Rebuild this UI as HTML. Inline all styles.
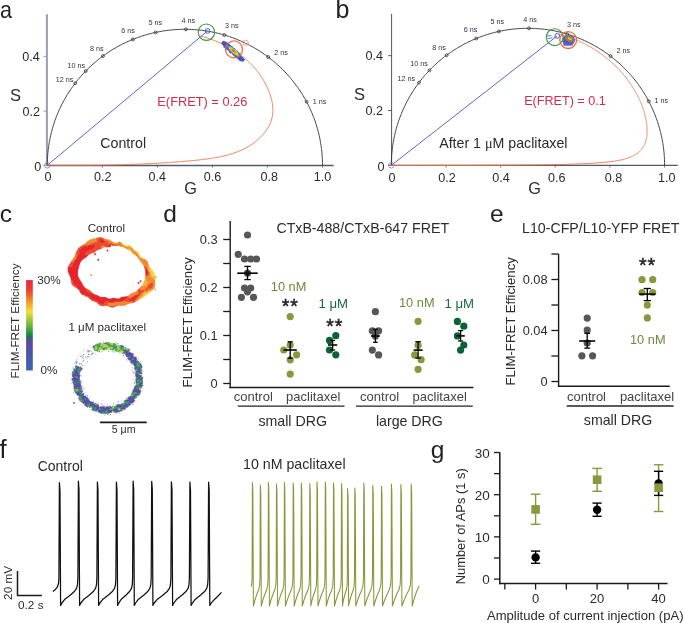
<!DOCTYPE html>
<html><head><meta charset="utf-8"><style>
html,body{margin:0;padding:0;background:#fff;}
svg{display:block;font-family:"Liberation Sans", sans-serif;will-change:transform;}
</style></head><body>
<svg width="685" height="623" viewBox="0 0 685 623">
<rect width="685" height="623" fill="#fff"/>
<text x="0.0" y="18.4" font-size="24" fill="#222" textLength="12" lengthAdjust="spacingAndGlyphs">a</text>
<line x1="46.90" y1="14.20" x2="46.90" y2="165.60" stroke="#9aa0aa" stroke-width="2.0" />
<line x1="43.40" y1="56.40" x2="46.90" y2="56.40" stroke="#9aa0aa" stroke-width="1" />
<line x1="43.40" y1="111.10" x2="46.90" y2="111.10" stroke="#9aa0aa" stroke-width="1" />
<line x1="43.40" y1="165.20" x2="46.90" y2="165.20" stroke="#9aa0aa" stroke-width="1" />
<line x1="46.80" y1="165.50" x2="333.70" y2="165.50" stroke="#555a68" stroke-width="1.4" />
<line x1="102.34" y1="165.50" x2="102.34" y2="167.70" stroke="#555a68" stroke-width="0.8" />
<line x1="157.38" y1="165.50" x2="157.38" y2="167.70" stroke="#555a68" stroke-width="0.8" />
<line x1="212.42" y1="165.50" x2="212.42" y2="167.70" stroke="#555a68" stroke-width="0.8" />
<line x1="267.46" y1="165.50" x2="267.46" y2="167.70" stroke="#555a68" stroke-width="0.8" />
<line x1="322.50" y1="165.50" x2="322.50" y2="167.70" stroke="#555a68" stroke-width="0.8" />
<path d="M322.50,165.30 L322.49,163.87 L322.47,162.44 L322.43,161.01 L322.38,159.59 L322.31,158.16 L322.23,156.73 L322.13,155.31 L322.01,153.88 L321.89,152.46 L321.74,151.04 L321.58,149.62 L321.41,148.20 L321.22,146.78 L321.01,145.37 L320.79,143.95 L320.56,142.54 L320.31,141.14 L320.05,139.73 L319.77,138.33 L319.47,136.93 L319.16,135.53 L318.84,134.14 L318.50,132.75 L318.15,131.37 L317.78,129.99 L317.40,128.61 L317.00,127.23 L316.59,125.86 L316.16,124.50 L315.72,123.14 L315.27,121.78 L314.80,120.43 L314.31,119.08 L313.81,117.74 L313.30,116.41 L312.77,115.08 L312.23,113.75 L311.68,112.43 L311.11,111.12 L310.53,109.81 L309.93,108.51 L309.32,107.21 L308.69,105.92 L308.06,104.64 L307.40,103.37 L306.74,102.10 L306.06,100.84 L305.37,99.58 L304.66,98.33 L303.94,97.09 L303.21,95.86 L302.47,94.64 L301.71,93.42 L300.94,92.21 L300.16,91.01 L299.36,89.82 L298.55,88.63 L297.73,87.46 L296.90,86.29 L296.05,85.13 L295.19,83.98 L294.32,82.84 L293.44,81.71 L292.54,80.59 L291.64,79.47 L290.72,78.37 L289.79,77.27 L288.85,76.19 L287.90,75.12 L286.93,74.05 L285.96,73.00 L284.97,71.95 L283.97,70.92 L282.96,69.89 L281.94,68.88 L280.91,67.88 L279.87,66.89 L278.82,65.91 L277.76,64.94 L276.69,63.98 L275.60,63.03 L274.51,62.09 L273.41,61.17 L272.30,60.26 L271.18,59.35 L270.04,58.46 L268.90,57.59 L267.75,56.72 L266.60,55.86 L265.43,55.02 L264.25,54.19 L263.07,53.37 L261.87,52.57 L260.67,51.78 L259.46,50.99 L258.24,50.23 L257.01,49.47 L255.78,48.73 L254.53,48.00 L253.28,47.28 L252.02,46.58 L250.76,45.89 L249.49,45.21 L248.20,44.55 L246.92,43.90 L245.62,43.26 L244.32,42.64 L243.02,42.03 L241.70,41.43 L240.38,40.85 L239.06,40.28 L237.72,39.72 L236.39,39.18 L235.04,38.65 L233.69,38.14 L232.34,37.64 L230.98,37.15 L229.61,36.68 L228.24,36.22 L226.87,35.78 L225.49,35.35 L224.11,34.94 L222.72,34.54 L221.33,34.15 L219.93,33.78 L218.53,33.42 L217.13,33.08 L215.72,32.76 L214.31,32.44 L212.90,32.14 L211.48,31.86 L210.06,31.59 L208.64,31.34 L207.21,31.10 L205.78,30.88 L204.35,30.67 L202.92,30.47 L201.49,30.29 L200.05,30.13 L198.61,29.98 L197.17,29.84 L195.73,29.72 L194.29,29.62 L192.85,29.53 L191.40,29.45 L189.96,29.39 L188.51,29.35 L187.07,29.32 L185.62,29.30 L184.18,29.30 L182.73,29.32 L181.29,29.35 L179.84,29.39 L178.40,29.45 L176.95,29.53 L175.51,29.62 L174.07,29.72 L172.63,29.84 L171.19,29.98 L169.75,30.13 L168.31,30.29 L166.88,30.47 L165.45,30.67 L164.02,30.88 L162.59,31.10 L161.16,31.34 L159.74,31.59 L158.32,31.86 L156.90,32.14 L155.49,32.44 L154.08,32.76 L152.67,33.08 L151.27,33.42 L149.87,33.78 L148.47,34.15 L147.08,34.54 L145.69,34.94 L144.31,35.35 L142.93,35.78 L141.56,36.22 L140.19,36.68 L138.82,37.15 L137.46,37.64 L136.11,38.14 L134.76,38.65 L133.41,39.18 L132.08,39.72 L130.74,40.28 L129.42,40.85 L128.10,41.43 L126.78,42.03 L125.48,42.64 L124.18,43.26 L122.88,43.90 L121.60,44.55 L120.31,45.21 L119.04,45.89 L117.78,46.58 L116.52,47.28 L115.27,48.00 L114.02,48.73 L112.79,49.47 L111.56,50.23 L110.34,50.99 L109.13,51.78 L107.93,52.57 L106.73,53.37 L105.55,54.19 L104.37,55.02 L103.20,55.86 L102.05,56.72 L100.90,57.59 L99.76,58.46 L98.62,59.35 L97.50,60.26 L96.39,61.17 L95.29,62.09 L94.20,63.03 L93.11,63.98 L92.04,64.94 L90.98,65.91 L89.93,66.89 L88.89,67.88 L87.86,68.88 L86.84,69.89 L85.83,70.92 L84.83,71.95 L83.84,73.00 L82.87,74.05 L81.90,75.12 L80.95,76.19 L80.01,77.27 L79.08,78.37 L78.16,79.47 L77.26,80.59 L76.36,81.71 L75.48,82.84 L74.61,83.98 L73.75,85.13 L72.90,86.29 L72.07,87.46 L71.25,88.63 L70.44,89.82 L69.64,91.01 L68.86,92.21 L68.09,93.42 L67.33,94.64 L66.59,95.86 L65.86,97.09 L65.14,98.33 L64.43,99.58 L63.74,100.84 L63.06,102.10 L62.40,103.37 L61.74,104.64 L61.11,105.92 L60.48,107.21 L59.87,108.51 L59.27,109.81 L58.69,111.12 L58.12,112.43 L57.57,113.75 L57.03,115.08 L56.50,116.41 L55.99,117.74 L55.49,119.08 L55.00,120.43 L54.53,121.78 L54.08,123.14 L53.64,124.50 L53.21,125.86 L52.80,127.23 L52.40,128.61 L52.02,129.99 L51.65,131.37 L51.30,132.75 L50.96,134.14 L50.64,135.53 L50.33,136.93 L50.03,138.33 L49.75,139.73 L49.49,141.14 L49.24,142.54 L49.01,143.95 L48.79,145.37 L48.58,146.78 L48.39,148.20 L48.22,149.62 L48.06,151.04 L47.91,152.46 L47.79,153.88 L47.67,155.31 L47.57,156.73 L47.49,158.16 L47.42,159.59 L47.37,161.01 L47.33,162.44 L47.31,163.87 L47.30,165.30" fill="none" stroke="#2e2e2e" stroke-width="0.9" stroke-linejoin="round" />
<circle cx="306.53" cy="101.71" r="1.45" fill="none" stroke="#333" stroke-width="0.8" />
<circle cx="268.10" cy="56.98" r="1.45" fill="none" stroke="#333" stroke-width="0.8" />
<circle cx="224.35" cy="35.01" r="1.45" fill="none" stroke="#333" stroke-width="0.8" />
<circle cx="185.90" cy="29.30" r="1.45" fill="none" stroke="#333" stroke-width="0.8" />
<circle cx="155.65" cy="32.41" r="1.45" fill="none" stroke="#333" stroke-width="0.8" />
<circle cx="132.83" cy="39.41" r="1.45" fill="none" stroke="#333" stroke-width="0.8" />
<circle cx="102.98" cy="56.03" r="1.45" fill="none" stroke="#333" stroke-width="0.8" />
<circle cx="85.74" cy="71.01" r="1.45" fill="none" stroke="#333" stroke-width="0.8" />
<circle cx="75.18" cy="83.22" r="1.45" fill="none" stroke="#333" stroke-width="0.8" />
<text x="73.30" y="82.40" font-size="7.2" fill="#333340" text-anchor="end" >12 ns</text>
<text x="85.20" y="67.50" font-size="7.2" fill="#333340" text-anchor="end" >10 ns</text>
<text x="103.50" y="51.00" font-size="7.2" fill="#333340" text-anchor="end" >8 ns</text>
<text x="134.90" y="33.20" font-size="7.2" fill="#333340" text-anchor="end" >6 ns</text>
<text x="155.40" y="25.10" font-size="7.2" fill="#333340" text-anchor="middle" >5 ns</text>
<text x="181.40" y="23.20" font-size="7.2" fill="#333340" text-anchor="start" >4 ns</text>
<text x="225.00" y="28.10" font-size="7.2" fill="#333340" text-anchor="start" >3 ns</text>
<text x="274.20" y="55.10" font-size="7.2" fill="#333340" text-anchor="start" >2 ns</text>
<text x="312.80" y="103.60" font-size="7.2" fill="#333340" text-anchor="start" >1 ns</text>
<line x1="47.30" y1="165.30" x2="207.60" y2="30.90" stroke="#5a6ac8" stroke-width="1.0" />
<circle cx="47.30" cy="165.30" r="2.80" fill="none" stroke="#7a82c8" stroke-width="0.8" />
<path d="M200.57,35.92 L201.46,36.17 L202.35,36.43 L203.23,36.69 L204.12,36.96 L205.00,37.23 L205.88,37.51 L206.75,37.79 L207.62,38.08 L208.49,38.38 L209.36,38.67 L210.22,38.98 L211.08,39.29 L211.94,39.60 L212.79,39.92 L213.64,40.24 L214.49,40.57 L215.33,40.90 L216.17,41.24 L217.01,41.59 L217.84,41.94 L218.67,42.30 L219.50,42.66 L220.32,43.03 L221.14,43.40 L221.95,43.78 L222.76,44.16 L223.57,44.55 L224.37,44.95 L225.17,45.35 L225.97,45.76 L226.76,46.17 L227.55,46.59 L228.33,47.01 L229.11,47.44 L229.88,47.88 L230.65,48.32 L231.42,48.77 L232.18,49.23 L232.94,49.69 L233.69,50.16 L234.44,50.63 L235.19,51.11 L235.92,51.60 L236.66,52.09 L237.39,52.59 L238.11,53.09 L238.84,53.60 L239.55,54.12 L240.26,54.65 L240.97,55.18 L241.67,55.72 L242.36,56.26 L243.05,56.81 L243.74,57.37 L244.42,57.94 L245.10,58.51 L245.77,59.09 L246.43,59.67 L247.09,60.27 L247.74,60.87 L248.39,61.47 L249.03,62.09 L249.67,62.71 L250.30,63.33 L250.93,63.97 L251.55,64.61 L252.16,65.26 L252.77,65.92 L253.37,66.58 L253.97,67.25 L254.56,67.93 L255.15,68.62 L255.73,69.31 L256.30,70.01 L256.86,70.72 L257.43,71.44 L257.98,72.16 L258.53,72.89 L259.07,73.63 L259.60,74.38 L260.13,75.13 L260.65,75.90 L261.17,76.67 L261.68,77.44 L262.18,78.23 L262.68,79.02 L263.17,79.83 L263.65,80.63 L264.12,81.45 L264.59,82.27 L265.04,83.10 L265.49,83.94 L265.93,84.78 L266.35,85.62 L266.77,86.47 L267.18,87.33 L267.58,88.19 L267.96,89.06 L268.33,89.93 L268.70,90.80 L269.04,91.68 L269.38,92.56 L269.70,93.44 L270.01,94.32 L270.31,95.21 L270.59,96.10 L270.86,96.99 L271.11,97.89 L271.35,98.78 L271.57,99.68 L271.77,100.57 L271.96,101.47 L272.14,102.37 L272.29,103.26 L272.43,104.16 L272.55,105.06 L272.65,105.95 L272.73,106.84 L272.79,107.74 L272.84,108.63 L272.86,109.51 L272.87,110.40 L272.85,111.28 L272.81,112.16 L272.76,113.04 L272.68,113.91 L272.57,114.78 L272.45,115.64 L272.30,116.50 L272.13,117.36 L271.94,118.21 L271.72,119.05 L271.48,119.89 L271.22,120.72 L270.93,121.55 L270.61,122.37 L270.28,123.18 L269.92,123.99 L269.55,124.79 L269.15,125.59 L268.73,126.37 L268.29,127.15 L267.84,127.92 L267.36,128.68 L266.87,129.43 L266.37,130.18 L265.85,130.91 L265.31,131.64 L264.76,132.36 L264.19,133.06 L263.61,133.76 L263.02,134.45 L262.42,135.12 L261.81,135.79 L261.18,136.45 L260.55,137.09 L259.91,137.72 L259.26,138.35 L258.60,138.95 L257.94,139.55 L257.26,140.14 L256.58,140.71 L255.90,141.28 L255.21,141.83 L254.51,142.37 L253.80,142.90 L253.09,143.41 L252.37,143.92 L251.65,144.42 L250.92,144.90 L250.18,145.38 L249.44,145.84 L248.70,146.30 L247.94,146.74 L247.18,147.18 L246.42,147.60 L245.65,148.02 L244.88,148.42 L244.10,148.82 L243.31,149.21 L242.52,149.59 L241.73,149.96 L240.93,150.32 L240.12,150.67 L239.32,151.01 L238.50,151.35 L237.69,151.67 L236.86,151.99 L236.04,152.30 L235.21,152.60 L234.37,152.90 L233.53,153.19 L232.69,153.47 L231.85,153.74 L231.00,154.00 L230.14,154.26 L229.29,154.51 L228.43,154.76 L227.56,155.00 L226.70,155.23 L225.83,155.45 L224.96,155.67 L224.08,155.89 L223.20,156.09 L222.32,156.29 L221.44,156.49 L220.55,156.68 L219.67,156.86 L218.77,157.04 L217.88,157.22 L216.99,157.39 L216.09,157.55 L215.19,157.71 L214.29,157.87 L213.39,158.02 L212.48,158.16 L211.58,158.31 L210.67,158.44 L209.76,158.58 L208.85,158.71 L207.94,158.84 L207.03,158.96 L206.12,159.08 L205.20,159.20 L204.29,159.31 L203.37,159.42 L202.46,159.53 L201.54,159.64 L200.63,159.74 L199.71,159.84 L198.79,159.94 L197.87,160.04 L196.96,160.13 L196.04,160.22 L195.12,160.32 L194.20,160.41 L193.29,160.49 L192.37,160.58 L191.46,160.67 L190.54,160.75 L189.63,160.83 L188.71,160.92 L187.80,161.00 L186.89,161.08 L185.97,161.16 L185.06,161.24 L184.15,161.32 L183.24,161.39 L182.33,161.47 L181.42,161.54 L180.51,161.62 L179.60,161.69 L178.70,161.76 L177.79,161.83 L176.88,161.90 L175.98,161.97 L175.07,162.04 L174.16,162.11 L173.26,162.18 L172.35,162.24 L171.45,162.31 L170.55,162.37 L169.64,162.43 L168.74,162.49 L167.84,162.55 L166.94,162.61 L166.03,162.67 L165.13,162.73 L164.23,162.79 L163.33,162.85 L162.43,162.90 L161.53,162.96 L160.63,163.01 L159.73,163.07 L158.83,163.12 L157.93,163.17 L157.04,163.22 L156.14,163.27 L155.24,163.32 L154.34,163.37 L153.44,163.42 L152.55,163.46 L151.65,163.51 L150.75,163.56 L149.86,163.60 L148.96,163.65 L148.07,163.69 L147.17,163.73 L146.27,163.77 L145.38,163.81 L144.48,163.85 L143.59,163.89 L142.69,163.93 L141.80,163.97 L140.91,164.01 L140.01,164.05 L139.12,164.08 L138.22,164.12 L137.33,164.15 L136.43,164.19 L135.54,164.22 L134.65,164.25 L133.75,164.28 L132.86,164.32 L131.97,164.35 L131.07,164.38 L130.18,164.41 L129.29,164.44 L128.39,164.46 L127.50,164.49 L126.61,164.52 L125.71,164.55 L124.82,164.57 L123.93,164.60 L123.03,164.62 L122.14,164.65 L121.25,164.67 L120.35,164.69 L119.46,164.71 L118.56,164.74 L117.67,164.76 L116.78,164.78 L115.88,164.80 L114.99,164.82 L114.10,164.84 L113.20,164.86 L112.31,164.88 L111.41,164.89 L110.52,164.91 L109.62,164.93 L108.73,164.94 L107.83,164.96 L106.94,164.98 L106.04,164.99 L105.15,165.00 L104.25,165.02 L103.35,165.03 L102.46,165.05 L101.56,165.06 L100.67,165.07 L99.77,165.08 L98.87,165.09 L97.97,165.10 L97.08,165.11 L96.18,165.13 L95.28,165.13 L94.38,165.14 L93.48,165.15 L92.58,165.16 L91.68,165.17 L90.78,165.18 L89.88,165.19 L88.98,165.19 L88.08,165.20 L87.18,165.21 L86.28,165.21 L85.38,165.22 L84.47,165.22 L83.57,165.23 L82.67,165.23 L81.76,165.24 L80.86,165.24 L79.96,165.25 L79.05,165.25 L78.15,165.25 L77.24,165.26 L76.33,165.26 L75.43,165.26 L74.52,165.26 L73.61,165.27 L72.70,165.27 L71.80,165.27 L70.89,165.27 L69.98,165.27 L69.07,165.27 L68.15,165.27 L67.24,165.28 L66.33,165.28 L65.42,165.28 L64.51,165.28 L63.59,165.28 L62.68,165.27 L61.76,165.27 L60.85,165.27 L59.93,165.27 L59.02,165.27 L58.10,165.27 L57.18,165.27 L56.26,165.27 L55.34,165.27 L54.42,165.26 L53.50,165.26 L52.58,165.26 L51.66,165.26 L50.74,165.26 L49.81,165.25 L48.89,165.25 L47.96,165.25 L47.04,165.25" fill="none" stroke="#f07a50" stroke-width="1.0" stroke-linejoin="round"/>

<g transform="translate(233.1,51.4) rotate(41)">
<path d="M-14.5,-1.6 L-13.5,-2.2 L-12.6,-2.0 L-11.6,-2.7 L-10.6,-2.6 L-9.7,-3.2 L-8.7,-3.0 L-7.7,-3.5 L-6.8,-2.9 L-5.8,-3.2 L-4.8,-3.1 L-3.9,-3.5 L-2.9,-3.2 L-1.9,-2.8 L-1.0,-3.5 L0.0,-3.3 L0.9,-3.1 L1.9,-2.7 L2.9,-3.4 L3.8,-2.7 L4.8,-3.0 L5.8,-2.8 L6.7,-3.4 L7.7,-2.9 L8.7,-2.1 L9.6,-1.9 L10.6,-2.0 L11.6,-1.8 L12.5,-1.7 L14.5,-1.5 L14.5,1.6 L13.5,1.4 L12.6,2.4 L11.6,2.6 L10.6,2.8 L9.7,3.1 L8.7,2.6 L7.7,3.1 L6.8,2.9 L5.8,3.4 L4.8,3.3 L3.9,2.8 L2.9,2.9 L1.9,3.0 L1.0,2.5 L0.0,2.5 L-0.9,3.5 L-1.9,3.5 L-2.9,2.6 L-3.8,2.8 L-4.8,2.6 L-5.8,3.0 L-6.7,3.4 L-7.7,3.6 L-8.7,2.8 L-9.6,3.6 L-10.6,2.3 L-11.6,2.4 L-12.5,1.9 L-14.5,1.6Z" fill="#4654c0"/>
<ellipse cx="0.2" cy="-0.5" rx="8.2" ry="2.5" fill="#4a8ad0"/>
<ellipse cx="0.3" cy="-0.5" rx="7.0" ry="2.1" fill="#7cc060"/>
<ellipse cx="0.4" cy="-0.6" rx="5.6" ry="1.8" fill="#d8d840"/>
<ellipse cx="0.0" cy="-0.7" rx="3.4" ry="1.3" fill="#f09a30"/>
<ellipse cx="-0.3" cy="-0.8" rx="1.6" ry="0.8" fill="#e85a30"/>
</g>
<circle cx="206.40" cy="32.20" r="8.20" fill="none" stroke="#3c9a4c" stroke-width="1.1" />
<circle cx="207.60" cy="30.90" r="2.40" fill="none" stroke="#4a5ad0" stroke-width="1.0" />
<circle cx="234.00" cy="49.40" r="8.50" fill="none" stroke="#f06a3a" stroke-width="1.3" />
<circle cx="245.60" cy="42.80" r="2.70" fill="none" stroke="#f08a70" stroke-width="0.8" />
<text x="48.00" y="181.30" font-size="12.6" fill="#2b2b2b" text-anchor="middle" >0</text>
<text x="102.70" y="181.30" font-size="12.6" fill="#2b2b2b" text-anchor="middle" >0.2</text>
<text x="157.30" y="181.30" font-size="12.6" fill="#2b2b2b" text-anchor="middle" >0.4</text>
<text x="212.40" y="181.30" font-size="12.6" fill="#2b2b2b" text-anchor="middle" >0.6</text>
<text x="269.20" y="181.30" font-size="12.6" fill="#2b2b2b" text-anchor="middle" >0.8</text>
<text x="322.50" y="181.30" font-size="12.6" fill="#2b2b2b" text-anchor="middle" >1.0</text>
<text x="39.80" y="60.70" font-size="12.6" fill="#2b2b2b" text-anchor="end" >0.4</text>
<text x="40.00" y="115.80" font-size="12.6" fill="#2b2b2b" text-anchor="end" >0.2</text>
<text x="41.20" y="170.70" font-size="12.6" fill="#2b2b2b" text-anchor="end" >0</text>
<text x="10.00" y="100.50" font-size="16.5" fill="#2b2b2b" text-anchor="start" >S</text>
<text x="190.50" y="194.20" font-size="16.3" fill="#2b2b2b" text-anchor="middle" >G</text>
<text x="247.30" y="106.20" font-size="12.8" fill="#d02c4c" text-anchor="end" >E(FRET) = 0.26</text>
<text x="100.30" y="147.50" font-size="14.2" fill="#2b2b2b" text-anchor="start" >Control</text>
<text x="335.5" y="18.3" font-size="25" fill="#222">b</text>
<line x1="391.60" y1="13.90" x2="391.60" y2="165.60" stroke="#555" stroke-width="1.0" />
<line x1="388.10" y1="55.70" x2="391.60" y2="55.70" stroke="#555" stroke-width="1" />
<line x1="388.10" y1="110.50" x2="391.60" y2="110.50" stroke="#555" stroke-width="1" />
<line x1="388.10" y1="165.20" x2="391.60" y2="165.20" stroke="#555" stroke-width="1" />
<line x1="390.80" y1="165.40" x2="677.80" y2="165.40" stroke="#555a68" stroke-width="1.4" />
<line x1="445.96" y1="165.40" x2="445.96" y2="167.60" stroke="#555a68" stroke-width="0.8" />
<line x1="500.62" y1="165.40" x2="500.62" y2="167.60" stroke="#555a68" stroke-width="0.8" />
<line x1="555.28" y1="165.40" x2="555.28" y2="167.60" stroke="#555a68" stroke-width="0.8" />
<line x1="609.94" y1="165.40" x2="609.94" y2="167.60" stroke="#555a68" stroke-width="0.8" />
<line x1="664.60" y1="165.40" x2="664.60" y2="167.60" stroke="#555a68" stroke-width="0.8" />
<path d="M664.60,165.30 L664.59,163.86 L664.57,162.42 L664.53,160.98 L664.48,159.54 L664.41,158.11 L664.33,156.67 L664.23,155.23 L664.12,153.80 L663.99,152.36 L663.85,150.93 L663.69,149.50 L663.52,148.07 L663.33,146.65 L663.12,145.22 L662.91,143.80 L662.67,142.38 L662.43,140.96 L662.16,139.54 L661.89,138.13 L661.59,136.72 L661.29,135.32 L660.97,133.91 L660.63,132.51 L660.28,131.12 L659.91,129.73 L659.53,128.34 L659.14,126.95 L658.73,125.57 L658.31,124.20 L657.87,122.83 L657.42,121.46 L656.95,120.10 L656.47,118.74 L655.97,117.39 L655.46,116.05 L654.94,114.71 L654.40,113.37 L653.85,112.04 L653.29,110.72 L652.71,109.40 L652.12,108.09 L651.51,106.79 L650.89,105.49 L650.26,104.20 L649.61,102.91 L648.95,101.63 L648.27,100.36 L647.59,99.10 L646.89,97.84 L646.17,96.59 L645.45,95.35 L644.71,94.12 L643.95,92.89 L643.19,91.67 L642.41,90.46 L641.62,89.26 L640.82,88.07 L640.00,86.88 L639.17,85.71 L638.33,84.54 L637.48,83.38 L636.62,82.23 L635.74,81.09 L634.85,79.96 L633.95,78.84 L633.04,77.73 L632.12,76.63 L631.18,75.53 L630.23,74.45 L629.28,73.38 L628.31,72.32 L627.33,71.27 L626.34,70.22 L625.33,69.19 L624.32,68.17 L623.30,67.16 L622.27,66.16 L621.22,65.18 L620.17,64.20 L619.10,63.23 L618.03,62.28 L616.94,61.34 L615.85,60.40 L614.74,59.48 L613.63,58.57 L612.51,57.68 L611.37,56.79 L610.23,55.92 L609.08,55.06 L607.92,54.21 L606.75,53.38 L605.58,52.55 L604.39,51.74 L603.20,50.94 L601.99,50.15 L600.78,49.38 L599.56,48.62 L598.34,47.87 L597.10,47.14 L595.86,46.42 L594.61,45.71 L593.35,45.01 L592.09,44.33 L590.82,43.66 L589.54,43.00 L588.25,42.36 L586.96,41.73 L585.66,41.12 L584.36,40.52 L583.05,39.93 L581.73,39.36 L580.41,38.80 L579.08,38.25 L577.75,37.72 L576.41,37.20 L575.06,36.70 L573.71,36.21 L572.36,35.74 L571.00,35.27 L569.63,34.83 L568.26,34.40 L566.89,33.98 L565.51,33.58 L564.13,33.19 L562.74,32.81 L561.35,32.46 L559.96,32.11 L558.56,31.78 L557.16,31.47 L555.75,31.17 L554.35,30.88 L552.93,30.61 L551.52,30.35 L550.11,30.11 L548.69,29.89 L547.27,29.68 L545.85,29.48 L544.42,29.30 L543.00,29.13 L541.57,28.98 L540.14,28.85 L538.71,28.73 L537.28,28.62 L535.84,28.53 L534.41,28.45 L532.97,28.39 L531.54,28.35 L530.10,28.32 L528.67,28.30 L527.23,28.30 L525.80,28.32 L524.36,28.35 L522.93,28.39 L521.49,28.45 L520.06,28.53 L518.62,28.62 L517.19,28.73 L515.76,28.85 L514.33,28.98 L512.90,29.13 L511.48,29.30 L510.05,29.48 L508.63,29.68 L507.21,29.89 L505.79,30.11 L504.38,30.35 L502.97,30.61 L501.55,30.88 L500.15,31.17 L498.74,31.47 L497.34,31.78 L495.94,32.11 L494.55,32.46 L493.16,32.81 L491.77,33.19 L490.39,33.58 L489.01,33.98 L487.64,34.40 L486.27,34.83 L484.90,35.27 L483.54,35.74 L482.19,36.21 L480.84,36.70 L479.49,37.20 L478.15,37.72 L476.82,38.25 L475.49,38.80 L474.17,39.36 L472.85,39.93 L471.54,40.52 L470.24,41.12 L468.94,41.73 L467.65,42.36 L466.36,43.00 L465.08,43.66 L463.81,44.33 L462.55,45.01 L461.29,45.71 L460.04,46.42 L458.80,47.14 L457.56,47.87 L456.34,48.62 L455.12,49.38 L453.91,50.15 L452.70,50.94 L451.51,51.74 L450.32,52.55 L449.15,53.38 L447.98,54.21 L446.82,55.06 L445.67,55.92 L444.53,56.79 L443.39,57.68 L442.27,58.57 L441.16,59.48 L440.05,60.40 L438.96,61.34 L437.87,62.28 L436.80,63.23 L435.73,64.20 L434.68,65.18 L433.63,66.16 L432.60,67.16 L431.58,68.17 L430.57,69.19 L429.56,70.22 L428.57,71.27 L427.59,72.32 L426.62,73.38 L425.67,74.45 L424.72,75.53 L423.78,76.63 L422.86,77.73 L421.95,78.84 L421.05,79.96 L420.16,81.09 L419.28,82.23 L418.42,83.38 L417.57,84.54 L416.73,85.71 L415.90,86.88 L415.08,88.07 L414.28,89.26 L413.49,90.46 L412.71,91.67 L411.95,92.89 L411.19,94.12 L410.45,95.35 L409.73,96.59 L409.01,97.84 L408.31,99.10 L407.63,100.36 L406.95,101.63 L406.29,102.91 L405.64,104.20 L405.01,105.49 L404.39,106.79 L403.78,108.09 L403.19,109.40 L402.61,110.72 L402.05,112.04 L401.50,113.37 L400.96,114.71 L400.44,116.05 L399.93,117.39 L399.43,118.74 L398.95,120.10 L398.48,121.46 L398.03,122.83 L397.59,124.20 L397.17,125.57 L396.76,126.95 L396.37,128.34 L395.99,129.73 L395.62,131.12 L395.27,132.51 L394.93,133.91 L394.61,135.32 L394.31,136.72 L394.01,138.13 L393.74,139.54 L393.47,140.96 L393.23,142.38 L392.99,143.80 L392.78,145.22 L392.57,146.65 L392.38,148.07 L392.21,149.50 L392.05,150.93 L391.91,152.36 L391.78,153.80 L391.67,155.23 L391.57,156.67 L391.49,158.11 L391.42,159.54 L391.37,160.98 L391.33,162.42 L391.31,163.86 L391.30,165.30" fill="none" stroke="#2e2e2e" stroke-width="0.9" stroke-linejoin="round" />
<circle cx="648.74" cy="101.24" r="1.45" fill="none" stroke="#333" stroke-width="0.8" />
<circle cx="610.57" cy="56.18" r="1.45" fill="none" stroke="#333" stroke-width="0.8" />
<circle cx="567.13" cy="34.05" r="1.45" fill="none" stroke="#333" stroke-width="0.8" />
<circle cx="528.95" cy="28.30" r="1.45" fill="none" stroke="#333" stroke-width="0.8" />
<circle cx="498.90" cy="31.43" r="1.45" fill="none" stroke="#333" stroke-width="0.8" />
<circle cx="476.24" cy="38.49" r="1.45" fill="none" stroke="#333" stroke-width="0.8" />
<circle cx="446.60" cy="55.22" r="1.45" fill="none" stroke="#333" stroke-width="0.8" />
<circle cx="429.47" cy="70.32" r="1.45" fill="none" stroke="#333" stroke-width="0.8" />
<circle cx="418.99" cy="82.62" r="1.45" fill="none" stroke="#333" stroke-width="0.8" />
<text x="415.20" y="81.20" font-size="7.2" fill="#333340" text-anchor="end" >12 ns</text>
<text x="427.90" y="66.30" font-size="7.2" fill="#333340" text-anchor="end" >10 ns</text>
<text x="445.90" y="49.50" font-size="7.2" fill="#333340" text-anchor="end" >8 ns</text>
<text x="477.40" y="32.20" font-size="7.2" fill="#333340" text-anchor="end" >6 ns</text>
<text x="497.40" y="24.00" font-size="7.2" fill="#333340" text-anchor="middle" >5 ns</text>
<text x="523.20" y="21.70" font-size="7.2" fill="#333340" text-anchor="start" >4 ns</text>
<text x="567.00" y="26.50" font-size="7.2" fill="#333340" text-anchor="start" >3 ns</text>
<text x="616.50" y="53.40" font-size="7.2" fill="#333340" text-anchor="start" >2 ns</text>
<text x="654.40" y="102.80" font-size="7.2" fill="#333340" text-anchor="start" >1 ns</text>
<line x1="391.30" y1="165.30" x2="557.20" y2="35.90" stroke="#5a6ac8" stroke-width="1.0" />
<circle cx="391.30" cy="165.30" r="2.80" fill="none" stroke="#7a82c8" stroke-width="0.8" />
<path d="M558.50,33.96 L558.60,33.98 L558.70,34.01 L558.79,34.03 L558.89,34.06 L558.99,34.08 L559.08,34.11 L559.18,34.14 L559.28,34.16 L559.37,34.19 L559.47,34.21 L559.57,34.24 L559.66,34.27 L559.76,34.29 L559.86,34.32 L559.95,34.34 L560.05,34.37 L560.15,34.40 L560.24,34.42 L560.34,34.45 L560.44,34.48 L560.54,34.50 L560.63,34.53 L560.73,34.56 L560.83,34.59 L560.92,34.61 L561.02,34.64 L561.12,34.67 L561.22,34.70 L561.31,34.72 L561.41,34.75 L561.51,34.78 L561.61,34.81 L561.70,34.83 L561.80,34.86 L561.90,34.89 L562.00,34.92 L562.09,34.95 L562.19,34.98 L562.29,35.00 L562.39,35.03 L562.49,35.06 L562.58,35.09 L562.68,35.12 L562.78,35.15 L562.88,35.18 L562.97,35.21 L563.07,35.24 L563.17,35.27 L563.27,35.30 L563.37,35.32 L563.46,35.35 L563.56,35.38 L563.66,35.41 L563.76,35.44 L563.86,35.47 L563.96,35.50 L564.05,35.53 L564.15,35.56 L564.25,35.60 L564.35,35.63 L564.45,35.66 L564.55,35.69 L564.64,35.72 L564.74,35.75 L564.84,35.78 L564.94,35.81 L565.04,35.84 L565.14,35.87 L565.24,35.91 L565.33,35.94 L565.43,35.97 L565.53,36.00 L565.63,36.03 L565.73,36.06 L565.83,36.10 L565.93,36.13 L566.03,36.16 L566.13,36.19 L566.22,36.22 L566.32,36.26 L566.42,36.29 L566.52,36.32 L566.62,36.35 L566.72,36.39 L566.82,36.42 L566.92,36.45 L567.02,36.49 L567.12,36.52 L567.22,36.55 L567.31,36.59 L567.41,36.62 L567.51,36.65 L567.61,36.69 L567.71,36.72 L567.81,36.76 L567.91,36.79 L568.01,36.82 L568.11,36.86 L568.21,36.89 L568.31,36.93 L568.41,36.96 L568.51,37.00 L568.61,37.03 L568.71,37.07 L568.81,37.10 L568.91,37.14 L569.01,37.17 L569.11,37.21 L569.21,37.24 L569.31,37.28 L569.41,37.31 L569.51,37.35 L569.61,37.38 L569.71,37.42 L569.81,37.46 L569.91,37.49 L570.01,37.53 L570.11,37.56 L570.21,37.60 L570.31,37.64 L570.41,37.67 L570.51,37.71 L570.61,37.75 L570.71,37.78 L570.81,37.82 L570.91,37.86 L571.01,37.90 L571.11,37.93 L571.21,37.97 L571.31,38.01 L571.41,38.04 L571.51,38.08 L571.61,38.12 L571.71,38.16 L571.81,38.20 L571.91,38.23 L572.01,38.27 L572.11,38.31 L572.21,38.35 L572.31,38.39 L572.41,38.43 L572.51,38.47 L572.62,38.50 L572.72,38.54 L572.82,38.58 L572.92,38.62 L573.02,38.66 L573.12,38.70 L573.22,38.74 L573.32,38.78 L573.42,38.82 L573.52,38.86 L573.62,38.90 L573.72,38.94 L573.82,38.98 L573.93,39.02 L574.03,39.06 L574.13,39.10 L574.23,39.14 L574.33,39.18 L574.43,39.22 L574.53,39.26 L574.63,39.30 L574.73,39.34 L574.84,39.39 L574.94,39.43 L575.04,39.47 L575.14,39.51 L575.24,39.55 L575.34,39.59 L575.44,39.64 L575.54,39.68 L575.64,39.72 L575.75,39.76 L575.85,39.80 L575.95,39.85 L576.05,39.89 L576.15,39.93 L576.25,39.97 L576.35,40.02 L576.46,40.06 L576.56,40.10 L576.66,40.15 L576.76,40.19 L576.86,40.23 L576.96,40.28 L577.06,40.32 L577.17,40.36 L577.27,40.41 L577.37,40.45 L577.47,40.50 L577.57,40.54 L577.67,40.58 L577.78,40.63 L577.88,40.67 L577.98,40.72 L578.08,40.76 L578.18,40.81 L578.28,40.85 L578.39,40.90 L578.49,40.94 L578.59,40.99 L578.69,41.03 L578.79,41.08 L578.90,41.12 L579.00,41.17 L579.10,41.22 L579.20,41.26 L579.30,41.31 L579.41,41.35 L579.51,41.40 L579.61,41.45 L579.71,41.49 L579.81,41.54 L579.91,41.59 L580.02,41.63 L580.12,41.68 L580.22,41.73 L580.32,41.77 L580.43,41.82 L580.53,41.87 L580.63,41.92 L580.73,41.96 L580.83,42.01 L580.94,42.06 L581.04,42.11 L581.14,42.16 L581.24,42.20 L581.34,42.25 L581.45,42.30 L581.55,42.35 L581.65,42.40 L581.75,42.45 L581.86,42.50 L581.96,42.55 L582.06,42.59 L582.16,42.64 L582.26,42.69 L582.37,42.74 L582.47,42.79 L582.57,42.84 L582.67,42.89 L582.78,42.94 L582.88,42.99 L582.98,43.04 L583.08,43.09 L583.19,43.14 L583.29,43.19 L583.39,43.24 L583.49,43.30 L583.59,43.35 L583.70,43.40 L583.80,43.45 L583.90,43.50 L584.00,43.55 L584.11,43.60 L584.21,43.65 L584.31,43.71 L584.41,43.76 L584.52,43.81 L584.62,43.86 L584.72,43.91 L584.82,43.97 L584.93,44.02 L585.03,44.07 L585.13,44.12 L585.23,44.18 L585.34,44.23 L585.44,44.28 L585.54,44.34 L585.64,44.39 L585.75,44.44 L585.85,44.50 L585.95,44.55 L586.05,44.60 L586.16,44.66 L586.26,44.71 L586.36,44.77 L586.46,44.82 L586.57,44.87 L586.67,44.93 L586.77,44.98 L586.87,45.04 L586.98,45.09 L587.08,45.15 L587.18,45.20 L587.29,45.26 L587.39,45.31 L587.49,45.37 L587.59,45.43 L587.70,45.48 L587.80,45.54 L587.90,45.59 L588.00,45.65 L588.11,45.71 L588.21,45.76 L588.31,45.82 L588.41,45.87 L588.52,45.93 L588.62,45.99 L588.72,46.05 L588.82,46.10 L588.93,46.16 L589.03,46.22 L589.13,46.27 L589.23,46.33 L589.34,46.39 L589.44,46.45 L589.54,46.51 L589.65,46.56 L589.75,46.62 L589.85,46.68 L589.95,46.74 L590.06,46.80 L590.16,46.86 L590.26,46.91 L590.36,46.97 L590.47,47.03 L590.57,47.09 L590.67,47.15 L590.77,47.21 L590.88,47.27 L590.98,47.33 L591.08,47.39 L591.18,47.45 L591.29,47.51 L591.39,47.57 L591.49,47.63 L591.59,47.69 L591.70,47.75 L591.80,47.81 L591.90,47.87 L592.01,47.93 L592.11,48.00 L592.21,48.06 L592.31,48.12 L592.42,48.18 L592.52,48.24 L592.62,48.30 L592.72,48.36 L592.83,48.43 L592.93,48.49 L593.03,48.55 L593.13,48.61 L593.24,48.68 L593.34,48.74 L593.44,48.80 L593.54,48.86 L593.64,48.93 L593.75,48.99 L593.85,49.05 L593.95,49.12 L594.05,49.18 L594.16,49.24 L594.26,49.31 L594.36,49.37 L594.46,49.44 L594.57,49.50 L594.67,49.56 L594.77,49.63 L594.87,49.69 L594.98,49.76 L595.08,49.82 L595.18,49.89 L595.28,49.95 L595.38,50.02 L595.49,50.08 L595.59,50.15 L595.69,50.21 L595.79,50.28 L595.90,50.35 L596.00,50.41 L596.10,50.48 L596.20,50.54 L596.30,50.61 L596.41,50.68 L596.51,50.74 L596.61,50.81 L596.71,50.88 L596.82,50.94 L596.92,51.01 L597.02,51.08 L597.12,51.15 L597.22,51.21 L597.33,51.28 L597.43,51.35 L597.53,51.42 L597.63,51.49 L597.73,51.55 L597.84,51.62 L597.94,51.69 L598.04,51.76 L598.14,51.83 L598.24,51.90 L598.34,51.97 L598.45,52.03 L598.55,52.10 L598.65,52.17 L598.75,52.24 L598.85,52.31 L598.96,52.38 L599.06,52.45 L599.16,52.52 L599.26,52.59 L599.36,52.66 L599.46,52.73 L599.57,52.80 L599.67,52.87 L599.77,52.95 L599.87,53.02 L599.97,53.09 L600.07,53.16 L600.17,53.23 L600.28,53.30 L600.38,53.37 L600.48,53.45 L600.58,53.52 L600.68,53.59 L600.78,53.66 L600.88,53.73 L600.99,53.81 L601.09,53.88 L601.19,53.95 L601.29,54.02 L601.39,54.10 L601.49,54.17 L601.59,54.24 L601.69,54.32 L601.79,54.39 L601.90,54.47 L602.00,54.54 L602.10,54.61 L602.20,54.69 L602.30,54.76 L602.40,54.84 L602.50,54.91 L602.60,54.98 L602.70,55.06 L602.80,55.13 L602.91,55.21 L603.01,55.28 L603.11,55.36 L603.21,55.44 L603.31,55.51 L603.41,55.59 L603.51,55.66 L603.61,55.74 L603.71,55.81 L603.81,55.89 L603.91,55.97 L604.01,56.04 L604.11,56.12 L604.21,56.20 L604.31,56.27 L604.41,56.35 L604.51,56.43 L604.61,56.51 L604.71,56.58 L604.82,56.66 L604.92,56.74 L605.02,56.82 L605.12,56.90 L605.22,56.97 L605.32,57.05 L605.42,57.13 L605.52,57.21 L605.62,57.29 L605.72,57.37 L605.82,57.45 L605.92,57.52 L606.02,57.60 L606.12,57.68 L606.22,57.76 L606.31,57.84 L606.41,57.92 L606.51,58.00 L606.61,58.08 L606.71,58.16 L606.81,58.24 L606.91,58.32 L607.01,58.40 L607.11,58.49 L607.21,58.57 L607.31,58.65 L607.41,58.73 L607.51,58.81 L607.61,58.89 L607.71,58.97 L607.81,59.06 L607.91,59.14 L608.00,59.22 L608.10,59.30 L608.20,59.38 L608.30,59.47 L608.40,59.55 L608.50,59.63 L608.60,59.71 L608.70,59.80 L608.80,59.88 L608.89,59.96 L608.99,60.05 L609.09,60.13 L609.19,60.22 L609.29,60.30 L609.39,60.38 L609.49,60.47 L609.58,60.55 L609.68,60.64 L609.78,60.72 L609.88,60.81 L609.98,60.89 L610.08,60.98 L610.17,61.06 L610.27,61.15 L610.37,61.23 L610.47,61.32 L610.57,61.40 L610.66,61.49 L610.76,61.57 L610.86,61.66 L610.96,61.75 L611.05,61.83 L611.15,61.92 L611.25,62.01 L611.35,62.09 L611.44,62.18 L611.54,62.27 L611.64,62.35 L611.74,62.44 L611.83,62.53 L611.93,62.62 L612.03,62.71 L612.13,62.79 L612.22,62.88 L612.32,62.97 L612.42,63.06 L612.51,63.15 L612.61,63.24 L612.71,63.32 L612.80,63.41 L612.90,63.50 L613.00,63.59 L613.09,63.68 L613.19,63.77 L613.29,63.86 L613.38,63.95 L613.48,64.04 L613.58,64.13 L613.67,64.22 L613.77,64.31 L613.87,64.40 L613.96,64.49 L614.06,64.58 L614.15,64.67 L614.25,64.76 L614.35,64.86 L614.44,64.95 L614.54,65.04 L614.63,65.13 L614.73,65.22 L614.82,65.31 L614.92,65.41 L615.01,65.50 L615.11,65.59 L615.21,65.68 L615.30,65.78 L615.40,65.87 L615.49,65.96 L615.59,66.05 L615.68,66.15 L615.78,66.24 L615.87,66.33 L615.97,66.43 L616.06,66.52 L616.16,66.62 L616.25,66.71 L616.35,66.80 L616.44,66.90 L616.53,66.99 L616.63,67.09 L616.72,67.18 L616.82,67.28 L616.91,67.37 L617.01,67.47 L617.10,67.56 L617.19,67.66 L617.29,67.75 L617.38,67.85 L617.48,67.95 L617.57,68.04 L617.66,68.14 L617.76,68.23 L617.85,68.33 L617.94,68.43 L618.04,68.52 L618.13,68.62 L618.22,68.72 L618.32,68.82 L618.41,68.91 L618.50,69.01 L618.60,69.11 L618.69,69.21 L618.78,69.30 L618.87,69.40 L618.97,69.50 L619.06,69.60 L619.15,69.70 L619.24,69.80 L619.34,69.89 L619.43,69.99 L619.52,70.09 L619.61,70.19 L619.71,70.29 L619.80,70.39 L619.89,70.49 L619.98,70.59 L620.07,70.69 L620.16,70.79 L620.26,70.89 L620.35,70.99 L620.44,71.09 L620.53,71.19 L620.62,71.29 L620.71,71.39 L620.80,71.49 L620.90,71.59 L620.99,71.70 L621.08,71.80 L621.17,71.90 L621.26,72.00 L621.35,72.10 L621.44,72.20 L621.53,72.31 L621.62,72.41 L621.71,72.51 L621.80,72.61 L621.89,72.72 L621.98,72.82 L622.07,72.92 L622.16,73.03 L622.25,73.13 L622.34,73.23 L622.43,73.34 L622.52,73.44 L622.61,73.54 L622.70,73.65 L622.79,73.75 L622.88,73.86 L622.97,73.96 L623.06,74.07 L623.15,74.17 L623.23,74.28 L623.32,74.38 L623.41,74.49 L623.50,74.59 L623.59,74.70 L623.68,74.80 L623.77,74.91 L623.85,75.01 L623.94,75.12 L624.03,75.23 L624.12,75.33 L624.21,75.44 L624.29,75.54 L624.38,75.65 L624.47,75.76 L624.56,75.87 L624.64,75.97 L624.73,76.08 L624.82,76.19 L624.91,76.29 L624.99,76.40 L625.08,76.51 L625.17,76.62 L625.25,76.73 L625.34,76.83 L625.43,76.94 L625.51,77.05 L625.60,77.16 L625.69,77.27 L625.77,77.38 L625.86,77.49 L625.94,77.60 L626.03,77.71 L626.12,77.82 L626.20,77.93 L626.29,78.04 L626.37,78.15 L626.46,78.26 L626.54,78.37 L626.63,78.48 L626.71,78.59 L626.80,78.70 L626.88,78.81 L626.97,78.92 L627.05,79.03 L627.14,79.14 L627.22,79.25 L627.31,79.36 L627.39,79.48 L627.48,79.59 L627.56,79.70 L627.64,79.81 L627.73,79.92 L627.81,80.04 L627.89,80.15 L627.98,80.26 L628.06,80.37 L628.14,80.49 L628.23,80.60 L628.31,80.71 L628.39,80.83 L628.48,80.94 L628.56,81.05 L628.64,81.17 L628.72,81.28 L628.81,81.40 L628.89,81.51 L628.97,81.62 L629.05,81.74 L629.14,81.85 L629.22,81.97 L629.30,82.08 L629.38,82.20 L629.46,82.31 L629.54,82.43 L629.63,82.54 L629.71,82.66 L629.79,82.77 L629.87,82.89 L629.95,83.01 L630.03,83.12 L630.11,83.24 L630.19,83.35 L630.27,83.47 L630.35,83.59 L630.43,83.70 L630.51,83.82 L630.59,83.94 L630.67,84.06 L630.75,84.17 L630.83,84.29 L630.91,84.41 L630.99,84.53 L631.07,84.64 L631.15,84.76 L631.23,84.88 L631.30,85.00 L631.38,85.12 L631.46,85.24 L631.54,85.35 L631.62,85.47 L631.70,85.59 L631.77,85.71 L631.85,85.83 L631.93,85.95 L632.01,86.07 L632.09,86.19 L632.16,86.31 L632.24,86.43 L632.32,86.55 L632.39,86.67 L632.47,86.79 L632.55,86.91 L632.62,87.03 L632.70,87.15 L632.78,87.27 L632.85,87.39 L632.93,87.51 L633.01,87.63 L633.08,87.76 L633.16,87.88 L633.23,88.00 L633.31,88.12 L633.38,88.24 L633.46,88.37 L633.53,88.49 L633.61,88.61 L633.68,88.73 L633.76,88.85 L633.83,88.98 L633.91,89.10 L633.98,89.22 L634.05,89.35 L634.13,89.47 L634.20,89.59 L634.28,89.72 L634.35,89.84 L634.42,89.96 L634.50,90.09 L634.57,90.21 L634.64,90.34 L634.71,90.46 L634.79,90.59 L634.86,90.71 L634.93,90.83 L635.00,90.96 L635.08,91.08 L635.15,91.21 L635.22,91.33 L635.29,91.46 L635.36,91.59 L635.43,91.71 L635.51,91.84 L635.58,91.96 L635.65,92.09 L635.72,92.22 L635.79,92.34 L635.86,92.47 L635.93,92.59 L636.00,92.72 L636.07,92.85 L636.14,92.97 L636.21,93.10 L636.28,93.23 L636.35,93.36 L636.42,93.48 L636.49,93.61 L636.55,93.74 L636.62,93.87 L636.69,94.00 L636.76,94.12 L636.83,94.25 L636.90,94.38 L636.96,94.51 L637.03,94.64 L637.10,94.77 L637.17,94.89 L637.23,95.02 L637.30,95.15 L637.37,95.28 L637.44,95.41 L637.50,95.54 L637.57,95.67 L637.63,95.80 L637.70,95.93 L637.77,96.06 L637.83,96.19 L637.90,96.32 L637.96,96.45 L638.03,96.58 L638.09,96.71 L638.16,96.84 L638.22,96.97 L638.29,97.10 L638.35,97.24 L638.42,97.37 L638.48,97.50 L638.55,97.63 L638.61,97.76 L638.67,97.89 L638.74,98.03 L638.80,98.16 L638.86,98.29 L638.93,98.42 L638.99,98.55 L639.05,98.69 L639.11,98.82 L639.18,98.95 L639.24,99.08 L639.30,99.22 L639.36,99.35 L639.42,99.48 L639.48,99.62 L639.55,99.75 L639.61,99.88 L639.67,100.02 L639.73,100.15 L639.79,100.29 L639.85,100.42 L639.91,100.55 L639.97,100.69 L640.03,100.82 L640.09,100.96 L640.15,101.09 L640.21,101.23 L640.26,101.36 L640.32,101.50 L640.38,101.63 L640.44,101.77 L640.50,101.90 L640.56,102.04 L640.61,102.17 L640.67,102.31 L640.73,102.45 L640.79,102.58 L640.84,102.72 L640.90,102.85 L640.96,102.99 L641.01,103.13 L641.07,103.26 L641.13,103.40 L641.18,103.54 L641.24,103.67 L641.29,103.81 L641.35,103.95 L641.40,104.08 L641.46,104.22 L641.51,104.36 L641.57,104.50 L641.62,104.64 L641.68,104.77 L641.73,104.91 L641.78,105.05 L641.84,105.19 L641.89,105.33 L641.94,105.46 L642.00,105.60 L642.05,105.74 L642.10,105.88 L642.15,106.02 L642.20,106.16 L642.26,106.30 L642.31,106.44 L642.36,106.58 L642.41,106.71 L642.46,106.85 L642.51,106.99 L642.56,107.13 L642.61,107.27 L642.66,107.41 L642.71,107.55 L642.76,107.69 L642.81,107.83 L642.86,107.97 L642.91,108.12 L642.96,108.26 L643.01,108.40 L643.06,108.54 L643.10,108.68 L643.15,108.82 L643.20,108.96 L643.25,109.10 L643.29,109.24 L643.34,109.38 L643.39,109.53 L643.43,109.67 L643.48,109.81 L643.53,109.95 L643.57,110.09 L643.62,110.24 L643.66,110.38 L643.71,110.52 L643.75,110.66 L643.80,110.81 L643.84,110.95 L643.89,111.09 L643.93,111.23 L643.97,111.38 L644.02,111.52 L644.06,111.66 L644.10,111.81 L644.14,111.95 L644.19,112.09 L644.23,112.24 L644.27,112.38 L644.31,112.52 L644.35,112.67 L644.40,112.81 L644.44,112.96 L644.48,113.10 L644.52,113.25 L644.56,113.39 L644.60,113.53 L644.64,113.68 L644.68,113.82 L644.71,113.97 L644.75,114.11 L644.79,114.26 L644.83,114.40 L644.87,114.55 L644.91,114.69 L644.94,114.84 L644.98,114.99 L645.02,115.13 L645.05,115.28 L645.09,115.42 L645.13,115.57 L645.16,115.71 L645.20,115.86 L645.23,116.01 L645.27,116.15 L645.30,116.30 L645.34,116.45 L645.37,116.59 L645.41,116.74 L645.44,116.89 L645.47,117.03 L645.51,117.18 L645.54,117.33 L645.57,117.47 L645.60,117.62 L645.64,117.77 L645.67,117.92 L645.70,118.06 L645.73,118.21 L645.76,118.36 L645.79,118.51 L645.82,118.65 L645.85,118.80 L645.88,118.95 L645.91,119.10 L645.94,119.25 L645.97,119.40 L646.00,119.54 L646.02,119.69 L646.05,119.84 L646.08,119.99 L646.11,120.14 L646.13,120.29 L646.16,120.44 L646.19,120.59 L646.21,120.73 L646.24,120.88 L646.26,121.03 L646.29,121.18 L646.31,121.33 L646.34,121.48 L646.36,121.63 L646.38,121.78 L646.41,121.93 L646.43,122.08 L646.45,122.23 L646.47,122.38 L646.50,122.53 L646.52,122.68 L646.54,122.83 L646.56,122.98 L646.58,123.13 L646.60,123.28 L646.62,123.43 L646.64,123.58 L646.66,123.74 L646.68,123.89 L646.69,124.04 L646.71,124.19 L646.73,124.34 L646.75,124.49 L646.76,124.64 L646.78,124.79 L646.80,124.94 L646.81,125.10 L646.83,125.25 L646.84,125.40 L646.86,125.55 L646.87,125.70 L646.88,125.86 L646.90,126.01 L646.91,126.16 L646.92,126.31 L646.93,126.46 L646.95,126.62 L646.96,126.77 L646.97,126.92 L646.98,127.07 L646.99,127.23 L647.00,127.38 L647.01,127.53 L647.02,127.68 L647.03,127.84 L647.03,127.99 L647.04,128.14 L647.05,128.30 L647.06,128.45 L647.06,128.60 L647.07,128.76 L647.07,128.91 L647.08,129.06 L647.08,129.22 L647.09,129.37 L647.09,129.52 L647.09,129.68 L647.10,129.83 L647.10,129.99 L647.10,130.14 L647.10,130.29 L647.10,130.45 L647.10,130.60 L647.10,130.76 L647.10,130.91 L647.10,131.07 L647.10,131.22 L647.09,131.37 L647.09,131.53 L647.09,131.68 L647.08,131.84 L647.08,131.99 L647.08,132.15 L647.07,132.30 L647.06,132.46 L647.06,132.61 L647.05,132.77 L647.04,132.92 L647.03,133.08 L647.03,133.23 L647.02,133.39 L647.01,133.54 L647.00,133.70 L646.99,133.86 L646.97,134.01 L646.96,134.17 L646.95,134.32 L646.94,134.48 L646.92,134.63 L646.91,134.79 L646.89,134.95 L646.88,135.10 L646.86,135.26 L646.84,135.41 L646.82,135.57 L646.81,135.73 L646.79,135.88 L646.77,136.04 L646.75,136.19 L646.73,136.35 L646.70,136.51 L646.68,136.66 L646.66,136.82 L646.63,136.98 L646.61,137.13 L646.58,137.29 L646.56,137.45 L646.53,137.60 L646.50,137.76 L646.48,137.92 L646.45,138.07 L646.42,138.23 L646.39,138.39 L646.35,138.55 L646.32,138.70 L646.29,138.86 L646.26,139.02 L646.22,139.17 L646.19,139.33 L646.15,139.49 L646.11,139.65 L646.07,139.80 L646.03,139.96 L645.99,140.12 L645.95,140.28 L645.91,140.43 L645.87,140.59 L645.83,140.75 L645.78,140.91 L645.74,141.06 L645.69,141.22 L645.64,141.38 L645.59,141.54 L645.54,141.70 L645.49,141.85 L645.44,142.01 L645.39,142.17 L645.33,142.33 L645.28,142.49 L645.22,142.64 L645.17,142.80 L645.11,142.96 L645.05,143.12 L644.99,143.28 L644.92,143.44 L644.86,143.59 L644.80,143.75 L644.73,143.91 L644.66,144.07 L644.60,144.23 L644.53,144.39 L644.46,144.54 L644.38,144.70 L644.31,144.86 L644.23,145.02 L644.16,145.18 L644.08,145.34 L644.00,145.50 L643.92,145.65 L643.84,145.81 L643.75,145.97 L643.67,146.13 L643.58,146.29 L643.49,146.45 L643.40,146.61 L643.30,146.77 L643.21,146.92 L643.11,147.08 L643.02,147.24 L642.92,147.40 L642.81,147.56 L642.71,147.72 L642.61,147.88 L642.50,148.04 L642.39,148.20 L642.28,148.35 L642.16,148.51 L642.04,148.67 L641.93,148.83 L641.81,148.99 L641.68,149.15 L641.56,149.31 L641.43,149.47 L641.30,149.63 L641.16,149.78 L641.03,149.94 L640.89,150.10 L640.75,150.26 L640.60,150.42 L640.46,150.58 L640.31,150.74 L640.15,150.90 L640.00,151.06 L639.84,151.22 L639.68,151.37 L639.51,151.53 L639.34,151.69 L639.17,151.85 L638.99,152.01 L638.81,152.17 L638.63,152.33 L638.44,152.49 L638.24,152.65 L638.05,152.80 L637.85,152.96 L637.64,153.12 L637.43,153.28 L637.22,153.44 L637.00,153.60 L636.77,153.76 L636.54,153.92 L636.31,154.07 L636.07,154.23 L635.82,154.39 L635.57,154.55 L635.31,154.71 L635.04,154.87 L634.77,155.03 L634.49,155.18 L634.21,155.34 L633.92,155.50 L633.62,155.66 L633.31,155.82 L632.99,155.97 L632.67,156.13 L632.33,156.29 L631.99,156.45 L631.64,156.61 L631.28,156.76 L630.91,156.92 L630.52,157.08 L630.13,157.24 L629.72,157.39 L629.31,157.55 L628.87,157.71 L628.43,157.87 L627.97,158.02 L627.50,158.18 L627.01,158.34 L626.51,158.49 L625.98,158.65 L625.44,158.81 L624.89,158.96 L624.31,159.12 L623.71,159.28 L623.08,159.43 L622.44,159.59 L621.77,159.74 L621.07,159.90 L620.34,160.05 L619.59,160.21 L618.80,160.36 L617.98,160.52 L617.12,160.67 L616.22,160.83 L615.28,160.98 L614.29,161.13 L613.26,161.29 L612.17,161.44 L611.03,161.59 L609.82,161.74 L608.55,161.89 L607.20,162.05 L605.77,162.20 L604.26,162.35 L602.64,162.50 L600.92,162.65 L599.08,162.79 L597.10,162.94 L594.97,163.09 L592.67,163.24 L590.19,163.38 L587.48,163.53 L584.51,163.67 L581.26,163.81 L577.66,163.95 L573.66,164.09 L569.17,164.23 L564.09,164.36 L558.28,164.49 L551.56,164.62 L543.65,164.75 L534.16,164.87 L522.47,164.98 L507.53,165.09 L487.38,165.18 L457.32,165.26 L391.30,165.30" fill="none" stroke="#f07a50" stroke-width="1.0" stroke-linejoin="round" />

<g transform="translate(568.5,39.5)">
<ellipse cx="0" cy="0.5" rx="6.5" ry="5.2" fill="#5a60c0"/>
<ellipse cx="-0.5" cy="1.5" rx="4" ry="3.5" fill="#4a58b8"/>
<ellipse cx="0.5" cy="-1" rx="4.6" ry="3.0" fill="#50a860" transform="rotate(25)"/>
<ellipse cx="0.5" cy="-1" rx="3.8" ry="2.3" fill="#e05a3a" transform="rotate(25)"/>
<ellipse cx="0.8" cy="-1.2" rx="2.2" ry="1.2" fill="#f0c040" transform="rotate(25)"/>
<path d="M-5,3.5 L-4.4,6.2 L-3.5,3.8 L-2.6,6.4 L-1.6,4 L-0.6,6.6 L0.4,4.2 L1.5,6.5 L2.5,4 L3.6,6 L4.8,3.5" fill="#5a60c0" stroke="#5a60c0" stroke-width="0.8"/>
</g>
<path d="M546.8,36.2 L551.5,35.4 M547.5,38.6 L552.5,37.8" stroke="#5a68d0" stroke-width="0.9"/>
<circle cx="554.70" cy="37.20" r="8.40" fill="none" stroke="#3c9a4c" stroke-width="1.1" />
<circle cx="557.20" cy="35.90" r="2.40" fill="none" stroke="#4a5ad0" stroke-width="1.0" />
<circle cx="568.20" cy="40.10" r="8.40" fill="none" stroke="#f06a3a" stroke-width="1.3" />
<circle cx="0.00" cy="0.00" r="0.00" fill="none" stroke="#f08a70" stroke-width="0.8" />
<text x="392.00" y="181.50" font-size="12.6" fill="#2b2b2b" text-anchor="middle" >0</text>
<text x="447.10" y="181.50" font-size="12.6" fill="#2b2b2b" text-anchor="middle" >0.2</text>
<text x="501.10" y="181.50" font-size="12.6" fill="#2b2b2b" text-anchor="middle" >0.4</text>
<text x="556.70" y="181.50" font-size="12.6" fill="#2b2b2b" text-anchor="middle" >0.6</text>
<text x="613.40" y="181.50" font-size="12.6" fill="#2b2b2b" text-anchor="middle" >0.8</text>
<text x="666.80" y="181.50" font-size="12.6" fill="#2b2b2b" text-anchor="middle" >1.0</text>
<text x="383.00" y="60.00" font-size="12.6" fill="#2b2b2b" text-anchor="end" >0.4</text>
<text x="383.00" y="114.80" font-size="12.6" fill="#2b2b2b" text-anchor="end" >0.2</text>
<text x="384.50" y="170.50" font-size="12.6" fill="#2b2b2b" text-anchor="end" >0</text>
<text x="354.00" y="100.30" font-size="16.5" fill="#2b2b2b" text-anchor="start" >S</text>
<text x="534.50" y="194.20" font-size="16.3" fill="#2b2b2b" text-anchor="middle" >G</text>
<text x="605.70" y="104.50" font-size="12.6" fill="#d02c4c" text-anchor="end" >E(FRET) = 0.1</text>
<text x="439.20" y="147.70" font-size="14.2" fill="#2b2b2b" text-anchor="start" >After 1 <tspan font-family="Liberation Serif">μ</tspan>M paclitaxel</text>
<text x="-0.2" y="222.2" font-size="24.5" fill="#222">c</text>
<text x="87.70" y="232.30" font-size="11.6" fill="#2b2b2b" text-anchor="start" >Control</text>
<text x="68.40" y="331.20" font-size="11.6" fill="#2b2b2b" text-anchor="start" >1 μM paclitaxel</text>
<defs><linearGradient id="cbar" x1="0" y1="0" x2="0" y2="1"><stop offset="0" stop-color="#e8283a"/><stop offset="0.1" stop-color="#ec3a30"/><stop offset="0.2" stop-color="#f07a2a"/><stop offset="0.3" stop-color="#f4c030"/><stop offset="0.35" stop-color="#eee040"/><stop offset="0.43" stop-color="#a8c83a"/><stop offset="0.52" stop-color="#58b040"/><stop offset="0.6" stop-color="#1e8a3a"/><stop offset="0.635" stop-color="#127a40"/><stop offset="0.64" stop-color="#5a4a9a"/><stop offset="0.8" stop-color="#4a56a6"/><stop offset="1" stop-color="#3a64b8"/></linearGradient></defs>
<rect x="26.1" y="280.1" width="6.7" height="90.4" fill="url(#cbar)"/>
<text x="37.20" y="284.40" font-size="11.7" fill="#2b2b2b" text-anchor="start" >30%</text>
<text x="40.50" y="373.80" font-size="11.7" fill="#2b2b2b" text-anchor="start" >0%</text>
<text x="0" y="0" font-size="11.8" fill="#2b2b2b" text-anchor="start" transform="translate(18.80,378.40) rotate(-90)">FLIM-FRET Efficiency</text>
<line x1="99.90" y1="422.40" x2="146.70" y2="422.40" stroke="#1a1a1a" stroke-width="1.8" />
<text x="123.60" y="433.10" font-size="10.6" fill="#2b2b2b" text-anchor="middle" >5 μm</text>
<path d="M77.8,272.1 L76.2,272.1 L76.2,270.5 L77.8,270.5Z M76.4,272.1 L74.8,272.1 L74.9,270.4 L76.5,270.5Z M75.1,272.1 L73.5,272.1 L73.5,270.3 L75.1,270.4Z M73.7,272.1 L72.1,272.1 L72.1,270.3 L73.8,270.3Z M72.4,272.1 L70.7,272.1 L70.8,270.2 L72.4,270.3Z M71.0,272.1 L69.4,272.1 L69.4,270.2 L71.0,270.2Z M69.6,272.1 L68.0,272.1 L68.1,270.1 L69.7,270.2Z M78.0,270.7 L76.3,270.6 L76.4,269.0 L78.1,269.1Z M76.6,270.6 L74.9,270.5 L75.0,268.9 L76.7,269.0Z M75.2,270.6 L73.5,270.5 L73.6,268.7 L75.3,268.9Z M73.7,270.5 L72.1,270.4 L72.2,268.6 L73.9,268.8Z M72.3,270.4 L70.6,270.4 L70.8,268.5 L72.4,268.6Z M70.9,270.4 L69.2,270.3 L69.3,268.4 L71.0,268.5Z M69.5,270.3 L67.8,270.3 L67.9,268.3 L69.6,268.4Z M78.3,269.3 L76.6,269.1 L76.8,267.5 L78.5,267.8Z M76.9,269.2 L75.2,269.0 L75.4,267.4 L77.0,267.6Z M75.4,269.0 L73.7,268.9 L73.9,267.2 L75.6,267.4Z M74.0,268.9 L72.3,268.8 L72.5,267.0 L74.2,267.2Z M72.5,268.8 L70.8,268.7 L71.0,266.8 L72.7,267.0Z M71.1,268.7 L69.4,268.5 L69.6,266.6 L71.3,266.8Z M69.6,268.6 L67.9,268.4 L68.2,266.4 L69.8,266.7Z M78.7,267.9 L77.0,267.7 L77.3,266.1 L78.9,266.4Z M77.3,267.7 L75.7,267.5 L75.9,265.9 L77.5,266.2Z M75.9,267.6 L74.3,267.4 L74.5,265.7 L76.1,265.9Z M74.5,267.4 L72.9,267.2 L73.2,265.4 L74.8,265.7Z M73.1,267.2 L71.5,267.0 L71.8,265.2 L73.4,265.5Z M78.9,266.6 L77.4,266.3 L77.7,264.7 L79.2,265.1Z M77.6,266.3 L76.1,266.1 L76.4,264.5 L77.9,264.8Z M76.4,266.1 L74.8,265.9 L75.2,264.2 L76.7,264.5Z M75.1,265.9 L73.6,265.7 L73.9,263.9 L75.4,264.3Z M73.8,265.7 L72.3,265.4 L72.6,263.7 L74.1,264.0Z M79.4,265.2 L77.9,264.9 L78.3,263.4 L79.7,263.8Z M78.2,265.0 L76.7,264.7 L77.1,263.1 L78.5,263.5Z M76.9,264.7 L75.5,264.4 L75.9,262.8 L77.3,263.1Z M75.7,264.5 L74.3,264.2 L74.7,262.5 L76.1,262.8Z M74.5,264.2 L73.0,263.9 L73.5,262.2 L74.9,262.5Z M79.8,263.9 L78.4,263.6 L78.8,262.1 L80.2,262.5Z M78.6,263.6 L77.2,263.3 L77.7,261.7 L79.1,262.1Z M77.5,263.3 L76.1,263.0 L76.5,261.4 L77.9,261.8Z M76.3,263.0 L74.9,262.7 L75.4,261.0 L76.8,261.4Z M75.2,262.7 L73.8,262.4 L74.2,260.7 L75.6,261.1Z M80.3,262.7 L79.0,262.3 L79.5,260.8 L80.8,261.2Z M79.2,262.3 L77.9,261.9 L78.4,260.4 L79.7,260.9Z M78.1,262.0 L76.8,261.6 L77.3,260.0 L78.6,260.5Z M77.0,261.7 L75.7,261.3 L76.2,259.6 L77.5,260.1Z M75.9,261.3 L74.6,260.9 L75.1,259.2 L76.4,259.7Z M81.0,261.5 L79.7,261.0 L80.3,259.6 L81.6,260.1Z M80.0,261.1 L78.7,260.6 L79.2,259.1 L80.5,259.7Z M78.9,260.7 L77.6,260.3 L78.2,258.7 L79.5,259.2Z M77.8,260.4 L76.5,259.9 L77.1,258.3 L78.4,258.8Z M76.8,260.0 L75.5,259.5 L76.1,257.9 L77.4,258.4Z M82.0,260.4 L80.7,259.9 L81.3,258.5 L82.6,259.1Z M80.9,260.0 L79.6,259.4 L80.2,258.0 L81.5,258.6Z M79.8,259.5 L78.5,259.0 L79.1,257.5 L80.4,258.1Z M78.7,259.1 L77.4,258.6 L78.0,257.0 L79.3,257.6Z M77.6,258.7 L76.3,258.1 L77.0,256.5 L78.3,257.1Z M83.2,259.5 L81.8,258.9 L82.4,257.5 L83.8,258.2Z M82.0,259.0 L80.6,258.3 L81.3,256.9 L82.7,257.6Z M80.9,258.4 L79.5,257.8 L80.2,256.4 L81.5,257.0Z M79.7,257.9 L78.3,257.3 L79.0,255.8 L80.4,256.5Z M78.5,257.4 L77.1,256.8 L77.9,255.2 L79.2,255.9Z M84.5,258.6 L83.0,257.9 L83.7,256.6 L85.1,257.4Z M83.2,258.0 L81.7,257.3 L82.4,255.9 L83.9,256.7Z M82.0,257.4 L80.5,256.7 L81.2,255.3 L82.7,256.1Z M80.7,256.8 L79.2,256.1 L80.0,254.6 L81.4,255.4Z M79.5,256.2 L78.0,255.4 L78.8,253.9 L80.2,254.7Z M85.6,257.9 L84.1,257.0 L84.8,255.8 L86.3,256.7Z M84.3,257.1 L82.8,256.3 L83.5,255.0 L85.0,255.9Z M83.0,256.4 L81.4,255.5 L82.2,254.2 L83.7,255.1Z M81.6,255.7 L80.1,254.8 L80.9,253.4 L82.4,254.3Z M80.3,254.9 L78.8,254.1 L79.6,252.6 L81.1,253.5Z M86.6,257.0 L85.0,256.0 L85.8,254.8 L87.3,255.9Z M85.2,256.2 L83.6,255.2 L84.4,253.9 L86.0,255.0Z M83.9,255.3 L82.3,254.4 L83.1,253.1 L84.7,254.1Z M82.5,254.5 L80.9,253.5 L81.8,252.2 L83.3,253.2Z M81.1,253.7 L79.5,252.7 L80.4,251.3 L82.0,252.3Z M79.7,252.8 L78.1,251.9 L79.1,250.4 L80.6,251.4Z M87.5,256.1 L85.9,255.1 L86.7,253.9 L88.2,255.0Z M84.7,254.3 L83.1,253.2 L84.0,251.9 L85.6,253.1Z M83.3,253.4 L81.7,252.3 L82.7,251.0 L84.2,252.1Z M82.0,252.5 L80.4,251.4 L81.3,250.0 L82.9,251.1Z M80.6,251.5 L79.0,250.5 L80.0,249.0 L81.5,250.1Z M85.6,253.3 L84.1,252.2 L85.0,250.9 L86.5,252.1Z M84.3,252.3 L82.8,251.2 L83.7,249.9 L85.2,251.1Z M83.0,251.4 L81.4,250.2 L82.5,248.9 L83.9,250.1Z M81.6,250.4 L80.1,249.3 L81.2,247.9 L82.7,249.0Z M86.7,252.4 L85.2,251.3 L86.2,250.1 L87.6,251.3Z M85.4,251.4 L84.0,250.3 L85.0,249.0 L86.4,250.3Z M84.2,250.4 L82.7,249.3 L83.8,248.0 L85.2,249.2Z M82.9,249.4 L81.4,248.2 L82.5,246.9 L83.9,248.1Z M88.0,251.8 L86.6,250.6 L87.6,249.4 L88.9,250.7Z M86.7,250.7 L85.3,249.5 L86.4,248.3 L87.7,249.6Z M85.5,249.7 L84.1,248.4 L85.2,247.2 L86.6,248.5Z M84.3,248.6 L82.9,247.4 L84.0,246.1 L85.4,247.4Z M89.3,251.2 L87.9,249.9 L88.9,248.9 L90.2,250.2Z M88.1,250.1 L86.7,248.8 L87.8,247.7 L89.1,249.0Z M86.9,249.0 L85.5,247.7 L86.6,246.5 L88.0,247.9Z M85.7,247.8 L84.3,246.5 L85.5,245.3 L86.8,246.7Z M90.5,250.7 L89.1,249.3 L90.2,248.3 L91.5,249.7Z M89.3,249.4 L87.9,248.0 L89.1,247.0 L90.4,248.5Z M88.1,248.2 L86.7,246.8 L87.9,245.7 L89.2,247.2Z M91.6,250.0 L90.3,248.5 L91.4,247.6 L92.7,249.1Z M90.4,248.7 L89.1,247.2 L90.2,246.2 L91.5,247.7Z M89.2,247.4 L87.9,245.8 L89.1,244.8 L90.4,246.4Z M92.5,249.2 L91.2,247.6 L92.4,246.7 L93.6,248.3Z M91.4,247.8 L90.1,246.2 L91.3,245.2 L92.5,246.9Z M90.2,246.4 L88.9,244.8 L90.2,243.8 L91.4,245.4Z M93.5,248.4 L92.2,246.7 L93.4,245.9 L94.6,247.5Z M92.4,246.9 L91.2,245.3 L92.4,244.4 L93.6,246.1Z M94.5,247.7 L93.4,246.0 L94.6,245.2 L95.7,246.9Z M93.5,246.2 L92.4,244.6 L93.7,243.8 L94.7,245.5Z M99.1,242.6 L98.4,241.0 L99.8,240.4 L100.4,242.1Z M100.9,243.6 L100.3,241.9 L101.6,241.5 L102.2,243.1Z M100.3,242.2 L99.7,240.5 L101.2,240.0 L101.7,241.7Z M99.8,240.8 L99.2,239.1 L100.7,238.6 L101.3,240.3Z M102.1,243.3 L101.6,241.7 L103.0,241.3 L103.4,242.9Z M101.7,242.0 L101.2,240.4 L102.6,240.0 L103.1,241.6Z M101.2,240.6 L100.7,239.1 L102.2,238.6 L102.7,240.2Z M103.5,243.4 L103.1,242.0 L104.4,241.6 L104.8,243.1Z M103.1,242.2 L102.7,240.8 L104.2,240.4 L104.5,241.9Z M102.8,241.0 L102.4,239.5 L103.9,239.2 L104.2,240.6Z M104.5,242.6 L104.2,241.2 L105.6,240.9 L105.9,242.3Z M107.8,247.3 L107.6,246.0 L108.8,245.8 L108.9,247.1Z M108.8,247.1 L108.7,245.9 L109.9,245.8 L110.0,247.0Z M108.7,246.1 L108.6,244.9 L109.8,244.8 L109.9,246.0Z M109.9,246.7 L109.8,245.5 L111.0,245.5 L111.0,246.6Z M109.8,245.8 L109.7,244.7 L111.0,244.6 L111.0,245.7Z M110.9,244.7 L110.9,244.0 L112.1,244.0 L112.1,244.7Z M110.9,244.3 L110.8,243.6 L112.2,243.6 L112.1,244.3Z M112.0,245.4 L112.0,244.7 L113.3,244.8 L113.2,245.4Z M112.0,245.0 L112.0,244.3 L113.3,244.3 L113.3,245.0Z M113.1,244.9 L113.2,244.4 L114.4,244.5 L114.4,245.0Z M114.3,245.1 L114.3,244.6 L115.6,244.8 L115.5,245.3Z M145.4,267.6 L146.4,267.5 L146.6,269.1 L145.6,269.2Z M145.2,269.1 L146.3,269.0 L146.4,270.6 L145.3,270.7Z M146.0,269.0 L147.2,268.9 L147.3,270.6 L146.1,270.6Z M145.4,270.5 L146.7,270.5 L146.7,272.1 L145.4,272.1Z M146.4,270.5 L147.7,270.4 L147.8,272.1 L146.5,272.1Z M145.6,271.9 L147.0,271.9 L147.0,273.6 L145.5,273.5Z M146.8,271.9 L148.2,271.9 L148.1,273.6 L146.7,273.5Z M145.6,273.4 L147.2,273.4 L147.1,275.1 L145.6,274.9Z M146.9,273.4 L148.4,273.5 L148.3,275.2 L146.8,275.0Z M137.5,294.3 L138.6,295.3 L137.5,296.6 L136.4,295.5Z M136.1,295.0 L137.2,296.0 L136.1,297.2 L135.0,296.1Z M137.0,295.9 L138.1,296.9 L137.0,298.1 L135.9,297.0Z M134.8,295.7 L135.9,296.8 L134.7,297.9 L133.7,296.7Z M135.7,296.6 L136.8,297.7 L135.6,298.8 L134.5,297.7Z M133.6,296.5 L134.6,297.6 L133.4,298.6 L132.5,297.4Z M134.5,297.4 L135.5,298.6 L134.3,299.6 L133.3,298.4Z M135.3,298.4 L136.4,299.5 L135.1,300.6 L134.1,299.4Z M132.5,297.3 L133.5,298.4 L132.2,299.4 L131.3,298.2Z M133.3,298.2 L134.2,299.4 L133.0,300.4 L132.1,299.2Z M134.1,299.2 L135.0,300.3 L133.7,301.4 L132.8,300.2Z M131.3,298.0 L132.2,299.2 L130.9,300.1 L130.1,298.9Z M132.0,299.0 L132.9,300.1 L131.6,301.1 L130.8,299.9Z M132.8,299.9 L133.6,301.0 L132.3,302.0 L131.5,300.8Z M130.1,298.6 L130.8,299.7 L129.6,300.6 L128.8,299.4Z M130.7,299.5 L131.5,300.6 L130.1,301.5 L129.4,300.4Z M126.9,296.2 L127.7,297.3 L126.5,298.1 L125.8,296.9Z M128.7,299.0 L129.4,300.1 L128.1,300.9 L127.4,299.7Z M125.7,296.4 L126.3,297.6 L125.1,298.2 L124.5,297.0Z M126.2,297.3 L126.9,298.5 L125.6,299.2 L125.0,298.0Z M124.4,296.5 L125.0,297.7 L123.8,298.3 L123.2,297.1Z M124.9,297.5 L125.6,298.8 L124.3,299.4 L123.7,298.1Z M125.4,298.5 L126.1,299.8 L124.8,300.4 L124.2,299.1Z M123.2,296.7 L123.8,298.0 L122.6,298.5 L122.0,297.2Z M123.7,297.8 L124.3,299.1 L123.1,299.6 L122.5,298.3Z M124.2,298.9 L124.8,300.2 L123.5,300.7 L123.0,299.4Z M122.1,297.1 L122.7,298.4 L121.4,298.9 L120.9,297.5Z M122.6,298.2 L123.1,299.5 L121.9,300.0 L121.4,298.7Z M123.0,299.3 L123.6,300.6 L122.3,301.1 L121.8,299.8Z M121.1,297.6 L121.6,298.9 L120.3,299.3 L119.9,298.0Z M121.5,298.7 L122.0,300.0 L120.7,300.4 L120.2,299.1Z M121.9,299.7 L122.4,301.1 L121.0,301.5 L120.6,300.2Z M120.1,298.2 L120.5,299.4 L119.2,299.8 L118.9,298.6Z M120.4,299.2 L120.8,300.4 L119.5,300.8 L119.1,299.6Z M120.7,300.2 L121.1,301.4 L119.8,301.8 L119.4,300.6Z M119.0,298.6 L119.3,299.8 L118.0,300.1 L117.8,298.9Z M119.2,299.5 L119.6,300.7 L118.2,301.0 L118.0,299.8Z M119.5,300.4 L119.8,301.6 L118.5,301.9 L118.2,300.8Z M117.8,298.6 L118.1,299.8 L116.8,300.1 L116.6,298.9Z M118.0,299.5 L118.3,300.7 L117.0,301.0 L116.7,299.8Z M118.2,300.4 L118.5,301.6 L117.1,301.9 L116.9,300.7Z M116.6,298.4 L116.8,299.6 L115.6,299.8 L115.4,298.6Z M116.8,299.4 L117.0,300.6 L115.7,300.8 L115.5,299.6Z M117.0,300.3 L117.2,301.6 L115.8,301.8 L115.7,300.6Z M115.4,298.1 L115.6,299.5 L114.3,299.6 L114.2,298.3Z M115.6,299.2 L115.8,300.6 L114.5,300.7 L114.3,299.4Z M115.7,300.3 L115.9,301.7 L114.6,301.9 L114.4,300.5Z M114.3,298.0 L114.4,299.5 L113.2,299.6 L113.1,298.1Z M114.4,299.2 L114.6,300.7 L113.3,300.8 L113.2,299.3Z M114.5,300.4 L114.7,301.9 L113.3,302.0 L113.2,300.6Z M113.2,298.1 L113.3,299.7 L112.0,299.7 L112.0,298.2Z M113.3,299.4 L113.4,300.9 L112.0,301.0 L112.0,299.5Z M113.4,300.7 L113.5,302.2 L112.1,302.3 L112.0,300.7Z M112.1,298.5 L112.1,299.9 L110.9,299.9 L110.9,298.5Z M112.1,299.7 L112.2,301.2 L110.8,301.2 L110.9,299.7Z M112.2,300.9 L112.2,302.4 L110.8,302.4 L110.8,300.9Z M111.0,298.8 L111.0,300.1 L109.7,300.1 L109.8,298.7Z M111.0,299.9 L110.9,301.3 L109.6,301.2 L109.7,299.8Z M111.0,301.0 L110.9,302.4 L109.5,302.3 L109.6,301.0Z M109.9,298.9 L109.8,300.1 L108.5,300.0 L108.6,298.8Z M109.8,299.9 L109.7,301.1 L108.4,301.0 L108.5,299.8Z M109.7,300.9 L109.7,302.1 L108.3,302.0 L108.4,300.8Z M108.8,298.6 L108.6,299.9 L107.4,299.7 L107.5,298.5Z M108.7,299.6 L108.5,300.8 L107.2,300.7 L107.4,299.4Z M108.6,300.6 L108.4,301.8 L107.1,301.6 L107.2,300.4Z M107.7,298.2 L107.5,299.4 L106.2,299.2 L106.5,298.0Z M107.5,299.2 L107.4,300.5 L106.1,300.3 L106.3,299.0Z M107.4,300.2 L107.2,301.5 L105.9,301.3 L106.1,300.0Z M106.7,297.6 L106.4,299.0 L105.2,298.8 L105.5,297.4Z M106.4,298.8 L106.2,300.2 L104.9,299.9 L105.2,298.5Z M106.2,299.9 L106.0,301.3 L104.6,301.0 L105.0,299.7Z M106.0,301.1 L105.8,302.5 L104.4,302.2 L104.7,300.8Z M105.6,297.4 L105.3,298.9 L104.0,298.6 L104.4,297.1Z M105.3,298.6 L105.0,300.1 L103.7,299.7 L104.1,298.3Z M105.0,299.8 L104.7,301.3 L103.4,300.9 L103.8,299.5Z M104.8,301.0 L104.4,302.5 L103.0,302.1 L103.4,300.7Z M104.5,302.2 L104.1,303.7 L102.7,303.3 L103.1,301.9Z M104.2,303.5 L103.9,304.9 L102.4,304.5 L102.8,303.1Z M104.5,297.4 L104.1,298.8 L102.8,298.5 L103.3,297.1Z M104.1,298.6 L103.7,300.0 L102.5,299.7 L102.9,298.2Z M103.8,299.8 L103.4,301.2 L102.1,300.8 L102.5,299.4Z M103.5,301.0 L103.1,302.4 L101.7,302.0 L102.1,300.6Z M103.1,302.2 L102.7,303.6 L101.3,303.2 L101.8,301.8Z M102.8,303.4 L102.4,304.8 L100.9,304.4 L101.4,303.0Z M103.3,297.5 L102.8,298.8 L101.6,298.4 L102.1,297.1Z M102.9,298.6 L102.5,299.9 L101.2,299.5 L101.7,298.2Z M102.6,299.7 L102.1,301.0 L100.8,300.6 L101.3,299.3Z M102.2,300.8 L101.8,302.2 L100.4,301.7 L100.9,300.3Z M101.8,301.9 L101.4,303.3 L100.0,302.8 L100.5,301.4Z M101.5,303.0 L101.0,304.4 L99.6,303.9 L100.1,302.5Z M102.1,297.4 L101.6,298.7 L100.4,298.2 L100.9,297.0Z M101.7,298.4 L101.3,299.6 L100.0,299.1 L100.5,297.9Z M101.4,299.4 L100.9,300.6 L99.6,300.1 L100.1,298.9Z M101.0,300.4 L100.6,301.6 L99.2,301.1 L99.7,299.9Z M100.6,301.4 L100.2,302.6 L98.8,302.0 L99.3,300.8Z M100.3,302.4 L99.8,303.6 L98.4,303.0 L98.9,301.8Z M101.0,297.2 L100.5,298.3 L99.3,297.8 L99.8,296.7Z M100.6,298.1 L100.1,299.2 L98.9,298.6 L99.4,297.5Z M100.2,298.9 L99.8,300.0 L98.5,299.5 L99.0,298.4Z M99.9,299.8 L99.4,300.9 L98.1,300.3 L98.6,299.2Z M99.5,300.7 L99.1,301.8 L97.7,301.2 L98.2,300.1Z M99.2,301.5 L98.7,302.6 L97.3,302.0 L97.8,300.9Z M99.9,296.8 L99.4,297.8 L98.2,297.2 L98.8,296.2Z M99.5,297.6 L99.0,298.6 L97.8,298.0 L98.4,297.0Z M99.1,298.4 L98.7,299.4 L97.4,298.8 L98.0,297.8Z M98.8,299.2 L98.3,300.2 L97.0,299.6 L97.5,298.6Z M98.4,300.0 L97.9,301.0 L96.6,300.4 L97.1,299.4Z M98.0,300.8 L97.5,301.8 L96.2,301.1 L96.7,300.1Z M98.9,296.3 L98.3,297.3 L97.2,296.6 L97.8,295.7Z M98.5,297.1 L97.9,298.1 L96.8,297.4 L97.3,296.4Z M98.1,297.8 L97.5,298.9 L96.3,298.2 L96.9,297.2Z M97.6,298.6 L97.1,299.7 L95.9,299.0 L96.4,298.0Z M97.2,299.4 L96.7,300.4 L95.4,299.7 L96.0,298.7Z M96.8,300.2 L96.3,301.2 L95.0,300.5 L95.5,299.5Z M97.8,295.8 L97.2,296.8 L96.1,296.1 L96.8,295.1Z M97.4,296.6 L96.8,297.6 L95.6,296.9 L96.3,295.9Z M96.9,297.4 L96.3,298.4 L95.1,297.7 L95.8,296.7Z M96.4,298.2 L95.9,299.2 L94.6,298.5 L95.3,297.5Z M96.0,299.0 L95.4,300.0 L94.1,299.3 L94.8,298.3Z M95.5,299.8 L94.9,300.8 L93.6,300.0 L94.3,299.0Z M96.7,295.4 L96.1,296.4 L95.0,295.7 L95.7,294.7Z M96.2,296.2 L95.6,297.2 L94.4,296.4 L95.1,295.5Z M95.7,297.0 L95.1,298.0 L93.9,297.2 L94.6,296.2Z M95.2,297.8 L94.6,298.8 L93.4,298.0 L94.1,297.0Z M94.7,298.6 L94.1,299.6 L92.8,298.8 L93.5,297.8Z M94.2,299.4 L93.6,300.4 L92.3,299.5 L93.0,298.5Z M95.6,295.0 L94.9,296.0 L93.8,295.2 L94.5,294.3Z M95.0,295.8 L94.4,296.7 L93.3,295.9 L94.0,295.0Z M94.5,296.5 L93.9,297.5 L92.7,296.6 L93.4,295.7Z M94.0,297.3 L93.4,298.2 L92.2,297.3 L92.9,296.4Z M93.5,298.0 L92.8,299.0 L91.6,298.1 L92.3,297.2Z M93.0,298.7 L92.3,299.7 L91.1,298.8 L91.8,297.9Z M94.4,294.6 L93.7,295.5 L92.7,294.6 L93.4,293.8Z M93.9,295.3 L93.2,296.2 L92.1,295.3 L92.8,294.5Z M93.4,296.0 L92.7,296.8 L91.6,296.0 L92.3,295.1Z M92.9,296.6 L92.2,297.5 L91.1,296.6 L91.8,295.8Z M92.4,297.3 L91.7,298.2 L90.5,297.3 L91.2,296.4Z M91.8,298.0 L91.2,298.9 L90.0,297.9 L90.7,297.1Z M93.4,294.0 L92.7,294.8 L91.7,293.9 L92.4,293.1Z M92.9,294.6 L92.2,295.5 L91.1,294.5 L91.8,293.8Z M92.3,295.3 L91.7,296.1 L90.6,295.1 L91.3,294.4Z M91.8,295.9 L91.1,296.7 L90.0,295.8 L90.7,295.0Z M91.3,296.5 L90.6,297.3 L89.5,296.4 L90.2,295.6Z M90.8,297.1 L90.1,298.0 L88.9,297.0 L89.6,296.2Z M92.5,293.2 L91.8,294.0 L90.8,293.1 L91.5,292.3Z M91.9,293.8 L91.2,294.6 L90.2,293.7 L91.0,292.9Z M91.4,294.4 L90.7,295.2 L89.6,294.2 L90.4,293.5Z M90.8,295.0 L90.1,295.8 L89.1,294.8 L89.8,294.1Z M90.3,295.6 L89.6,296.4 L88.5,295.4 L89.2,294.7Z M89.7,296.3 L89.0,297.1 L87.9,296.0 L88.7,295.2Z M90.5,293.6 L89.7,294.4 L88.7,293.4 L89.5,292.6Z M89.8,294.2 L89.0,295.0 L88.0,294.0 L88.9,293.2Z M89.2,294.8 L88.4,295.7 L87.4,294.6 L88.2,293.8Z M88.6,295.5 L87.8,296.3 L86.7,295.2 L87.5,294.4Z M88.0,296.1 L87.2,297.0 L86.0,295.8 L86.9,295.0Z M89.4,292.8 L88.5,293.7 L87.5,292.6 L88.5,291.8Z M88.7,293.5 L87.8,294.4 L86.8,293.3 L87.7,292.5Z M88.0,294.2 L87.1,295.0 L86.0,293.9 L87.0,293.1Z M87.2,294.9 L86.3,295.7 L85.3,294.5 L86.2,293.7Z M86.5,295.6 L85.6,296.4 L84.5,295.2 L85.5,294.4Z M88.2,292.2 L87.2,293.0 L86.3,291.9 L87.3,291.1Z M87.4,292.9 L86.4,293.7 L85.4,292.6 L86.5,291.8Z M86.6,293.6 L85.6,294.4 L84.6,293.2 L85.6,292.4Z M85.8,294.3 L84.8,295.1 L83.8,293.9 L84.8,293.1Z M85.0,295.0 L84.0,295.8 L82.9,294.5 L84.0,293.7Z M87.0,291.5 L85.9,292.4 L85.0,291.2 L86.1,290.4Z M86.1,292.2 L85.1,293.0 L84.2,291.8 L85.2,291.0Z M85.3,292.9 L84.2,293.7 L83.3,292.4 L84.4,291.6Z M84.4,293.5 L83.4,294.4 L82.4,293.0 L83.5,292.3Z M83.6,294.2 L82.6,295.0 L81.5,293.7 L82.6,292.9Z M86.5,290.2 L85.5,291.0 L84.7,289.7 L85.7,289.1Z M85.7,290.8 L84.7,291.6 L83.8,290.3 L84.9,289.6Z M84.9,291.4 L83.9,292.2 L83.0,290.9 L84.0,290.2Z M84.1,292.0 L83.1,292.7 L82.1,291.4 L83.2,290.7Z M83.3,292.6 L82.2,293.3 L81.3,292.0 L82.3,291.3Z M82.4,293.2 L81.4,293.9 L80.4,292.5 L81.5,291.8Z M86.1,289.0 L85.1,289.6 L84.3,288.4 L85.3,287.8Z M85.3,289.5 L84.4,290.1 L83.6,288.8 L84.6,288.2Z M84.6,290.0 L83.6,290.6 L82.8,289.3 L83.8,288.7Z M83.8,290.5 L82.8,291.1 L82.0,289.8 L83.0,289.2Z M83.1,291.0 L82.1,291.6 L81.2,290.3 L82.2,289.7Z M82.3,291.5 L81.3,292.1 L80.4,290.7 L81.4,290.1Z M81.5,292.0 L80.6,292.6 L79.7,291.2 L80.6,290.6Z M85.0,288.1 L84.1,288.7 L83.3,287.4 L84.3,286.9Z M84.3,288.6 L83.4,289.1 L82.6,287.8 L83.6,287.3Z M83.6,289.0 L82.7,289.5 L81.9,288.2 L82.8,287.7Z M82.9,289.4 L82.0,290.0 L81.2,288.6 L82.1,288.1Z M82.2,289.8 L81.2,290.4 L80.4,289.0 L81.4,288.5Z M81.5,290.3 L80.5,290.8 L79.7,289.4 L80.7,288.9Z M80.8,290.7 L79.8,291.3 L79.0,289.8 L79.9,289.3Z M84.1,287.1 L83.2,287.6 L82.5,286.3 L83.4,285.9Z M83.4,287.5 L82.5,288.0 L81.8,286.7 L82.7,286.2Z M82.7,287.9 L81.8,288.4 L81.0,287.1 L82.0,286.6Z M82.0,288.3 L81.0,288.8 L80.3,287.4 L81.3,286.9Z M81.3,288.7 L80.3,289.2 L79.6,287.8 L80.5,287.3Z M80.5,289.1 L79.6,289.6 L78.8,288.1 L79.8,287.7Z M79.8,289.5 L78.9,290.0 L78.1,288.5 L79.1,288.0Z M83.4,286.0 L82.4,286.5 L81.7,285.2 L82.8,284.7Z M82.6,286.4 L81.6,286.9 L80.9,285.5 L82.0,285.1Z M81.8,286.8 L80.8,287.3 L80.1,285.9 L81.1,285.4Z M81.0,287.2 L80.0,287.7 L79.3,286.3 L80.3,285.8Z M80.2,287.6 L79.2,288.1 L78.5,286.6 L79.5,286.2Z M79.4,288.0 L78.4,288.5 L77.6,287.0 L78.7,286.5Z M78.6,288.4 L77.6,288.9 L76.8,287.4 L77.9,286.9Z M82.7,284.9 L81.6,285.4 L81.0,284.0 L82.2,283.5Z M81.8,285.3 L80.6,285.8 L80.0,284.4 L81.2,283.9Z M80.8,285.7 L79.7,286.3 L79.0,284.8 L80.2,284.3Z M79.9,286.2 L78.7,286.7 L78.1,285.2 L79.3,284.7Z M78.9,286.6 L77.8,287.1 L77.1,285.5 L78.3,285.1Z M78.0,287.0 L76.8,287.5 L76.1,285.9 L77.3,285.5Z M82.1,283.7 L80.8,284.2 L80.2,282.8 L81.6,282.3Z M81.0,284.2 L79.6,284.7 L79.1,283.2 L80.5,282.7Z M79.9,284.6 L78.5,285.1 L78.0,283.6 L79.3,283.1Z M78.8,285.0 L77.4,285.6 L76.8,284.0 L78.2,283.5Z M77.6,285.5 L76.3,286.0 L75.7,284.4 L77.1,283.9Z M76.5,285.9 L75.2,286.5 L74.6,284.8 L75.9,284.3Z M81.3,282.6 L79.9,283.1 L79.4,281.6 L80.9,281.2Z M80.1,283.0 L78.7,283.5 L78.2,282.0 L79.7,281.5Z M78.9,283.4 L77.5,283.9 L77.0,282.4 L78.4,281.9Z M77.7,283.8 L76.3,284.4 L75.7,282.7 L77.2,282.3Z M76.5,284.3 L75.0,284.8 L74.5,283.1 L76.0,282.6Z M75.3,284.7 L73.8,285.2 L73.3,283.5 L74.7,283.0Z M80.5,281.4 L79.1,281.9 L78.6,280.4 L80.1,280.0Z M79.3,281.8 L77.8,282.2 L77.4,280.7 L78.9,280.3Z M78.1,282.2 L76.6,282.6 L76.2,281.0 L77.7,280.6Z M76.9,282.5 L75.4,283.0 L74.9,281.3 L76.4,280.9Z M75.7,282.9 L74.2,283.3 L73.7,281.6 L75.2,281.2Z M74.4,283.3 L73.0,283.7 L72.5,281.9 L74.0,281.6Z M79.7,280.2 L78.3,280.6 L78.0,279.1 L79.4,278.8Z M78.6,280.5 L77.2,280.9 L76.8,279.3 L78.2,279.0Z M77.4,280.8 L76.0,281.2 L75.6,279.6 L77.0,279.3Z M76.3,281.1 L74.9,281.5 L74.5,279.8 L75.9,279.5Z M75.1,281.4 L73.7,281.8 L73.3,280.0 L74.7,279.7Z M73.9,281.7 L72.6,282.1 L72.1,280.3 L73.5,280.0Z M79.0,279.0 L77.7,279.3 L77.4,277.7 L78.7,277.5Z M77.9,279.2 L76.6,279.5 L76.3,277.9 L77.6,277.7Z M76.8,279.4 L75.5,279.7 L75.2,278.1 L76.5,277.8Z M75.8,279.7 L74.5,280.0 L74.1,278.2 L75.5,278.0Z M74.7,279.9 L73.4,280.2 L73.1,278.4 L74.4,278.2Z M73.6,280.1 L72.3,280.4 L72.0,278.6 L73.3,278.4Z M72.6,280.4 L71.2,280.6 L70.9,278.8 L72.2,278.6Z M78.4,277.7 L77.1,277.9 L76.9,276.3 L78.1,276.1Z M77.3,277.8 L76.1,278.1 L75.8,276.4 L77.1,276.3Z M76.3,278.0 L75.0,278.2 L74.8,276.6 L76.1,276.4Z M75.3,278.2 L74.0,278.4 L73.8,276.7 L75.0,276.5Z M74.3,278.4 L73.0,278.6 L72.7,276.8 L74.0,276.7Z M73.2,278.6 L72.0,278.8 L71.7,276.9 L73.0,276.8Z M72.2,278.7 L70.9,278.9 L70.7,277.1 L71.9,276.9Z M77.9,276.3 L76.6,276.5 L76.4,274.9 L77.7,274.8Z M76.8,276.4 L75.5,276.6 L75.4,275.0 L76.7,274.9Z M75.8,276.6 L74.5,276.8 L74.3,275.0 L75.6,274.9Z M74.7,276.7 L73.4,276.9 L73.2,275.1 L74.6,275.0Z M73.7,276.9 L72.4,277.0 L72.2,275.2 L73.5,275.1Z M72.6,277.0 L71.3,277.2 L71.1,275.3 L72.4,275.2Z M71.6,277.1 L70.2,277.3 L70.0,275.4 L71.4,275.3Z M77.8,274.9 L76.4,275.0 L76.3,273.4 L77.7,273.3Z M76.6,275.0 L75.2,275.1 L75.1,273.5 L76.5,273.4Z M75.5,275.1 L74.0,275.2 L73.9,273.5 L75.4,273.4Z M74.3,275.2 L72.9,275.3 L72.8,273.5 L74.2,273.5Z M73.1,275.3 L71.7,275.4 L71.6,273.6 L73.0,273.5Z M72.0,275.4 L70.6,275.5 L70.5,273.6 L71.9,273.6Z M70.8,275.5 L69.4,275.6 L69.3,273.7 L70.7,273.6Z M77.7,273.5 L76.2,273.5 L76.2,271.9 L77.7,271.9Z M76.5,273.5 L74.9,273.6 L74.9,271.9 L76.4,271.9Z M75.2,273.6 L73.7,273.7 L73.6,271.9 L75.2,271.9Z M73.9,273.7 L72.4,273.7 L72.4,271.9 L73.9,271.9Z M72.7,273.7 L71.1,273.8 L71.1,271.9 L72.6,271.9Z M71.4,273.8 L69.9,273.8 L69.8,271.9 L71.3,271.9Z M70.1,273.8 L68.6,273.9 L68.6,271.9 L70.1,271.9Z" fill="#e6262c" stroke="#e6262c" stroke-width="0.3"/>
<path d="M71.8,267.1 L70.1,266.9 L70.4,265.0 L72.0,265.2Z M70.4,266.9 L68.8,266.7 L69.0,264.7 L70.7,265.0Z M72.5,265.5 L71.0,265.2 L71.4,263.4 L72.9,263.7Z M71.3,265.3 L69.7,265.0 L70.1,263.1 L71.6,263.4Z M73.3,264.0 L71.8,263.7 L72.3,261.8 L73.7,262.2Z M72.1,263.7 L70.6,263.4 L71.1,261.5 L72.5,261.9Z M74.0,262.5 L72.6,262.1 L73.1,260.3 L74.5,260.7Z M74.8,261.0 L73.5,260.6 L74.0,258.9 L75.4,259.3Z M76.5,258.2 L75.2,257.7 L75.9,256.0 L77.2,256.6Z M77.4,256.9 L76.0,256.3 L76.7,254.7 L78.1,255.3Z M78.2,255.6 L76.7,254.8 L77.6,253.2 L79.0,254.0Z M77.0,254.9 L75.5,254.2 L76.3,252.6 L77.8,253.4Z M79.0,254.2 L77.4,253.4 L78.3,251.8 L79.8,252.7Z M77.6,253.5 L76.1,252.6 L77.0,251.0 L78.5,251.9Z M78.3,252.0 L76.7,251.0 L77.7,249.5 L79.3,250.5Z M86.1,255.2 L84.5,254.1 L85.4,252.9 L86.9,254.0Z M79.2,250.6 L77.6,249.6 L78.7,248.1 L80.2,249.2Z M88.3,255.2 L86.8,254.1 L87.6,253.0 L89.1,254.2Z M87.0,254.3 L85.4,253.1 L86.3,252.0 L87.8,253.1Z M80.3,249.4 L78.8,248.3 L79.9,246.8 L81.4,248.0Z M89.3,254.5 L87.8,253.3 L88.7,252.2 L90.1,253.5Z M88.0,253.4 L86.5,252.3 L87.5,251.2 L88.9,252.4Z M81.6,248.4 L80.1,247.2 L81.3,245.8 L82.7,247.0Z M90.4,253.9 L89.0,252.7 L89.9,251.6 L91.3,252.9Z M89.2,252.8 L87.8,251.6 L88.7,250.5 L90.1,251.8Z M83.1,247.6 L81.7,246.3 L82.9,245.0 L84.2,246.3Z M91.7,253.5 L90.3,252.2 L91.2,251.2 L92.5,252.6Z M90.5,252.3 L89.1,251.0 L90.1,250.0 L91.4,251.4Z M84.5,246.7 L83.1,245.4 L84.3,244.1 L85.7,245.5Z M92.9,253.1 L91.6,251.7 L92.5,250.8 L93.8,252.3Z M91.7,251.9 L90.4,250.5 L91.4,249.5 L92.7,251.0Z M86.9,247.0 L85.5,245.6 L86.8,244.4 L88.1,245.9Z M94.0,252.7 L92.7,251.2 L93.6,250.3 L94.9,251.9Z M92.8,251.3 L91.5,249.8 L92.5,248.9 L93.8,250.5Z M88.0,246.0 L86.7,244.5 L87.9,243.4 L89.2,245.0Z M94.8,251.9 L93.5,250.4 L94.5,249.6 L95.8,251.2Z M93.7,250.6 L92.4,249.0 L93.4,248.1 L94.7,249.8Z M95.6,251.2 L94.4,249.6 L95.5,248.8 L96.6,250.5Z M94.6,249.8 L93.3,248.2 L94.4,247.3 L95.6,249.0Z M91.3,245.5 L90.1,243.9 L91.4,242.9 L92.5,244.6Z M96.5,250.5 L95.4,248.9 L96.4,248.2 L97.5,249.9Z M95.5,249.1 L94.4,247.5 L95.5,246.7 L96.6,248.4Z M92.5,244.8 L91.4,243.2 L92.7,242.3 L93.8,244.0Z M97.5,250.0 L96.4,248.4 L97.5,247.7 L98.5,249.4Z M96.6,248.6 L95.5,247.0 L96.7,246.3 L97.7,247.9Z M95.7,247.2 L94.6,245.5 L95.9,244.8 L96.8,246.5Z M94.8,245.8 L93.7,244.1 L95.0,243.3 L96.0,245.0Z M93.9,244.3 L92.8,242.7 L94.2,241.9 L95.2,243.5Z M98.5,249.7 L97.6,248.0 L98.7,247.4 L99.6,249.1Z M97.7,248.2 L96.8,246.6 L97.9,245.9 L98.8,247.6Z M96.9,246.8 L95.9,245.2 L97.2,244.5 L98.1,246.2Z M96.1,245.4 L95.1,243.7 L96.4,243.0 L97.3,244.7Z M95.2,244.0 L94.3,242.3 L95.7,241.6 L96.5,243.2Z M99.6,249.4 L98.7,247.7 L99.9,247.1 L100.7,248.8Z M98.8,247.9 L98.0,246.2 L99.2,245.7 L100.0,247.4Z M98.1,246.5 L97.2,244.8 L98.5,244.2 L99.3,245.9Z M97.3,245.0 L96.5,243.4 L97.8,242.7 L98.6,244.4Z M96.6,243.6 L95.7,241.9 L97.1,241.2 L97.9,242.9Z M100.6,249.0 L99.8,247.3 L101.0,246.8 L101.7,248.5Z M99.9,247.5 L99.1,245.8 L100.3,245.3 L101.0,247.0Z M99.2,246.0 L98.4,244.4 L99.7,243.8 L100.4,245.5Z M98.5,244.6 L97.7,242.9 L99.1,242.3 L99.8,244.0Z M97.8,243.1 L97.1,241.5 L98.5,240.8 L99.2,242.5Z M97.2,241.7 L96.4,240.0 L97.8,239.3 L98.6,241.1Z M96.5,240.2 L95.7,238.6 L97.2,237.9 L97.9,239.6Z M100.9,247.0 L100.2,245.3 L101.4,244.8 L102.1,246.5Z M100.3,245.5 L99.6,243.9 L100.9,243.3 L101.5,245.0Z M99.7,244.1 L99.0,242.4 L100.4,241.9 L101.0,243.6Z M98.5,241.2 L97.8,239.5 L99.3,238.9 L99.9,240.6Z M97.9,239.7 L97.2,238.1 L98.7,237.5 L99.4,239.2Z M101.9,246.4 L101.3,244.8 L102.6,244.3 L103.1,246.0Z M101.4,245.0 L100.8,243.4 L102.1,242.9 L102.6,244.6Z M99.3,239.4 L98.7,237.7 L100.3,237.2 L100.8,238.8Z M103.0,246.0 L102.5,244.4 L103.7,244.0 L104.2,245.6Z M102.5,244.6 L102.0,243.1 L103.4,242.7 L103.8,244.3Z M100.8,239.3 L100.3,237.7 L101.9,237.3 L102.3,238.8Z M104.5,247.1 L104.1,245.6 L105.3,245.3 L105.6,246.8Z M104.1,245.9 L103.7,244.4 L105.0,244.1 L105.4,245.6Z M103.8,244.7 L103.4,243.2 L104.7,242.9 L105.1,244.3Z M102.4,239.8 L102.0,238.3 L103.6,237.9 L103.9,239.4Z M105.6,247.1 L105.3,245.7 L106.5,245.5 L106.8,246.9Z M105.3,246.0 L105.0,244.6 L106.3,244.3 L106.5,245.7Z M105.1,244.8 L104.7,243.5 L106.1,243.2 L106.3,244.6Z M104.8,243.7 L104.5,242.3 L105.8,242.0 L106.1,243.4Z M104.3,241.4 L103.9,240.1 L105.4,239.7 L105.7,241.1Z M106.7,247.2 L106.5,245.9 L107.7,245.7 L107.9,247.0Z M106.5,246.1 L106.3,244.8 L107.5,244.6 L107.7,245.9Z M106.3,245.0 L106.0,243.7 L107.3,243.5 L107.5,244.8Z M106.1,243.9 L105.8,242.6 L107.2,242.4 L107.4,243.7Z M105.9,242.9 L105.6,241.5 L107.0,241.3 L107.2,242.6Z M105.7,241.8 L105.4,240.4 L106.9,240.2 L107.1,241.5Z M107.6,246.2 L107.4,244.9 L108.7,244.7 L108.8,246.1Z M107.5,245.2 L107.3,243.8 L108.6,243.7 L108.7,245.0Z M107.3,244.1 L107.1,242.8 L108.5,242.6 L108.6,243.9Z M107.2,243.0 L107.0,241.7 L108.4,241.5 L108.5,242.8Z M107.0,241.9 L106.8,240.6 L108.2,240.5 L108.4,241.8Z M108.6,245.1 L108.5,243.9 L109.8,243.8 L109.9,245.0Z M108.5,244.1 L108.4,242.9 L109.7,242.7 L109.8,244.0Z M109.7,244.9 L109.7,243.8 L111.0,243.8 L111.0,244.9Z M109.7,244.1 L109.6,243.0 L110.9,242.9 L111.0,244.0Z M110.9,243.9 L110.8,243.2 L112.2,243.2 L112.1,243.9Z M110.8,243.4 L110.8,242.7 L112.2,242.7 L112.2,243.4Z M112.0,244.5 L112.0,243.9 L113.3,243.9 L113.3,244.6Z M112.0,244.1 L112.0,243.4 L113.4,243.5 L113.3,244.2Z M113.1,245.2 L113.2,244.7 L114.4,244.8 L114.4,245.4Z M113.2,244.6 L113.2,244.1 L114.5,244.2 L114.4,244.7Z M113.2,244.3 L113.2,243.7 L114.5,243.9 L114.5,244.4Z M114.2,245.4 L114.3,244.9 L115.5,245.0 L115.5,245.6Z M114.3,244.9 L114.4,244.3 L115.6,244.5 L115.5,245.0Z M114.3,244.6 L114.4,244.0 L115.7,244.2 L115.6,244.7Z M115.3,245.8 L115.4,245.2 L116.6,245.4 L116.5,246.0Z M115.4,245.5 L115.4,244.9 L116.7,245.1 L116.6,245.7Z M115.4,245.1 L115.5,244.5 L116.8,244.8 L116.6,245.4Z M115.5,244.8 L115.5,244.2 L116.8,244.4 L116.7,245.0Z M116.5,245.5 L116.6,244.8 L117.9,245.1 L117.7,245.7Z M116.6,245.0 L116.7,244.4 L118.0,244.6 L117.8,245.3Z M116.7,244.6 L116.8,244.0 L118.1,244.2 L117.9,244.9Z M117.8,245.0 L117.9,244.3 L119.2,244.6 L119.0,245.3Z M117.9,244.6 L118.0,243.9 L119.3,244.2 L119.1,244.9Z M118.0,244.1 L118.1,243.5 L119.4,243.8 L119.2,244.5Z M118.1,243.7 L118.2,243.1 L119.5,243.4 L119.4,244.0Z M119.0,244.9 L119.2,244.2 L120.5,244.6 L120.3,245.2Z M119.1,244.5 L119.3,243.8 L120.6,244.2 L120.4,244.8Z M119.2,244.0 L119.4,243.4 L120.7,243.8 L120.5,244.4Z M119.4,243.6 L119.5,243.0 L120.9,243.4 L120.7,244.0Z M120.1,245.4 L120.3,244.6 L121.6,245.1 L121.3,245.8Z M120.3,244.9 L120.5,244.1 L121.8,244.6 L121.5,245.3Z M135.3,254.6 L136.0,254.2 L136.7,255.3 L136.1,255.7Z M136.4,255.4 L137.0,255.0 L137.7,256.2 L137.1,256.5Z M137.3,256.3 L137.8,256.0 L138.5,257.2 L138.0,257.5Z M138.1,257.3 L138.5,257.1 L139.2,258.3 L138.7,258.6Z M144.3,265.0 L145.1,264.8 L145.4,266.3 L144.5,266.5Z M144.2,266.4 L145.1,266.2 L145.3,267.8 L144.4,267.9Z M144.9,266.3 L145.8,266.1 L146.0,267.7 L145.1,267.8Z M145.5,266.2 L146.4,266.0 L146.7,267.6 L145.7,267.7Z M144.7,267.7 L145.7,267.6 L145.8,269.2 L144.8,269.3Z M146.2,267.5 L147.2,267.4 L147.4,269.1 L146.4,269.1Z M146.9,269.0 L148.1,268.9 L148.2,270.5 L147.0,270.6Z M147.5,270.4 L148.8,270.4 L148.8,272.1 L147.5,272.1Z M147.9,271.9 L149.3,271.9 L149.3,273.7 L147.9,273.6Z M148.2,273.5 L149.7,273.5 L149.6,275.3 L148.1,275.1Z M145.6,274.8 L147.2,274.9 L147.0,276.6 L145.4,276.4Z M146.9,274.9 L148.5,275.0 L148.3,276.7 L146.7,276.5Z M150.5,281.9 L152.3,282.4 L151.8,284.2 L150.0,283.7Z M152.0,282.3 L153.8,282.8 L153.2,284.7 L151.5,284.2Z M148.7,283.2 L150.5,283.7 L149.9,285.5 L148.2,284.9Z M150.3,283.6 L152.1,284.2 L151.5,286.0 L149.7,285.4Z M151.8,284.1 L153.6,284.6 L153.0,286.5 L151.2,285.9Z M148.2,284.7 L150.0,285.3 L149.3,287.1 L147.6,286.4Z M149.7,285.2 L151.5,285.9 L150.9,287.7 L149.1,287.0Z M151.3,285.8 L153.1,286.4 L152.4,288.3 L150.6,287.6Z M147.1,286.0 L148.8,286.7 L148.1,288.4 L146.5,287.6Z M148.6,286.6 L150.3,287.3 L149.5,289.0 L147.9,288.3Z M150.0,287.2 L151.7,287.8 L151.0,289.7 L149.3,288.9Z M146.0,287.3 L147.5,288.0 L146.8,289.6 L145.2,288.8Z M147.3,287.9 L148.9,288.6 L148.1,290.3 L146.6,289.5Z M144.8,288.4 L146.3,289.2 L145.5,290.8 L144.0,290.0Z M146.1,289.1 L147.6,289.8 L146.7,291.5 L145.3,290.6Z M142.4,288.9 L143.8,289.7 L143.0,291.1 L141.5,290.3Z M143.6,289.6 L145.1,290.4 L144.2,291.9 L142.8,291.0Z M138.9,288.5 L140.3,289.4 L139.5,290.7 L138.1,289.8Z M140.1,289.2 L141.5,290.1 L140.6,291.4 L139.3,290.5Z M141.3,290.0 L142.7,290.8 L141.8,292.2 L140.4,291.3Z M142.5,290.7 L143.9,291.5 L143.0,293.0 L141.6,292.1Z M138.0,289.5 L139.3,290.4 L138.4,291.7 L137.1,290.7Z M139.1,290.3 L140.4,291.2 L139.5,292.5 L138.2,291.5Z M140.2,291.0 L141.6,291.9 L140.6,293.3 L139.3,292.3Z M141.4,291.8 L142.7,292.6 L141.7,294.1 L140.4,293.1Z M138.1,291.2 L139.3,292.1 L138.4,293.4 L137.2,292.4Z M139.1,292.0 L140.4,292.9 L139.4,294.2 L138.2,293.2Z M140.2,292.7 L141.4,293.7 L140.4,295.0 L139.2,294.0Z M137.9,292.8 L139.1,293.8 L138.1,295.0 L136.9,294.0Z M138.9,293.6 L140.1,294.6 L139.0,295.9 L137.9,294.9Z M139.9,294.4 L141.1,295.4 L140.0,296.7 L138.8,295.7Z M136.5,293.5 L137.7,294.5 L136.6,295.7 L135.5,294.6Z M138.5,295.2 L139.6,296.2 L138.5,297.4 L137.4,296.4Z M135.1,294.1 L136.3,295.2 L135.2,296.3 L134.1,295.2Z M137.9,296.7 L139.1,297.8 L137.9,299.0 L136.8,297.9Z M133.9,294.7 L134.9,295.8 L133.8,296.9 L132.8,295.7Z M136.6,297.5 L137.7,298.6 L136.4,299.8 L135.4,298.6Z M132.8,295.5 L133.8,296.6 L132.6,297.6 L131.7,296.5Z M131.7,296.3 L132.7,297.5 L131.5,298.4 L130.6,297.2Z M134.9,300.2 L135.8,301.3 L134.5,302.4 L133.6,301.2Z M130.6,297.1 L131.5,298.2 L130.3,299.1 L129.4,297.9Z M133.5,300.8 L134.4,302.0 L133.0,303.0 L132.1,301.8Z M128.1,295.8 L128.9,297.0 L127.8,297.7 L127.0,296.6Z M128.8,296.7 L129.6,297.9 L128.4,298.7 L127.6,297.5Z M129.4,297.7 L130.2,298.8 L129.0,299.6 L128.2,298.5Z M131.3,300.4 L132.1,301.6 L130.7,302.5 L130.0,301.3Z M127.5,297.1 L128.2,298.3 L127.0,299.0 L126.4,297.8Z M128.1,298.1 L128.8,299.2 L127.6,299.9 L126.9,298.8Z M129.3,299.9 L130.0,301.0 L128.6,301.8 L128.0,300.7Z M129.9,300.8 L130.6,301.9 L129.2,302.8 L128.5,301.6Z M126.8,298.3 L127.4,299.5 L126.1,300.2 L125.5,299.0Z M127.3,299.2 L128.0,300.4 L126.7,301.1 L126.0,299.9Z M127.8,300.2 L128.5,301.3 L127.2,302.1 L126.5,300.9Z M128.4,301.1 L129.1,302.3 L127.7,303.1 L127.0,301.9Z M126.0,299.6 L126.6,300.8 L125.3,301.5 L124.7,300.2Z M126.5,300.6 L127.2,301.8 L125.8,302.5 L125.2,301.2Z M124.7,299.9 L125.3,301.2 L124.0,301.9 L123.4,300.5Z M123.5,300.4 L124.1,301.7 L122.7,302.3 L122.2,300.9Z M122.3,300.8 L122.8,302.1 L121.4,302.6 L120.9,301.3Z M121.0,301.2 L121.5,302.4 L120.0,302.8 L119.7,301.6Z M119.8,301.4 L120.1,302.5 L118.7,302.9 L118.4,301.7Z M118.4,301.3 L118.7,302.5 L117.3,302.8 L117.1,301.6Z M119.1,304.1 L119.4,305.2 L117.8,305.5 L117.6,304.4Z M117.2,301.3 L117.4,302.5 L116.0,302.8 L115.8,301.5Z M117.7,304.2 L117.9,305.4 L116.4,305.7 L116.2,304.5Z M115.9,301.4 L116.1,302.8 L114.7,303.0 L114.6,301.6Z M116.4,304.8 L116.6,306.1 L115.0,306.3 L114.9,305.0Z M114.7,301.7 L114.8,303.2 L113.4,303.3 L113.3,301.8Z M115.1,305.4 L115.2,306.8 L113.6,307.0 L113.5,305.5Z M113.4,302.0 L113.5,303.5 L112.1,303.5 L112.1,302.0Z M113.7,305.8 L113.8,307.3 L112.2,307.4 L112.1,305.8Z M112.2,302.1 L112.2,303.6 L110.8,303.6 L110.8,302.1Z M112.3,305.8 L112.3,307.3 L110.7,307.3 L110.7,305.8Z M110.9,302.1 L110.9,303.5 L109.5,303.4 L109.5,302.1Z M110.9,305.5 L110.8,306.8 L109.2,306.7 L109.3,305.4Z M109.7,301.9 L109.6,303.2 L108.2,303.0 L108.3,301.8Z M109.5,304.9 L109.4,306.2 L107.9,306.1 L108.0,304.8Z M108.5,301.6 L108.3,302.8 L106.9,302.6 L107.1,301.4Z M108.4,302.5 L108.2,303.8 L106.8,303.6 L107.0,302.4Z M108.3,303.5 L108.1,304.7 L106.6,304.6 L106.8,303.3Z M108.2,304.5 L108.0,305.7 L106.5,305.5 L106.7,304.3Z M107.2,301.3 L107.1,302.5 L105.7,302.3 L105.9,301.0Z M107.1,302.3 L106.9,303.6 L105.5,303.3 L105.7,302.1Z M106.9,303.3 L106.8,304.6 L105.3,304.4 L105.5,303.1Z M106.8,304.4 L106.6,305.6 L105.1,305.4 L105.3,304.1Z M105.8,302.2 L105.5,303.6 L104.1,303.3 L104.4,301.9Z M105.6,303.4 L105.3,304.7 L103.8,304.4 L104.2,303.1Z M105.4,304.5 L105.1,305.9 L103.6,305.6 L103.9,304.2Z M103.9,304.7 L103.6,306.1 L102.0,305.7 L102.4,304.3Z M102.5,304.6 L102.1,306.0 L100.5,305.6 L101.0,304.2Z M101.1,304.1 L100.7,305.5 L99.2,305.0 L99.7,303.6Z M99.9,303.3 L99.5,304.6 L98.0,304.0 L98.5,302.8Z M98.8,302.4 L98.3,303.5 L96.9,302.9 L97.4,301.8Z M97.6,301.6 L97.2,302.6 L95.8,301.9 L96.3,300.9Z M96.4,301.0 L95.9,302.0 L94.5,301.3 L95.1,300.3Z M95.1,300.6 L94.5,301.6 L93.1,300.8 L93.8,299.8Z M93.7,300.2 L93.1,301.2 L91.7,300.3 L92.4,299.3Z M92.5,299.5 L91.8,300.4 L90.5,299.5 L91.2,298.6Z M91.3,298.7 L90.7,299.6 L89.4,298.6 L90.1,297.7Z M90.3,297.8 L89.6,298.6 L88.4,297.6 L89.1,296.8Z M89.2,296.9 L88.5,297.7 L87.3,296.6 L88.1,295.8Z M91.7,292.3 L90.9,293.1 L90.0,292.1 L90.8,291.3Z M91.1,292.9 L90.3,293.7 L89.3,292.7 L90.2,292.0Z M90.8,291.5 L89.9,292.3 L89.0,291.3 L90.0,290.5Z M90.1,292.2 L89.2,293.0 L88.3,292.0 L89.2,291.2Z M89.8,290.8 L88.8,291.7 L87.9,290.6 L89.0,289.8Z M89.0,291.5 L88.0,292.4 L87.1,291.3 L88.1,290.4Z M88.6,290.2 L87.6,291.0 L86.8,289.9 L87.8,289.1Z M87.8,290.9 L86.8,291.7 L85.9,290.5 L87.0,289.8Z M87.4,289.6 L86.3,290.4 L85.5,289.2 L86.6,288.5Z M77.0,287.4 L75.8,288.0 L75.2,286.3 L76.4,285.8Z M75.4,286.4 L74.1,286.9 L73.4,285.2 L74.8,284.7Z M74.1,285.1 L72.6,285.6 L72.0,283.8 L73.5,283.4Z M73.2,283.6 L71.8,284.1 L71.3,282.2 L72.7,281.9Z M72.8,282.0 L71.4,282.4 L71.0,280.5 L72.4,280.2Z" fill="#ec4a2e" stroke="#ec4a2e" stroke-width="0.3"/>
<path d="M72.8,262.2 L71.4,261.8 L72.0,260.0 L73.3,260.4Z M73.7,260.7 L72.4,260.3 L72.9,258.5 L74.3,258.9Z M75.7,259.6 L74.4,259.2 L75.0,257.5 L76.3,258.0Z M74.6,259.2 L73.3,258.8 L74.0,257.1 L75.3,257.6Z M75.4,257.8 L74.1,257.3 L74.8,255.6 L76.1,256.2Z M76.2,256.4 L74.8,255.8 L75.6,254.1 L77.0,254.8Z M85.7,245.8 L84.3,244.4 L85.6,243.1 L86.9,244.6Z M86.8,244.7 L85.5,243.2 L86.8,242.0 L88.1,243.6Z M89.1,245.0 L87.8,243.4 L89.1,242.4 L90.3,244.0Z M87.9,243.6 L86.6,242.0 L88.0,240.9 L89.3,242.6Z M90.2,244.1 L89.0,242.5 L90.4,241.5 L91.5,243.1Z M89.2,242.7 L87.9,241.1 L89.4,240.0 L90.5,241.7Z M91.5,243.4 L90.4,241.8 L91.8,240.8 L92.9,242.5Z M90.5,242.0 L89.4,240.3 L90.9,239.4 L91.9,241.0Z M93.0,242.9 L91.9,241.3 L93.3,240.4 L94.3,242.1Z M92.0,241.5 L91.0,239.8 L92.5,238.9 L93.5,240.6Z M94.4,242.5 L93.5,240.9 L94.9,240.1 L95.8,241.8Z M93.6,241.1 L92.6,239.5 L94.1,238.6 L95.0,240.3Z M95.8,242.1 L94.9,240.5 L96.4,239.8 L97.2,241.5Z M95.1,240.7 L94.2,239.0 L95.7,238.3 L96.5,240.0Z M101.5,248.4 L100.8,246.7 L102.0,246.3 L102.6,248.0Z M102.4,247.8 L101.8,246.2 L103.0,245.8 L103.6,247.4Z M103.4,247.3 L102.9,245.7 L104.1,245.4 L104.6,247.0Z M104.0,240.3 L103.7,238.9 L105.2,238.6 L105.5,240.0Z M105.5,240.7 L105.2,239.4 L106.7,239.1 L106.9,240.4Z M106.8,240.9 L106.6,239.6 L108.1,239.4 L108.3,240.7Z M108.4,243.1 L108.3,241.9 L109.7,241.7 L109.7,243.0Z M108.3,242.1 L108.2,240.9 L109.6,240.7 L109.7,242.0Z M108.2,241.1 L108.1,239.8 L109.5,239.7 L109.6,241.0Z M109.6,243.2 L109.6,242.1 L110.9,242.1 L111.0,243.2Z M109.6,242.4 L109.5,241.3 L110.9,241.2 L110.9,242.3Z M109.5,241.5 L109.5,240.4 L110.9,240.4 L110.9,241.5Z M110.8,243.0 L110.8,242.3 L112.2,242.3 L112.2,243.0Z M110.8,242.6 L110.8,241.9 L112.2,241.9 L112.2,242.6Z M110.8,242.1 L110.8,241.5 L112.2,241.5 L112.2,242.1Z M112.0,243.7 L112.0,243.0 L113.4,243.1 L113.3,243.7Z M112.0,243.3 L112.1,242.6 L113.4,242.6 L113.4,243.3Z M112.1,242.8 L112.1,242.1 L113.4,242.2 L113.4,242.9Z M113.2,244.0 L113.2,243.4 L114.5,243.5 L114.5,244.1Z M113.2,243.7 L113.3,243.1 L114.6,243.2 L114.5,243.8Z M113.2,243.4 L113.3,242.8 L114.6,242.9 L114.6,243.5Z M114.4,244.3 L114.4,243.8 L115.7,243.9 L115.6,244.5Z M114.4,244.0 L114.4,243.5 L115.7,243.6 L115.7,244.2Z M114.4,243.7 L114.5,243.2 L115.8,243.4 L115.7,243.9Z M115.5,244.5 L115.6,243.9 L116.9,244.1 L116.8,244.7Z M115.6,244.1 L115.6,243.5 L117.0,243.7 L116.8,244.3Z M115.6,243.8 L115.7,243.2 L117.0,243.4 L116.9,244.0Z M116.4,245.9 L116.6,245.2 L117.8,245.5 L117.6,246.1Z M116.7,244.2 L116.9,243.5 L118.2,243.8 L118.0,244.5Z M116.8,243.8 L117.0,243.1 L118.3,243.4 L118.1,244.1Z M116.9,243.4 L117.0,242.7 L118.4,243.0 L118.2,243.6Z M117.7,245.4 L117.8,244.7 L119.1,245.0 L118.9,245.7Z M118.2,243.3 L118.3,242.6 L119.7,243.0 L119.5,243.6Z M118.3,242.9 L118.4,242.2 L119.8,242.6 L119.6,243.2Z M118.9,245.3 L119.1,244.6 L120.3,245.0 L120.1,245.7Z M119.5,243.2 L119.7,242.6 L121.0,243.0 L120.8,243.6Z M119.6,242.8 L119.8,242.2 L121.1,242.6 L120.9,243.2Z M119.8,246.4 L120.0,245.6 L121.2,246.0 L120.9,246.8Z M119.9,245.9 L120.2,245.1 L121.4,245.6 L121.1,246.3Z M120.4,244.4 L120.7,243.6 L121.9,244.1 L121.7,244.8Z M120.6,243.9 L120.8,243.1 L122.1,243.6 L121.9,244.3Z M121.0,246.3 L121.2,245.7 L122.4,246.2 L122.2,246.7Z M121.1,245.9 L121.4,245.3 L122.6,245.8 L122.3,246.4Z M121.3,245.6 L121.5,245.0 L122.7,245.5 L122.5,246.0Z M121.4,245.2 L121.6,244.6 L122.9,245.1 L122.6,245.7Z M121.5,244.9 L121.7,244.3 L123.0,244.8 L122.8,245.3Z M121.7,244.5 L121.9,243.9 L123.2,244.4 L122.9,245.0Z M122.2,246.4 L122.4,245.9 L123.6,246.5 L123.4,246.9Z M122.3,246.2 L122.5,245.7 L123.7,246.2 L123.5,246.7Z M122.4,245.9 L122.6,245.5 L123.8,246.0 L123.6,246.5Z M122.5,245.7 L122.7,245.2 L123.9,245.8 L123.7,246.2Z M122.6,245.5 L122.8,245.0 L124.0,245.6 L123.8,246.0Z M122.7,245.2 L122.9,244.8 L124.1,245.3 L123.9,245.8Z M123.3,246.8 L123.5,246.4 L124.6,247.0 L124.4,247.4Z M123.4,246.6 L123.6,246.2 L124.8,246.8 L124.5,247.2Z M123.5,246.4 L123.7,246.0 L124.9,246.6 L124.6,247.0Z M123.6,246.2 L123.8,245.8 L125.0,246.4 L124.7,246.8Z M123.7,246.0 L123.9,245.6 L125.1,246.2 L124.8,246.6Z M124.3,247.4 L124.5,246.9 L125.7,247.6 L125.4,248.0Z M124.4,247.2 L124.7,246.7 L125.8,247.3 L125.5,247.8Z M124.6,246.9 L124.8,246.4 L126.0,247.1 L125.7,247.5Z M124.7,246.6 L124.9,246.2 L126.1,246.8 L125.8,247.3Z M124.8,246.4 L125.1,245.9 L126.3,246.6 L126.0,247.0Z M125.3,248.0 L125.6,247.5 L126.7,248.1 L126.4,248.7Z M125.5,247.7 L125.8,247.1 L126.9,247.8 L126.6,248.3Z M125.7,247.3 L126.0,246.8 L127.1,247.5 L126.8,248.0Z M125.9,247.0 L126.2,246.4 L127.4,247.1 L127.0,247.7Z M126.1,246.6 L126.4,246.1 L127.6,246.8 L127.2,247.3Z M126.3,248.6 L126.7,247.9 L127.8,248.7 L127.4,249.3Z M126.6,248.1 L127.0,247.5 L128.1,248.2 L127.6,248.9Z M126.8,247.7 L127.3,247.1 L128.4,247.8 L127.9,248.4Z M127.1,247.3 L127.5,246.6 L128.7,247.4 L128.2,248.0Z M127.4,246.9 L127.8,246.2 L129.0,247.0 L128.5,247.6Z M127.4,249.0 L127.8,248.4 L128.9,249.2 L128.4,249.8Z M128.0,248.1 L128.5,247.5 L129.6,248.3 L129.1,248.9Z M128.3,247.7 L128.8,247.0 L129.9,247.8 L129.4,248.5Z M128.6,247.2 L129.1,246.6 L130.2,247.4 L129.8,248.0Z M129.1,248.7 L129.6,248.1 L130.7,248.9 L130.2,249.5Z M129.4,248.3 L129.9,247.7 L131.0,248.5 L130.5,249.1Z M129.7,247.9 L130.2,247.2 L131.3,248.1 L130.8,248.7Z M130.1,249.4 L130.6,248.9 L131.6,249.8 L131.1,250.3Z M130.4,249.0 L130.9,248.5 L131.9,249.4 L131.4,249.9Z M130.7,248.7 L131.2,248.1 L132.2,249.1 L131.8,249.6Z M131.0,248.3 L131.5,247.8 L132.5,248.7 L132.1,249.3Z M131.0,250.2 L131.5,249.7 L132.5,250.7 L132.0,251.2Z M131.3,249.9 L131.7,249.4 L132.8,250.4 L132.3,250.9Z M131.6,249.6 L132.0,249.1 L133.0,250.1 L132.6,250.6Z M131.8,249.3 L132.3,248.8 L133.3,249.8 L132.9,250.3Z M131.6,251.4 L132.1,250.9 L133.0,251.9 L132.5,252.4Z M131.9,251.1 L132.4,250.6 L133.3,251.6 L132.8,252.1Z M132.2,250.8 L132.7,250.3 L133.6,251.3 L133.1,251.8Z M132.5,250.5 L133.0,250.0 L133.9,251.0 L133.4,251.5Z M132.8,250.2 L133.3,249.7 L134.3,250.7 L133.8,251.2Z M132.2,252.5 L132.7,252.0 L133.6,253.0 L133.0,253.5Z M132.5,252.2 L133.0,251.7 L134.0,252.7 L133.4,253.2Z M132.9,251.9 L133.4,251.4 L134.3,252.4 L133.8,252.9Z M133.2,251.5 L133.7,251.0 L134.7,252.1 L134.1,252.5Z M133.6,251.2 L134.1,250.7 L135.0,251.8 L134.5,252.2Z M133.1,253.2 L133.7,252.7 L134.6,253.8 L134.0,254.3Z M133.6,252.9 L134.1,252.4 L135.0,253.4 L134.4,253.9Z M134.0,252.5 L134.5,252.0 L135.4,253.1 L134.8,253.6Z M134.4,252.2 L134.9,251.7 L135.9,252.8 L135.2,253.3Z M134.8,251.8 L135.3,251.3 L136.3,252.4 L135.7,252.9Z M134.2,253.9 L134.8,253.4 L135.7,254.5 L135.0,255.0Z M134.7,253.6 L135.3,253.1 L136.1,254.2 L135.5,254.7Z M135.1,253.2 L135.7,252.7 L136.6,253.9 L135.9,254.3Z M135.5,252.9 L136.1,252.4 L137.0,253.5 L136.4,254.0Z M135.9,252.6 L136.6,252.1 L137.5,253.2 L136.8,253.7Z M135.8,254.3 L136.4,253.9 L137.2,255.0 L136.5,255.4Z M136.2,254.0 L136.8,253.6 L137.6,254.7 L137.0,255.2Z M136.6,253.7 L137.2,253.3 L138.0,254.5 L137.4,254.9Z M136.8,255.2 L137.3,254.8 L138.1,256.0 L137.5,256.3Z M137.1,254.9 L137.6,254.6 L138.4,255.8 L137.9,256.1Z M137.4,254.7 L138.0,254.3 L138.8,255.6 L138.2,255.9Z M137.6,256.1 L138.1,255.8 L138.8,257.1 L138.3,257.3Z M137.9,255.9 L138.4,255.6 L139.1,256.9 L138.6,257.2Z M138.2,255.8 L138.7,255.5 L139.4,256.7 L138.9,257.0Z M138.3,257.2 L138.8,256.9 L139.5,258.2 L139.0,258.4Z M138.6,257.0 L139.1,256.8 L139.7,258.1 L139.2,258.3Z M138.8,256.9 L139.3,256.6 L140.0,257.9 L139.5,258.2Z M138.7,258.4 L139.3,258.1 L139.9,259.4 L139.3,259.7Z M139.1,258.2 L139.7,257.9 L140.3,259.3 L139.7,259.5Z M139.4,258.1 L140.0,257.8 L140.6,259.1 L140.0,259.4Z M139.8,257.9 L140.4,257.6 L141.0,258.9 L140.4,259.2Z M140.1,257.7 L140.7,257.4 L141.4,258.8 L140.8,259.0Z M139.4,259.5 L140.1,259.2 L140.7,260.5 L140.0,260.8Z M139.9,259.3 L140.6,259.0 L141.2,260.3 L140.5,260.6Z M140.4,259.1 L141.1,258.7 L141.7,260.1 L141.0,260.4Z M140.9,258.8 L141.6,258.5 L142.2,259.9 L141.5,260.2Z M141.4,258.6 L142.1,258.3 L142.7,259.7 L142.0,260.0Z M141.9,258.4 L142.6,258.1 L143.2,259.5 L142.5,259.8Z M140.2,260.6 L141.0,260.2 L141.5,261.6 L140.7,261.9Z M140.8,260.3 L141.7,260.0 L142.2,261.4 L141.3,261.7Z M141.4,260.1 L142.3,259.7 L142.8,261.2 L141.9,261.5Z M142.0,259.8 L142.9,259.5 L143.4,260.9 L142.6,261.2Z M142.7,259.6 L143.5,259.2 L144.1,260.7 L143.2,261.0Z M143.3,259.3 L144.1,259.0 L144.7,260.5 L143.8,260.8Z M143.9,259.1 L144.8,258.8 L145.3,260.3 L144.5,260.6Z M141.1,261.6 L142.0,261.3 L142.5,262.7 L141.6,263.0Z M141.8,261.4 L142.7,261.1 L143.2,262.5 L142.3,262.8Z M142.5,261.1 L143.4,260.8 L143.9,262.3 L143.0,262.6Z M143.2,260.9 L144.1,260.6 L144.6,262.1 L143.7,262.4Z M143.9,260.7 L144.8,260.3 L145.3,261.9 L144.4,262.1Z M144.6,260.4 L145.5,260.1 L146.0,261.7 L145.1,261.9Z M145.3,260.2 L146.2,259.8 L146.7,261.4 L145.8,261.7Z M142.1,262.7 L143.0,262.4 L143.4,263.9 L142.5,264.1Z M142.8,262.5 L143.7,262.2 L144.1,263.7 L143.2,263.9Z M143.4,262.3 L144.4,262.0 L144.8,263.5 L143.9,263.8Z M144.1,262.1 L145.1,261.8 L145.5,263.3 L144.6,263.6Z M144.8,261.9 L145.8,261.6 L146.2,263.2 L145.3,263.4Z M145.5,261.7 L146.5,261.4 L146.9,263.0 L146.0,263.2Z M146.2,261.4 L147.2,261.2 L147.6,262.8 L146.7,263.0Z M142.9,263.9 L143.8,263.6 L144.2,265.1 L143.3,265.3Z M143.6,263.7 L144.5,263.5 L144.8,265.0 L143.9,265.2Z M144.2,263.5 L145.1,263.3 L145.5,264.8 L144.6,265.0Z M144.9,263.4 L145.8,263.1 L146.2,264.7 L145.3,264.9Z M145.5,263.2 L146.4,263.0 L146.8,264.6 L145.9,264.8Z M146.2,263.0 L147.1,262.8 L147.5,264.4 L146.6,264.6Z M146.9,262.8 L147.8,262.6 L148.2,264.3 L147.2,264.5Z M143.6,265.1 L144.5,264.9 L144.8,266.4 L143.9,266.6Z M144.9,264.8 L145.8,264.6 L146.1,266.2 L145.2,266.4Z M145.5,264.7 L146.4,264.5 L146.7,266.1 L145.8,266.3Z M146.2,264.6 L147.0,264.4 L147.4,266.0 L146.5,266.2Z M146.8,264.4 L147.7,264.2 L148.0,265.9 L147.1,266.1Z M147.4,264.3 L148.3,264.1 L148.6,265.8 L147.7,265.9Z M146.2,266.1 L147.1,265.9 L147.3,267.5 L146.4,267.7Z M146.8,265.9 L147.8,265.8 L148.0,267.5 L147.1,267.6Z M147.5,265.8 L148.4,265.7 L148.7,267.4 L147.8,267.5Z M146.9,267.5 L147.9,267.3 L148.1,269.0 L147.1,269.1Z M147.7,267.4 L148.7,267.2 L148.9,268.9 L147.9,269.0Z M147.8,268.9 L148.9,268.8 L149.0,270.5 L147.9,270.5Z M148.5,270.4 L149.8,270.3 L149.8,272.1 L148.6,272.1Z M149.1,271.9 L150.5,271.9 L150.5,273.7 L149.1,273.6Z M149.4,273.5 L150.9,273.6 L150.8,275.4 L149.3,275.3Z M148.2,275.0 L149.8,275.1 L149.6,276.9 L148.1,276.7Z M149.6,275.1 L151.1,275.2 L150.9,277.1 L149.4,276.9Z M145.4,276.2 L147.1,276.4 L146.8,278.0 L145.2,277.8Z M146.8,276.4 L148.5,276.6 L148.2,278.3 L146.6,278.0Z M148.2,276.6 L149.9,276.8 L149.6,278.5 L148.0,278.2Z M149.6,276.7 L151.2,276.9 L151.0,278.8 L149.4,278.5Z M151.0,276.9 L152.6,277.1 L152.4,279.0 L150.7,278.7Z M152.4,277.1 L154.0,277.3 L153.7,279.2 L152.1,279.0Z M145.3,277.6 L146.9,277.9 L146.6,279.5 L145.0,279.2Z M146.7,277.9 L148.3,278.1 L148.0,279.8 L146.4,279.5Z M148.1,278.1 L149.7,278.4 L149.4,280.1 L147.7,279.8Z M149.5,278.3 L151.1,278.6 L150.7,280.4 L149.1,280.1Z M150.8,278.6 L152.5,278.8 L152.1,280.7 L150.5,280.4Z M152.2,278.8 L153.9,279.1 L153.5,281.0 L151.9,280.7Z M153.6,279.0 L155.3,279.3 L154.9,281.3 L153.3,281.0Z M146.4,279.3 L148.0,279.7 L147.7,281.4 L146.0,280.9Z M147.8,279.6 L149.5,280.0 L149.1,281.7 L147.4,281.3Z M149.2,279.9 L150.9,280.3 L150.5,282.1 L148.8,281.7Z M150.7,280.2 L152.4,280.6 L151.9,282.5 L150.3,282.0Z M152.1,280.5 L153.8,280.9 L153.3,282.8 L151.7,282.4Z M153.6,280.9 L155.2,281.2 L154.8,283.2 L153.1,282.8Z M147.5,281.2 L149.3,281.6 L148.8,283.3 L147.1,282.8Z M149.0,281.6 L150.8,282.0 L150.3,283.8 L148.6,283.3Z M153.5,282.7 L155.3,283.1 L154.7,285.1 L153.0,284.6Z M147.2,282.7 L149.0,283.2 L148.4,284.9 L146.7,284.3Z M153.4,284.5 L155.1,285.1 L154.5,287.1 L152.7,286.5Z M146.6,284.2 L148.4,284.8 L147.8,286.5 L146.0,285.8Z M152.8,286.3 L154.6,286.9 L153.9,288.9 L152.1,288.2Z M144.2,284.9 L145.9,285.5 L145.3,287.1 L143.6,286.4Z M145.7,285.5 L147.4,286.1 L146.7,287.7 L145.0,287.0Z M151.5,287.7 L153.2,288.4 L152.4,290.3 L150.7,289.6Z M141.9,285.4 L143.5,286.2 L142.8,287.6 L141.2,286.8Z M143.2,286.0 L144.8,286.8 L144.1,288.3 L142.5,287.5Z M144.6,286.7 L146.2,287.4 L145.4,288.9 L143.9,288.2Z M148.7,288.5 L150.3,289.2 L149.4,290.9 L147.9,290.2Z M150.0,289.1 L151.6,289.8 L150.8,291.6 L149.2,290.8Z M140.9,286.5 L142.4,287.3 L141.7,288.7 L140.2,287.9Z M142.2,287.2 L143.7,287.9 L143.0,289.4 L141.5,288.6Z M143.5,287.8 L145.0,288.6 L144.2,290.1 L142.7,289.3Z M147.4,289.7 L148.9,290.5 L148.0,292.2 L146.5,291.3Z M139.9,287.5 L141.3,288.3 L140.5,289.7 L139.1,288.8Z M141.1,288.2 L142.6,289.0 L141.8,290.4 L140.3,289.5Z M144.8,290.2 L146.3,291.0 L145.4,292.6 L144.0,291.8Z M146.1,290.9 L147.6,291.7 L146.6,293.4 L145.2,292.5Z M143.7,291.4 L145.1,292.3 L144.1,293.8 L142.8,292.9Z M142.5,292.5 L143.8,293.4 L142.8,294.9 L141.5,293.9Z M137.0,290.5 L138.3,291.4 L137.3,292.6 L136.1,291.6Z M141.2,293.5 L142.5,294.4 L141.4,295.8 L140.2,294.8Z M142.3,294.3 L143.5,295.2 L142.4,296.6 L141.2,295.7Z M135.9,291.2 L137.1,292.2 L136.1,293.3 L135.0,292.3Z M136.9,292.0 L138.1,293.0 L137.1,294.2 L135.9,293.2Z M140.9,295.2 L142.1,296.1 L141.0,297.5 L139.8,296.5Z M134.6,291.9 L135.8,292.9 L134.8,293.9 L133.7,292.9Z M135.6,292.7 L136.7,293.7 L135.7,294.8 L134.6,293.8Z M139.4,296.0 L140.6,297.0 L139.4,298.3 L138.3,297.3Z M133.3,292.4 L134.4,293.4 L133.4,294.4 L132.3,293.3Z M134.2,293.2 L135.3,294.3 L134.3,295.4 L133.2,294.3Z M138.9,297.6 L140.0,298.7 L138.7,299.9 L137.7,298.8Z M132.0,292.9 L133.1,294.0 L132.1,295.0 L131.1,293.8Z M133.0,293.8 L134.0,294.9 L133.0,295.9 L131.9,294.8Z M137.5,298.4 L138.6,299.5 L137.3,300.8 L136.3,299.6Z M131.0,293.6 L132.1,294.7 L131.0,295.7 L130.0,294.5Z M131.9,294.6 L132.9,295.7 L131.8,296.7 L130.8,295.5Z M136.2,299.3 L137.2,300.5 L135.9,301.6 L134.9,300.4Z M130.1,294.4 L131.1,295.5 L130.0,296.4 L129.1,295.2Z M130.9,295.4 L131.9,296.5 L130.7,297.4 L129.8,296.2Z M129.2,295.2 L130.0,296.3 L128.9,297.2 L128.1,296.0Z M129.9,296.1 L130.8,297.3 L129.6,298.1 L128.8,296.9Z M132.0,301.3 L132.8,302.5 L131.3,303.4 L130.6,302.3Z M130.4,301.7 L131.2,302.8 L129.7,303.7 L129.1,302.5Z M128.9,302.1 L129.6,303.2 L128.2,304.0 L127.5,302.8Z M127.0,301.6 L127.7,302.8 L126.3,303.5 L125.7,302.3Z M127.6,302.6 L128.2,303.8 L126.8,304.6 L126.2,303.3Z M125.2,301.0 L125.8,302.3 L124.4,303.0 L123.9,301.6Z M125.7,302.1 L126.4,303.4 L124.9,304.1 L124.3,302.7Z M126.3,303.2 L126.9,304.5 L125.4,305.2 L124.8,303.8Z M124.0,301.5 L124.5,302.8 L123.1,303.4 L122.6,302.0Z M124.4,302.6 L125.0,303.9 L123.5,304.5 L123.0,303.2Z M124.9,303.7 L125.5,305.1 L123.9,305.7 L123.4,304.3Z M122.7,301.9 L123.2,303.2 L121.7,303.7 L121.3,302.4Z M123.1,303.0 L123.6,304.3 L122.1,304.8 L121.7,303.5Z M123.5,304.1 L124.0,305.4 L122.4,305.9 L122.0,304.6Z M121.4,302.2 L121.8,303.4 L120.3,303.8 L120.0,302.6Z M121.7,303.2 L122.1,304.4 L120.6,304.9 L120.3,303.6Z M122.0,304.2 L122.4,305.4 L120.9,305.9 L120.5,304.6Z M120.0,302.3 L120.3,303.4 L118.9,303.8 L118.6,302.6Z M120.3,303.2 L120.6,304.4 L119.1,304.7 L118.8,303.6Z M120.5,304.1 L120.9,305.3 L119.3,305.7 L119.1,304.5Z M118.7,302.3 L118.9,303.4 L117.5,303.7 L117.3,302.5Z M118.9,303.2 L119.1,304.3 L117.7,304.6 L117.4,303.5Z M117.3,302.3 L117.6,303.5 L116.1,303.7 L115.9,302.5Z M117.5,303.3 L117.8,304.5 L116.3,304.7 L116.1,303.5Z M116.1,302.5 L116.3,303.9 L114.8,304.1 L114.7,302.7Z M116.2,303.7 L116.4,305.0 L114.9,305.2 L114.8,303.8Z M114.8,302.9 L115.0,304.4 L113.5,304.5 L113.4,303.0Z M114.9,304.1 L115.1,305.6 L113.6,305.7 L113.5,304.3Z M113.5,303.2 L113.6,304.7 L112.1,304.8 L112.1,303.3Z M113.6,304.5 L113.7,306.0 L112.1,306.1 L112.1,304.6Z M112.2,303.4 L112.3,304.8 L110.7,304.8 L110.8,303.4Z M112.2,304.6 L112.3,306.0 L110.7,306.0 L110.8,304.6Z M110.9,303.2 L110.9,304.6 L109.4,304.5 L109.5,303.2Z M110.9,304.3 L110.9,305.7 L109.3,305.6 L109.4,304.3Z M109.6,302.9 L109.5,304.2 L108.1,304.0 L108.2,302.8Z M109.6,303.9 L109.5,305.2 L108.0,305.0 L108.1,303.8Z" fill="#f08a32" stroke="#f08a32" stroke-width="0.3"/>
<path d="M120.7,243.4 L121.0,242.6 L122.3,243.1 L122.0,243.8Z M121.8,244.2 L122.0,243.6 L123.3,244.1 L123.1,244.7Z M122.8,245.0 L123.0,244.5 L124.2,245.1 L124.0,245.5Z M123.8,245.8 L124.0,245.4 L125.2,246.0 L125.0,246.4Z M125.0,246.1 L125.2,245.7 L126.4,246.3 L126.1,246.8Z M126.3,246.3 L126.6,245.7 L127.8,246.4 L127.4,247.0Z M127.7,246.4 L128.1,245.8 L129.3,246.6 L128.8,247.2Z M127.9,246.0 L128.3,245.3 L129.5,246.1 L129.1,246.8Z M127.7,248.6 L128.2,247.9 L129.2,248.7 L128.8,249.4Z M129.0,246.8 L129.4,246.1 L130.6,247.0 L130.1,247.6Z M129.3,246.3 L129.7,245.7 L130.9,246.5 L130.4,247.2Z M128.5,249.5 L129.0,248.9 L130.0,249.7 L129.5,250.3Z M128.8,249.1 L129.3,248.5 L130.3,249.3 L129.8,249.9Z M130.1,247.4 L130.5,246.8 L131.7,247.7 L131.2,248.3Z M130.4,247.0 L130.8,246.4 L132.0,247.3 L131.5,247.9Z M129.5,250.1 L130.0,249.6 L131.0,250.4 L130.5,251.0Z M129.8,249.8 L130.3,249.2 L131.3,250.1 L130.8,250.6Z M131.3,248.0 L131.7,247.4 L132.9,248.4 L132.4,248.9Z M130.5,250.9 L130.9,250.4 L131.9,251.3 L131.4,251.8Z M130.7,250.6 L131.2,250.1 L132.2,251.0 L131.7,251.5Z M132.1,249.0 L132.6,248.5 L133.6,249.5 L133.2,250.0Z M131.3,251.7 L131.8,251.2 L132.7,252.2 L132.2,252.6Z M133.1,249.9 L133.6,249.4 L134.6,250.4 L134.1,250.9Z M133.9,250.9 L134.4,250.4 L135.4,251.4 L134.9,251.9Z M134.3,250.5 L134.8,250.0 L135.8,251.1 L135.2,251.6Z M135.2,251.5 L135.8,251.0 L136.7,252.1 L136.1,252.6Z M136.4,252.2 L137.0,251.7 L137.9,252.9 L137.2,253.4Z M137.0,253.4 L137.6,253.0 L138.4,254.2 L137.8,254.6Z M137.8,254.5 L138.3,254.1 L139.1,255.3 L138.6,255.7Z M138.4,255.6 L138.9,255.3 L139.7,256.6 L139.2,256.9Z M139.1,256.8 L139.6,256.5 L140.3,257.8 L139.8,258.0Z M139.4,256.6 L139.8,256.3 L140.5,257.7 L140.0,257.9Z M140.5,257.5 L141.1,257.2 L141.7,258.6 L141.1,258.9Z M140.9,257.4 L141.4,257.1 L142.1,258.5 L141.5,258.7Z M142.4,258.2 L143.1,257.9 L143.7,259.3 L143.0,259.6Z M148.2,265.7 L149.1,265.6 L149.3,267.3 L148.4,267.4Z M148.5,267.3 L149.5,267.1 L149.6,268.9 L148.6,269.0Z M149.2,267.2 L150.2,267.0 L150.4,268.8 L149.4,268.9Z M148.7,268.8 L149.8,268.7 L149.9,270.5 L148.8,270.5Z M149.6,270.3 L150.8,270.3 L150.9,272.1 L149.6,272.1Z M150.3,271.9 L151.7,271.9 L151.6,273.8 L150.2,273.7Z M150.7,273.6 L152.2,273.6 L152.1,275.5 L150.6,275.4Z M150.9,275.2 L152.5,275.4 L152.3,277.2 L150.7,277.0Z M152.2,275.3 L153.8,275.5 L153.6,277.4 L152.0,277.2Z M153.8,277.3 L155.4,277.5 L155.1,279.5 L153.5,279.2Z M144.9,279.0 L146.6,279.4 L146.2,281.0 L144.6,280.6Z M144.5,280.4 L146.3,280.9 L145.8,282.4 L144.1,281.9Z M146.0,280.8 L147.8,281.2 L147.3,282.9 L145.6,282.4Z M144.1,281.8 L145.9,282.3 L145.4,283.9 L143.6,283.3Z M145.7,282.2 L147.4,282.8 L146.9,284.4 L145.2,283.8Z M143.5,283.1 L145.3,283.7 L144.8,285.2 L143.0,284.5Z M145.1,283.6 L146.9,284.2 L146.3,285.9 L144.5,285.2Z M142.8,284.3 L144.5,285.0 L143.8,286.5 L142.2,285.7Z M148.6,290.3 L150.2,291.1 L149.2,292.8 L147.8,292.0Z M147.3,291.6 L148.8,292.4 L147.8,294.1 L146.4,293.2Z M144.9,292.1 L146.3,293.0 L145.3,294.5 L143.9,293.6Z M143.6,293.3 L145.0,294.1 L143.9,295.7 L142.6,294.7Z M141.9,296.0 L143.1,296.9 L141.9,298.4 L140.8,297.4Z M140.4,296.8 L141.5,297.8 L140.3,299.2 L139.2,298.1Z" fill="#f3b63a" stroke="#f3b63a" stroke-width="0.3"/>
<path d="M123.9,245.6 L124.1,245.2 L125.3,245.8 L125.1,246.2Z M125.1,245.9 L125.3,245.4 L126.5,246.1 L126.3,246.5Z M126.5,245.9 L126.8,245.4 L128.0,246.1 L127.7,246.6Z M135.6,251.1 L136.2,250.6 L137.1,251.8 L136.5,252.3Z M136.8,251.9 L137.4,251.4 L138.3,252.6 L137.7,253.1Z M137.4,253.1 L138.0,252.7 L138.8,253.9 L138.2,254.3Z M137.8,252.8 L138.4,252.4 L139.3,253.6 L138.6,254.1Z M138.1,254.2 L138.7,253.9 L139.5,255.1 L138.9,255.5Z M138.5,254.0 L139.0,253.6 L139.8,254.9 L139.3,255.3Z M138.7,255.4 L139.2,255.1 L140.0,256.4 L139.5,256.7Z M139.0,255.3 L139.5,255.0 L140.3,256.3 L139.7,256.5Z M139.6,256.5 L140.1,256.2 L140.8,257.5 L140.3,257.8Z M149.6,268.7 L150.7,268.6 L150.8,270.4 L149.7,270.5Z M150.4,268.7 L151.6,268.6 L151.7,270.4 L150.6,270.4Z M150.6,270.3 L151.9,270.2 L151.9,272.1 L150.6,272.1Z M151.6,270.2 L152.9,270.2 L153.0,272.1 L151.7,272.1Z M151.4,271.9 L152.8,271.9 L152.8,273.8 L151.4,273.8Z M152.6,271.9 L154.0,271.9 L154.0,273.9 L152.6,273.8Z M151.9,273.6 L153.5,273.7 L153.3,275.6 L151.8,275.5Z M153.2,273.7 L154.7,273.7 L154.6,275.7 L153.1,275.6Z M153.5,275.4 L155.1,275.6 L154.9,277.6 L153.3,277.4Z M146.1,292.8 L147.5,293.7 L146.5,295.3 L145.1,294.4Z M144.8,294.0 L146.1,294.9 L145.0,296.5 L143.7,295.5Z M143.3,295.0 L144.6,295.9 L143.5,297.4 L142.2,296.5Z" fill="#ecd845" stroke="#ecd845" stroke-width="0.3"/>
<circle cx="90.5" cy="240.0" r="0.9" fill="#98c440"/>
<circle cx="93.5" cy="238.8" r="0.9" fill="#98c440"/>
<circle cx="98.0" cy="237.8" r="0.9" fill="#98c440"/>
<circle cx="155.8" cy="277.0" r="0.9" fill="#98c440"/>
<circle cx="155.0" cy="289.5" r="0.9" fill="#98c440"/>
<circle cx="119.0" cy="242.2" r="0.9" fill="#98c440"/>
<circle cx="84.5" cy="295.5" r="0.9" fill="#98c440"/>
<circle cx="95.0" cy="254.2" r="1.0" fill="#e62a2c"/>
<circle cx="98.2" cy="259.7" r="1.0" fill="#e62a2c"/>
<circle cx="91.2" cy="275.0" r="1.0" fill="#f0a040"/>
<circle cx="107.5" cy="250.5" r="1.0" fill="#e62a2c"/>
<circle cx="138.5" cy="283.0" r="1.0" fill="#e62a2c"/>
<circle cx="140.5" cy="281.2" r="1.0" fill="#e62a2c"/>
<path d="M139.1,368.9 L140.6,368.5 L141.0,369.6 L139.4,370.0Z M139.2,371.0 L140.6,370.7 L140.9,371.8 L139.4,372.1Z M137.0,375.3 L138.6,375.1 L138.7,376.2 L137.0,376.3Z M137.3,377.1 L138.9,377.1 L138.9,378.2 L137.3,378.2Z M139.1,391.6 L140.7,392.3 L140.2,393.5 L138.6,392.7Z M138.8,392.6 L140.4,393.4 L139.8,394.5 L138.2,393.7Z M138.2,393.5 L139.7,394.3 L139.1,395.4 L137.6,394.6Z M114.8,409.5 L115.1,410.9 L113.9,411.2 L113.7,409.7Z M108.8,411.9 L108.9,413.4 L107.6,413.5 L107.6,411.9Z M102.8,409.3 L102.6,410.9 L101.4,410.7 L101.7,409.2Z" fill="#7468b8" stroke="#7468b8" stroke-width="0.25"/>
<path d="M79.6,378.2 L77.9,378.2 L77.9,377.1 L79.6,377.2Z M76.7,378.2 L75.0,378.2 L75.0,377.0 L76.7,377.1Z M75.2,378.2 L73.5,378.2 L73.6,377.0 L75.3,377.0Z M79.7,377.3 L78.0,377.2 L78.1,376.2 L79.8,376.3Z M78.3,377.2 L76.6,377.2 L76.7,376.1 L78.3,376.2Z M75.4,377.1 L73.7,377.1 L73.8,375.9 L75.5,376.0Z M74.0,377.1 L72.3,377.1 L72.3,375.8 L74.0,375.9Z M79.9,376.4 L78.2,376.3 L78.3,375.3 L80.0,375.4Z M78.4,376.3 L76.7,376.2 L76.8,375.1 L78.5,375.3Z M77.0,376.2 L75.2,376.1 L75.3,375.0 L77.1,375.1Z M75.5,376.1 L73.8,376.0 L73.9,374.8 L75.6,375.0Z M74.0,376.0 L72.3,375.9 L72.4,374.7 L74.1,374.9Z M80.0,375.5 L78.2,375.4 L78.3,374.3 L80.1,374.6Z M78.5,375.4 L76.7,375.2 L76.8,374.1 L78.6,374.4Z M77.0,375.3 L75.2,375.1 L75.3,373.9 L77.1,374.2Z M75.5,375.1 L73.7,375.0 L73.8,373.8 L75.6,374.0Z M74.0,375.0 L72.2,374.8 L72.3,373.6 L74.1,373.8Z M78.4,374.5 L76.6,374.2 L76.8,373.1 L78.5,373.4Z M76.8,374.3 L75.1,374.0 L75.3,372.9 L77.0,373.2Z M75.3,374.1 L73.6,373.9 L73.7,372.7 L75.5,372.9Z M79.8,373.7 L78.0,373.5 L78.2,372.4 L79.9,372.7Z M78.3,373.5 L76.5,373.2 L76.7,372.1 L78.5,372.5Z M76.8,373.3 L75.1,373.0 L75.3,371.8 L77.0,372.2Z M75.3,373.0 L73.6,372.8 L73.8,371.6 L75.5,371.9Z M78.4,372.6 L76.7,372.3 L76.9,371.2 L78.6,371.5Z M77.0,372.3 L75.3,372.0 L75.5,370.8 L77.2,371.2Z M75.5,372.0 L73.9,371.7 L74.1,370.5 L75.8,370.9Z M80.1,372.0 L78.5,371.6 L78.8,370.6 L80.4,371.0Z M77.4,371.4 L75.8,371.0 L76.1,369.9 L77.7,370.3Z M76.0,371.1 L74.4,370.7 L74.7,369.6 L76.3,370.0Z M80.7,371.2 L79.1,370.8 L79.4,369.8 L80.9,370.3Z M79.3,370.9 L77.8,370.5 L78.1,369.4 L79.6,369.9Z M78.0,370.5 L76.5,370.2 L76.8,369.1 L78.3,369.5Z M76.7,370.2 L75.2,369.8 L75.5,368.7 L77.0,369.1Z M81.3,370.5 L79.7,370.0 L80.0,369.0 L81.5,369.5Z M78.7,369.7 L77.2,369.3 L77.5,368.2 L79.0,368.7Z M77.4,369.4 L75.9,368.9 L76.2,367.8 L77.7,368.3Z M81.8,369.7 L80.2,369.2 L80.6,368.3 L82.1,368.8Z M79.2,368.9 L77.6,368.4 L78.0,367.3 L79.5,367.9Z M77.9,368.5 L76.3,368.0 L76.7,366.9 L78.2,367.4Z M82.1,369.0 L80.6,368.4 L80.9,367.4 L82.5,368.1Z M79.5,368.0 L77.9,367.4 L78.3,366.4 L79.8,367.0Z M78.1,367.5 L76.5,366.9 L76.9,365.9 L78.5,366.5Z M76.8,367.0 L75.2,366.5 L75.6,365.3 L77.2,365.9Z M93.9,348.8 L93.2,347.5 L94.3,347.0 L94.9,348.4Z M93.3,347.7 L92.7,346.3 L93.8,345.8 L94.4,347.2Z M98.8,347.9 L98.4,346.3 L99.5,346.0 L99.9,347.6Z M98.5,346.6 L98.0,345.0 L99.2,344.7 L99.6,346.3Z M99.8,347.5 L99.4,346.0 L100.5,345.8 L100.9,347.3Z M101.8,347.5 L101.5,346.0 L102.7,345.8 L102.9,347.3Z M104.0,348.9 L103.7,347.3 L104.8,347.2 L105.0,348.8Z M104.5,344.6 L104.3,343.0 L105.6,342.9 L105.7,344.5Z M105.5,344.3 L105.4,342.7 L106.7,342.6 L106.7,344.3Z M106.6,345.5 L106.6,343.9 L107.8,343.9 L107.8,345.5Z M108.7,345.6 L108.7,344.0 L109.9,344.0 L109.8,345.6Z M109.7,345.8 L109.8,344.1 L111.0,344.2 L110.8,345.8Z M113.2,348.8 L113.5,347.3 L114.6,347.5 L114.3,349.0Z M114.1,349.0 L114.5,347.6 L115.5,347.8 L115.2,349.2Z M114.4,347.8 L114.7,346.4 L115.8,346.6 L115.5,348.1Z M115.3,348.2 L115.7,346.7 L116.8,347.0 L116.4,348.5Z M120.1,346.6 L120.7,345.0 L121.9,345.5 L121.2,347.0Z M120.6,348.2 L121.2,346.6 L122.3,347.1 L121.6,348.7Z M121.1,346.9 L121.8,345.3 L123.0,345.8 L122.2,347.4Z M122.1,347.3 L122.8,345.8 L124.0,346.3 L123.2,347.9Z M121.7,350.5 L122.5,349.0 L123.5,349.5 L122.7,351.0Z M122.6,350.9 L123.4,349.5 L124.4,350.0 L123.5,351.4Z M123.5,351.2 L124.3,349.9 L125.3,350.5 L124.5,351.8Z M124.2,350.1 L125.0,348.8 L126.0,349.4 L125.2,350.7Z M123.2,353.6 L124.0,352.4 L124.9,352.9 L124.0,354.2Z M124.5,351.5 L125.3,350.2 L126.3,350.9 L125.4,352.1Z M125.2,350.4 L126.0,349.1 L127.0,349.8 L126.2,351.1Z M124.8,352.8 L125.6,351.6 L126.6,352.2 L125.7,353.4Z M125.5,351.8 L126.3,350.5 L127.3,351.2 L126.4,352.4Z M124.9,354.3 L125.8,353.1 L126.7,353.7 L125.7,354.9Z M125.7,353.3 L126.5,352.1 L127.5,352.7 L126.5,353.9Z M126.4,352.3 L127.3,351.0 L128.2,351.7 L127.3,352.9Z M127.1,351.2 L128.0,350.0 L129.0,350.7 L128.1,351.9Z M127.9,350.2 L128.8,349.0 L129.8,349.7 L128.9,350.9Z M125.5,355.0 L126.5,353.8 L127.3,354.5 L126.3,355.7Z M126.3,354.0 L127.3,352.8 L128.1,353.5 L127.2,354.7Z M127.1,353.0 L128.1,351.7 L129.0,352.5 L128.0,353.7Z M125.9,356.0 L127.0,354.7 L127.8,355.4 L126.7,356.6Z M126.8,354.9 L127.8,353.7 L128.7,354.4 L127.6,355.6Z M127.7,353.9 L128.7,352.6 L129.6,353.4 L128.5,354.6Z M128.5,352.8 L129.5,351.6 L130.5,352.4 L129.4,353.6Z M126.3,356.9 L127.4,355.7 L128.2,356.4 L127.1,357.6Z M127.2,355.9 L128.3,354.6 L129.1,355.4 L128.0,356.6Z M128.1,354.8 L129.2,353.6 L130.1,354.4 L128.9,355.6Z M129.0,353.8 L130.1,352.6 L131.0,353.4 L129.9,354.6Z M127.7,356.7 L128.8,355.5 L129.6,356.3 L128.5,357.4Z M128.7,355.7 L129.8,354.5 L130.6,355.3 L129.4,356.5Z M129.6,354.7 L130.7,353.5 L131.5,354.4 L130.4,355.5Z M130.5,353.7 L131.6,352.5 L132.5,353.4 L131.4,354.5Z M127.4,358.3 L128.5,357.2 L129.3,357.9 L128.1,359.0Z M129.3,356.4 L130.4,355.3 L131.2,356.1 L130.1,357.2Z M130.2,355.5 L131.4,354.3 L132.2,355.2 L131.0,356.3Z M131.2,354.5 L132.3,353.4 L133.2,354.3 L132.0,355.4Z M128.1,358.8 L129.3,357.8 L130.0,358.5 L128.8,359.6Z M129.1,357.9 L130.2,356.9 L131.0,357.7 L129.8,358.7Z M130.0,357.0 L131.2,356.0 L132.0,356.8 L130.8,357.8Z M131.0,356.1 L132.1,355.0 L132.9,355.9 L131.8,357.0Z M132.0,355.2 L133.1,354.1 L133.9,355.1 L132.8,356.1Z M128.8,359.4 L130.0,358.4 L130.7,359.2 L129.4,360.2Z M129.8,358.5 L131.0,357.5 L131.7,358.3 L130.5,359.3Z M130.8,357.7 L132.0,356.6 L132.7,357.5 L131.5,358.5Z M131.8,356.8 L133.0,355.7 L133.8,356.6 L132.5,357.6Z M129.3,360.1 L130.6,359.1 L131.2,359.9 L129.9,360.9Z M130.4,359.3 L131.6,358.2 L132.3,359.1 L131.0,360.1Z M131.4,358.4 L132.7,357.3 L133.4,358.2 L132.1,359.2Z M132.5,357.5 L133.7,356.5 L134.5,357.4 L133.2,358.4Z M130.8,360.1 L132.1,359.1 L132.8,359.9 L131.4,360.9Z M133.1,358.3 L134.4,357.3 L135.1,358.3 L133.7,359.3Z M134.2,357.5 L135.5,356.4 L136.2,357.4 L134.9,358.4Z M130.1,361.8 L131.4,360.8 L132.0,361.6 L130.6,362.6Z M131.2,360.9 L132.6,359.9 L133.2,360.8 L131.8,361.8Z M132.4,360.1 L133.7,359.1 L134.4,360.0 L133.0,361.0Z M133.5,359.2 L134.9,358.3 L135.6,359.2 L134.2,360.2Z M134.7,358.4 L136.1,357.4 L136.8,358.4 L135.4,359.4Z M130.6,362.5 L132.0,361.5 L132.5,362.4 L131.2,363.3Z M131.8,361.7 L133.1,360.8 L133.7,361.7 L132.3,362.5Z M132.9,360.9 L134.2,360.0 L134.9,360.9 L133.5,361.8Z M134.0,360.1 L135.4,359.2 L136.0,360.2 L134.7,361.1Z M135.2,359.3 L136.5,358.4 L137.2,359.5 L135.8,360.3Z M132.5,362.3 L133.8,361.5 L134.3,362.4 L133.0,363.2Z M133.5,361.6 L134.8,360.8 L135.4,361.8 L134.1,362.6Z M134.6,360.9 L135.9,360.1 L136.6,361.1 L135.2,361.9Z M133.3,362.9 L134.5,362.2 L135.1,363.1 L133.8,363.8Z M134.3,362.3 L135.6,361.5 L136.1,362.5 L134.9,363.2Z M135.3,361.7 L136.6,360.9 L137.2,362.0 L135.9,362.7Z M136.4,361.1 L137.6,360.3 L138.2,361.4 L137.0,362.1Z M133.1,364.1 L134.3,363.4 L134.8,364.4 L133.5,365.0Z M134.1,363.5 L135.3,362.8 L135.8,363.8 L134.6,364.5Z M135.1,363.0 L136.3,362.3 L136.9,363.3 L135.6,363.9Z M137.1,361.8 L138.4,361.2 L138.9,362.3 L137.7,362.9Z M133.6,364.8 L134.9,364.2 L135.4,365.1 L134.1,365.8Z M134.7,364.3 L136.0,363.6 L136.5,364.6 L135.2,365.2Z M135.8,363.7 L137.1,363.1 L137.6,364.1 L136.3,364.7Z M133.9,365.7 L135.3,365.0 L135.8,366.0 L134.3,366.6Z M135.1,365.1 L136.5,364.5 L137.0,365.5 L135.5,366.1Z M138.7,363.5 L140.1,362.8 L140.6,363.9 L139.2,364.6Z M135.3,366.1 L136.9,365.4 L137.3,366.4 L135.7,367.1Z M139.3,364.4 L140.8,363.7 L141.3,364.9 L139.8,365.5Z M134.1,367.6 L135.8,366.9 L136.1,367.9 L134.5,368.5Z M135.5,367.0 L137.2,366.4 L137.6,367.4 L135.9,368.0Z M139.8,365.3 L141.4,364.7 L141.9,365.9 L140.2,366.5Z M134.4,368.4 L136.1,367.8 L136.4,368.8 L134.7,369.4Z M135.8,367.9 L137.5,367.3 L137.9,368.4 L136.2,368.9Z M137.3,367.4 L138.9,366.8 L139.3,367.9 L137.6,368.4Z M140.1,366.4 L141.8,365.7 L142.2,367.0 L140.5,367.5Z M137.6,368.3 L139.2,367.8 L139.5,368.9 L137.9,369.4Z M139.0,367.9 L140.6,367.3 L140.9,368.5 L139.3,369.0Z M140.3,367.4 L141.9,366.9 L142.3,368.1 L140.7,368.6Z M137.9,369.3 L139.4,368.8 L139.7,370.0 L138.2,370.3Z M135.6,370.9 L137.1,370.5 L137.3,371.5 L135.9,371.9Z M136.8,370.6 L138.2,370.2 L138.5,371.3 L137.1,371.6Z M138.0,370.3 L139.4,369.9 L139.7,371.0 L138.3,371.3Z M139.2,369.9 L140.6,369.6 L140.9,370.7 L139.5,371.1Z M140.4,369.6 L141.8,369.3 L142.1,370.5 L140.7,370.8Z M135.7,371.8 L137.1,371.5 L137.3,372.5 L135.9,372.8Z M136.8,371.5 L138.3,371.2 L138.5,372.3 L137.1,372.6Z M138.0,371.3 L139.4,370.9 L139.7,372.1 L138.2,372.3Z M135.5,372.7 L137.0,372.5 L137.2,373.5 L135.7,373.7Z M138.0,372.3 L139.5,372.0 L139.7,373.1 L138.2,373.3Z M139.2,372.0 L140.7,371.7 L140.9,372.9 L139.4,373.1Z M135.4,373.7 L136.9,373.4 L137.1,374.4 L135.5,374.6Z M136.7,373.4 L138.3,373.2 L138.4,374.3 L136.8,374.5Z M139.3,373.0 L140.9,372.8 L141.0,374.0 L139.5,374.1Z M140.6,372.8 L142.2,372.6 L142.4,373.8 L140.8,374.0Z M135.4,374.5 L137.0,374.3 L137.1,375.4 L135.5,375.5Z M136.8,374.4 L138.4,374.2 L138.5,375.2 L136.9,375.4Z M138.1,374.2 L139.8,374.0 L139.9,375.1 L138.3,375.3Z M135.6,375.4 L137.2,375.3 L137.3,376.3 L135.6,376.4Z M138.4,375.1 L140.0,375.0 L140.1,376.1 L138.5,376.2Z M139.8,375.0 L141.4,374.8 L141.5,376.0 L139.9,376.1Z M135.8,376.3 L137.4,376.2 L137.5,377.2 L135.9,377.3Z M137.2,376.2 L138.8,376.1 L138.9,377.2 L137.2,377.2Z M138.6,376.1 L140.2,376.0 L140.2,377.1 L138.6,377.2Z M139.9,376.0 L141.6,375.9 L141.6,377.1 L140.0,377.1Z M138.6,377.1 L140.2,377.0 L140.2,378.2 L138.6,378.2Z M141.3,377.0 L142.9,376.9 L142.9,378.2 L141.3,378.2Z M137.2,378.0 L138.8,378.0 L138.8,379.1 L137.2,379.1Z M138.5,378.0 L140.1,378.0 L140.0,379.2 L138.5,379.1Z M139.8,378.0 L141.4,378.0 L141.3,379.2 L139.8,379.2Z M141.1,378.0 L142.7,378.0 L142.6,379.3 L141.1,379.2Z M135.8,378.9 L137.3,379.0 L137.3,380.0 L135.7,379.9Z M137.1,379.0 L138.6,379.0 L138.6,380.1 L137.0,380.0Z M139.7,379.0 L141.2,379.1 L141.2,380.3 L139.6,380.2Z M141.0,379.1 L142.5,379.1 L142.4,380.4 L140.9,380.3Z M135.7,379.8 L137.2,379.9 L137.2,380.9 L135.6,380.8Z M141.0,380.1 L142.5,380.2 L142.4,381.5 L140.9,381.3Z M135.7,380.7 L137.3,380.8 L137.2,381.9 L135.6,381.7Z M138.4,380.9 L140.0,381.1 L139.9,382.2 L138.3,382.0Z M141.1,381.2 L142.7,381.3 L142.6,382.6 L141.0,382.4Z M135.9,381.6 L137.5,381.8 L137.4,382.9 L135.8,382.6Z M137.3,381.8 L138.9,382.0 L138.7,383.1 L137.1,382.8Z M140.0,382.1 L141.6,382.3 L141.5,383.5 L139.9,383.3Z M141.4,382.3 L143.0,382.5 L142.8,383.7 L141.2,383.5Z M136.1,382.5 L137.7,382.8 L137.5,383.9 L136.0,383.5Z M138.8,383.0 L140.4,383.2 L140.2,384.4 L138.7,384.1Z M140.2,383.2 L141.8,383.4 L141.6,384.6 L140.0,384.3Z M138.8,384.0 L140.4,384.3 L140.1,385.4 L138.6,385.1Z M140.1,384.2 L141.7,384.5 L141.4,385.7 L139.9,385.4Z M141.5,384.5 L143.0,384.8 L142.8,386.0 L141.2,385.7Z M136.0,384.4 L137.5,384.7 L137.3,385.8 L135.8,385.4Z M138.5,384.9 L140.0,385.3 L139.8,386.4 L138.3,386.0Z M139.8,385.2 L141.3,385.5 L141.0,386.7 L139.5,386.3Z M136.8,385.5 L138.3,385.9 L138.0,387.0 L136.5,386.5Z M138.0,385.8 L139.5,386.2 L139.2,387.3 L137.7,386.9Z M139.2,386.1 L140.7,386.5 L140.4,387.7 L138.9,387.2Z M135.1,386.0 L136.5,386.4 L136.2,387.4 L134.8,387.0Z M136.3,386.3 L137.7,386.8 L137.4,387.8 L136.0,387.3Z M137.5,386.7 L138.9,387.1 L138.6,388.2 L137.2,387.7Z M134.6,386.8 L136.1,387.3 L135.7,388.3 L134.3,387.7Z M135.8,387.2 L137.3,387.7 L136.9,388.7 L135.5,388.2Z M138.3,388.0 L139.7,388.4 L139.3,389.6 L137.9,389.0Z M134.3,387.6 L135.8,388.1 L135.4,389.1 L133.9,388.5Z M135.5,388.1 L137.0,388.6 L136.6,389.6 L135.2,389.0Z M136.8,388.5 L138.3,389.0 L137.9,390.1 L136.4,389.5Z M138.1,389.0 L139.6,389.5 L139.1,390.6 L137.7,390.0Z M139.3,389.4 L140.8,390.0 L140.4,391.1 L138.9,390.5Z M134.0,388.5 L135.6,389.1 L135.1,390.0 L133.6,389.4Z M135.3,389.0 L136.9,389.6 L136.4,390.6 L134.9,389.9Z M136.6,389.5 L138.2,390.1 L137.7,391.2 L136.2,390.5Z M138.0,390.0 L139.5,390.6 L139.0,391.7 L137.5,391.1Z M139.3,390.5 L140.8,391.1 L140.3,392.3 L138.8,391.6Z M133.7,389.3 L135.3,390.0 L134.9,390.9 L133.3,390.2Z M135.1,389.9 L136.6,390.6 L136.2,391.6 L134.6,390.8Z M136.4,390.5 L138.0,391.1 L137.5,392.2 L136.0,391.5Z M137.8,391.0 L139.4,391.7 L138.9,392.8 L137.3,392.1Z M133.3,390.1 L134.9,390.8 L134.4,391.8 L132.9,391.0Z M134.7,390.7 L136.3,391.5 L135.8,392.5 L134.2,391.7Z M136.0,391.4 L137.6,392.1 L137.1,393.2 L135.6,392.4Z M137.4,392.0 L139.0,392.8 L138.5,393.9 L136.9,393.0Z M132.9,390.9 L134.4,391.6 L133.9,392.6 L132.4,391.7Z M136.8,392.9 L138.4,393.7 L137.8,394.7 L136.3,393.9Z M132.4,391.6 L133.9,392.4 L133.4,393.3 L131.9,392.5Z M134.9,393.0 L136.4,393.8 L135.8,394.8 L134.4,393.9Z M136.1,393.7 L137.6,394.5 L137.0,395.5 L135.6,394.7Z M134.4,393.8 L135.7,394.6 L135.1,395.6 L133.8,394.7Z M135.5,394.5 L136.8,395.2 L136.2,396.3 L134.9,395.4Z M131.8,393.4 L133.1,394.1 L132.5,395.0 L131.3,394.2Z M133.9,394.7 L135.1,395.4 L134.5,396.4 L133.3,395.6Z M134.9,395.3 L136.2,396.1 L135.5,397.1 L134.3,396.3Z M133.5,395.5 L134.7,396.3 L134.0,397.3 L132.8,396.4Z M134.4,396.2 L135.6,397.0 L134.9,398.0 L133.8,397.1Z M132.1,395.7 L133.2,396.6 L132.5,397.5 L131.4,396.6Z M133.0,396.4 L134.2,397.3 L133.5,398.2 L132.4,397.3Z M134.0,397.1 L135.1,398.0 L134.4,398.9 L133.3,398.0Z M130.4,395.7 L131.6,396.6 L131.0,397.4 L129.8,396.5Z M132.4,397.2 L133.6,398.1 L132.9,399.0 L131.7,398.1Z M133.4,398.0 L134.6,398.9 L133.9,399.8 L132.7,398.9Z M129.6,396.2 L130.9,397.2 L130.2,398.0 L129.0,396.9Z M130.7,397.0 L131.9,398.0 L131.2,398.9 L130.0,397.8Z M131.7,397.9 L132.9,398.9 L132.2,399.8 L131.0,398.7Z M132.8,398.7 L134.0,399.8 L133.2,400.7 L132.0,399.6Z M133.8,399.6 L135.0,400.6 L134.2,401.6 L133.0,400.5Z M128.8,396.7 L130.1,397.8 L129.4,398.5 L128.2,397.4Z M129.9,397.6 L131.1,398.7 L130.4,399.5 L129.2,398.4Z M131.0,398.5 L132.2,399.6 L131.4,400.5 L130.2,399.3Z M132.0,399.4 L133.2,400.5 L132.4,401.4 L131.2,400.3Z M133.1,400.4 L134.3,401.5 L133.5,402.4 L132.3,401.2Z M128.1,397.2 L129.4,398.4 L128.6,399.1 L127.5,397.9Z M129.2,398.2 L130.4,399.3 L129.6,400.1 L128.5,398.9Z M130.2,399.2 L131.4,400.3 L130.6,401.1 L129.4,399.9Z M131.2,400.1 L132.5,401.3 L131.6,402.1 L130.4,400.9Z M132.3,401.1 L133.5,402.2 L132.6,403.1 L131.4,401.9Z M128.5,398.9 L129.7,400.0 L128.9,400.8 L127.8,399.6Z M129.5,399.8 L130.7,401.0 L129.9,401.8 L128.7,400.6Z M130.5,400.8 L131.7,402.0 L130.8,402.8 L129.7,401.6Z M131.5,401.8 L132.6,402.9 L131.7,403.8 L130.6,402.6Z M128.0,399.6 L129.0,400.7 L128.2,401.5 L127.2,400.3Z M128.9,400.6 L130.0,401.7 L129.1,402.5 L128.1,401.3Z M129.8,401.5 L130.9,402.7 L130.0,403.5 L128.9,402.3Z M126.4,399.3 L127.5,400.4 L126.7,401.1 L125.7,399.9Z M127.3,400.2 L128.3,401.4 L127.5,402.1 L126.5,400.9Z M129.1,402.2 L130.1,403.4 L129.2,404.2 L128.2,403.0Z M129.9,403.2 L131.0,404.4 L130.0,405.2 L129.0,404.0Z M125.7,399.8 L126.7,401.0 L125.9,401.7 L124.9,400.4Z M126.6,400.8 L127.6,402.0 L126.7,402.7 L125.8,401.5Z M128.3,402.9 L129.3,404.1 L128.4,404.8 L127.4,403.6Z M129.1,403.9 L130.1,405.1 L129.2,405.9 L128.2,404.6Z M126.6,402.4 L127.6,403.7 L126.7,404.4 L125.8,403.1Z M127.5,403.5 L128.5,404.8 L127.5,405.5 L126.6,404.2Z M125.0,401.8 L126.0,403.2 L125.1,403.8 L124.2,402.4Z M125.8,403.0 L126.8,404.3 L125.9,405.0 L125.0,403.6Z M126.7,404.1 L127.7,405.5 L126.7,406.2 L125.8,404.8Z M127.5,405.3 L128.5,406.6 L127.5,407.3 L126.5,405.9Z M125.1,403.6 L126.1,405.0 L125.1,405.6 L124.2,404.2Z M125.9,404.8 L126.9,406.2 L125.9,406.8 L125.0,405.4Z M126.7,406.0 L127.7,407.3 L126.6,408.0 L125.7,406.6Z M124.5,404.4 L125.3,405.8 L124.3,406.4 L123.5,405.0Z M125.2,405.6 L126.1,406.9 L125.0,407.5 L124.2,406.2Z M123.8,405.2 L124.6,406.5 L123.6,407.1 L122.8,405.8Z M124.5,406.3 L125.2,407.6 L124.2,408.2 L123.5,406.9Z M125.1,407.4 L125.9,408.7 L124.8,409.4 L124.1,408.0Z M121.9,403.8 L122.6,405.0 L121.6,405.6 L121.0,404.2Z M122.5,404.8 L123.2,406.1 L122.2,406.7 L121.5,405.3Z M123.1,405.9 L123.8,407.2 L122.7,407.7 L122.1,406.4Z M123.6,407.0 L124.4,408.3 L123.3,408.8 L122.6,407.5Z M124.2,408.0 L125.0,409.3 L123.8,409.9 L123.2,408.6Z M121.1,404.2 L121.7,405.5 L120.7,406.0 L120.1,404.6Z M121.6,405.3 L122.3,406.6 L121.3,407.1 L120.6,405.7Z M122.7,407.5 L123.4,408.8 L122.3,409.3 L121.7,408.0Z M120.1,404.3 L120.7,405.7 L119.8,406.1 L119.1,404.7Z M120.6,405.4 L121.3,406.8 L120.3,407.3 L119.7,405.9Z M121.2,406.6 L121.8,408.0 L120.8,408.5 L120.2,407.1Z M121.7,407.8 L122.4,409.2 L121.3,409.7 L120.7,408.3Z M119.1,404.2 L119.7,405.7 L118.7,406.1 L118.1,404.6Z M119.6,405.5 L120.3,407.0 L119.2,407.4 L118.6,405.9Z M120.2,406.7 L120.8,408.3 L119.7,408.7 L119.1,407.2Z M121.3,409.3 L121.9,410.8 L120.8,411.3 L120.2,409.8Z M118.1,404.2 L118.7,405.8 L117.7,406.2 L117.2,404.6Z M118.6,405.6 L119.3,407.2 L118.2,407.6 L117.7,405.9Z M120.3,409.6 L120.9,411.2 L119.7,411.7 L119.1,410.1Z M117.3,404.5 L117.8,406.1 L116.8,406.4 L116.3,404.8Z M117.8,405.9 L118.3,407.5 L117.3,407.8 L116.8,406.2Z M119.3,410.0 L119.9,411.6 L118.7,412.1 L118.1,410.4Z M116.9,406.3 L117.5,407.9 L116.4,408.2 L115.9,406.6Z M117.4,407.7 L117.9,409.3 L116.8,409.6 L116.3,408.0Z M117.8,409.0 L118.3,410.6 L117.2,411.0 L116.7,409.4Z M118.3,410.4 L118.8,412.0 L117.6,412.3 L117.1,410.7Z M116.1,406.8 L116.5,408.3 L115.5,408.6 L115.1,407.1Z M116.5,408.1 L116.9,409.6 L115.8,409.9 L115.4,408.4Z M116.8,409.4 L117.3,410.9 L116.1,411.2 L115.7,409.7Z M117.2,410.6 L117.7,412.2 L116.5,412.5 L116.1,411.0Z M115.5,408.3 L115.9,409.8 L114.8,410.0 L114.4,408.5Z M115.8,409.5 L116.2,411.0 L115.0,411.3 L114.7,409.8Z M116.1,410.7 L116.5,412.2 L115.3,412.5 L115.0,411.0Z M114.5,408.3 L114.8,409.7 L113.7,410.0 L113.4,408.5Z M115.1,410.7 L115.4,412.1 L114.2,412.4 L113.9,410.9Z M113.5,408.2 L113.8,409.6 L112.7,409.8 L112.4,408.3Z M113.7,409.4 L114.0,410.9 L112.9,411.1 L112.6,409.6Z M112.3,406.8 L112.5,408.3 L111.5,408.5 L111.3,406.9Z M111.4,406.8 L111.6,408.4 L110.5,408.5 L110.4,406.9Z M111.7,409.5 L111.9,411.1 L110.8,411.2 L110.6,409.6Z M111.9,410.8 L112.1,412.4 L110.9,412.5 L110.7,410.9Z M110.4,405.8 L110.5,407.4 L109.5,407.4 L109.4,405.8Z M110.5,407.1 L110.7,408.7 L109.6,408.8 L109.5,407.2Z M110.8,409.8 L110.9,411.4 L109.7,411.5 L109.6,409.9Z M110.9,411.1 L111.0,412.7 L109.8,412.8 L109.7,411.2Z M109.6,407.5 L109.7,409.1 L108.6,409.1 L108.6,407.5Z M109.7,408.8 L109.8,410.4 L108.7,410.5 L108.6,408.9Z M109.8,410.2 L109.9,411.8 L108.7,411.8 L108.6,410.2Z M109.9,411.5 L110.0,413.1 L108.7,413.2 L108.7,411.6Z M108.6,406.5 L108.7,408.1 L107.6,408.1 L107.6,406.5Z M108.7,407.8 L108.7,409.4 L107.6,409.4 L107.6,407.9Z M108.7,409.2 L108.8,410.8 L107.6,410.8 L107.6,409.2Z M108.8,410.5 L108.8,412.1 L107.6,412.1 L107.6,410.5Z M107.8,406.7 L107.8,408.2 L106.7,408.2 L106.7,406.6Z M107.8,408.0 L107.8,409.6 L106.6,409.6 L106.7,408.0Z M107.8,410.7 L107.8,412.3 L106.6,412.3 L106.6,410.7Z M106.9,406.6 L106.8,408.2 L105.7,408.2 L105.9,406.6Z M106.8,408.0 L106.8,409.6 L105.7,409.6 L105.8,407.9Z M106.8,409.4 L106.7,411.0 L105.6,410.9 L105.7,409.3Z M105.9,407.9 L105.8,409.6 L104.7,409.5 L104.8,407.8Z M105.8,409.3 L105.7,411.0 L104.5,410.9 L104.7,409.2Z M105.7,410.7 L105.6,412.4 L104.4,412.3 L104.6,410.6Z M105.1,406.5 L104.9,408.2 L103.9,408.0 L104.1,406.4Z M104.9,407.9 L104.8,409.6 L103.7,409.4 L103.9,407.8Z M104.8,409.3 L104.7,411.0 L103.5,410.8 L103.7,409.2Z M104.7,410.7 L104.5,412.4 L103.3,412.2 L103.5,410.6Z M104.2,406.6 L104.0,408.2 L102.9,408.1 L103.2,406.4Z M104.0,408.0 L103.8,409.6 L102.7,409.4 L102.9,407.8Z M103.8,409.3 L103.6,411.0 L102.5,410.8 L102.7,409.2Z M103.6,410.7 L103.4,412.4 L102.2,412.2 L102.5,410.6Z M103.2,406.7 L103.0,408.3 L101.9,408.1 L102.2,406.5Z M103.0,408.0 L102.8,409.6 L101.7,409.4 L102.0,407.8Z M102.6,410.7 L102.4,412.2 L101.2,412.0 L101.5,410.5Z M102.4,412.0 L102.2,413.6 L100.9,413.4 L101.2,411.8Z M102.3,406.7 L102.0,408.2 L101.0,408.0 L101.3,406.5Z M102.1,407.9 L101.8,409.5 L100.7,409.2 L101.0,407.7Z M101.8,409.2 L101.5,410.7 L100.4,410.5 L100.7,409.0Z M101.6,410.5 L101.3,412.0 L100.1,411.8 L100.4,410.2Z M101.3,411.8 L101.1,413.3 L99.8,413.0 L100.2,411.5Z M101.4,406.5 L101.1,407.9 L100.0,407.7 L100.4,406.2Z M100.6,410.1 L100.3,411.6 L99.1,411.3 L99.5,409.9Z M100.3,411.4 L100.0,412.8 L98.8,412.5 L99.2,411.1Z M100.3,407.3 L99.9,408.7 L98.8,408.4 L99.2,407.0Z M99.7,409.7 L99.3,411.1 L98.1,410.8 L98.5,409.4Z M99.4,410.9 L99.0,412.3 L97.8,412.0 L98.2,410.6Z M99.4,406.8 L99.0,408.2 L98.0,407.9 L98.4,406.4Z M99.1,408.0 L98.7,409.5 L97.6,409.1 L98.0,407.7Z M98.7,409.2 L98.3,410.7 L97.2,410.3 L97.6,408.9Z M99.0,405.0 L98.5,406.5 L97.5,406.2 L98.1,404.7Z M98.6,406.3 L98.1,407.8 L97.1,407.4 L97.6,406.0Z M98.2,407.6 L97.7,409.1 L96.6,408.7 L97.2,407.2Z M97.8,408.8 L97.3,410.3 L96.2,409.9 L96.7,408.5Z M98.2,404.6 L97.7,406.1 L96.7,405.8 L97.3,404.3Z M97.8,405.9 L97.2,407.4 L96.2,407.1 L96.8,405.5Z M97.3,407.2 L96.7,408.7 L95.7,408.3 L96.3,406.8Z M96.8,408.5 L96.3,410.0 L95.1,409.6 L95.8,408.1Z M96.9,405.5 L96.3,407.1 L95.3,406.7 L95.9,405.1Z M95.3,409.5 L94.7,411.1 L93.6,410.6 L94.2,409.0Z M96.1,405.1 L95.4,406.7 L94.4,406.2 L95.1,404.7Z M95.5,406.4 L94.8,408.0 L93.8,407.5 L94.5,406.0Z M94.9,407.8 L94.3,409.3 L93.2,408.8 L93.9,407.3Z M94.4,409.1 L93.7,410.6 L92.6,410.1 L93.3,408.6Z M95.9,403.3 L95.2,404.8 L94.3,404.4 L95.0,402.9Z M95.3,404.6 L94.6,406.1 L93.6,405.6 L94.4,404.1Z M94.7,405.9 L94.0,407.4 L92.9,406.9 L93.7,405.4Z M93.5,408.5 L92.8,410.0 L91.6,409.5 L92.4,408.0Z M94.5,404.1 L93.8,405.5 L92.8,405.0 L93.6,403.6Z M93.9,405.3 L93.2,406.8 L92.1,406.3 L92.9,404.8Z M93.3,406.6 L92.5,408.0 L91.5,407.5 L92.3,406.0Z M93.7,403.6 L93.0,405.0 L92.0,404.5 L92.8,403.1Z M93.1,404.8 L92.3,406.2 L91.3,405.7 L92.1,404.3Z M93.5,402.3 L92.7,403.6 L91.8,403.0 L92.6,401.8Z M92.8,403.4 L92.0,404.7 L91.1,404.1 L91.9,402.8Z M92.2,404.5 L91.4,405.8 L90.4,405.2 L91.2,403.9Z M91.5,405.6 L90.7,406.9 L89.7,406.3 L90.6,405.0Z M92.5,402.2 L91.7,403.4 L90.8,402.8 L91.6,401.6Z M91.8,403.2 L91.0,404.5 L90.1,403.9 L91.0,402.6Z M91.2,404.3 L90.4,405.5 L89.4,404.9 L90.3,403.7Z M90.5,405.3 L89.7,406.6 L88.7,405.9 L89.6,404.7Z M91.5,402.0 L90.7,403.2 L89.8,402.6 L90.7,401.4Z M90.8,403.0 L90.0,404.2 L89.1,403.6 L90.0,402.4Z M88.8,406.1 L88.0,407.3 L86.9,406.6 L87.8,405.4Z M90.7,401.6 L89.8,402.9 L88.9,402.2 L89.8,401.0Z M89.9,402.6 L89.1,403.9 L88.2,403.2 L89.1,402.0Z M87.8,405.7 L86.9,406.9 L85.9,406.1 L86.8,404.9Z M90.0,401.0 L89.1,402.2 L88.2,401.6 L89.2,400.4Z M89.2,402.0 L88.3,403.2 L87.4,402.5 L88.4,401.4Z M88.4,403.1 L87.5,404.3 L86.6,403.5 L87.6,402.4Z M87.6,404.1 L86.7,405.3 L85.7,404.5 L86.7,403.3Z M86.8,405.1 L85.9,406.3 L84.9,405.5 L85.9,404.3Z M89.5,400.2 L88.5,401.4 L87.7,400.7 L88.7,399.5Z M88.6,401.2 L87.6,402.5 L86.8,401.7 L87.8,400.5Z M87.8,402.3 L86.8,403.5 L85.9,402.7 L86.9,401.5Z M86.9,403.3 L85.9,404.5 L85.0,403.7 L86.1,402.6Z M86.1,404.3 L85.1,405.6 L84.1,404.8 L85.2,403.6Z M89.0,399.4 L88.0,400.6 L87.2,399.9 L88.3,398.7Z M88.1,400.4 L87.0,401.6 L86.2,400.9 L87.3,399.7Z M87.2,401.4 L86.1,402.7 L85.3,401.9 L86.4,400.7Z M86.3,402.5 L85.2,403.7 L84.3,402.9 L85.5,401.7Z M88.5,398.7 L87.4,399.9 L86.6,399.1 L87.7,398.0Z M87.5,399.7 L86.4,400.9 L85.6,400.1 L86.8,398.9Z M86.6,400.7 L85.5,401.9 L84.6,401.1 L85.8,399.9Z M85.6,401.7 L84.5,402.9 L83.7,402.0 L84.8,400.9Z M84.7,402.7 L83.6,403.9 L82.7,403.0 L83.9,401.9Z M87.8,398.1 L86.6,399.3 L85.9,398.5 L87.1,397.4Z M85.8,400.0 L84.7,401.2 L83.9,400.4 L85.1,399.3Z M84.9,401.0 L83.8,402.1 L82.9,401.3 L84.1,400.2Z M83.9,402.0 L82.8,403.1 L81.9,402.2 L83.1,401.1Z M87.0,397.6 L85.8,398.7 L85.1,397.9 L86.3,396.9Z M86.0,398.6 L84.8,399.7 L84.1,398.8 L85.3,397.8Z M85.0,399.5 L83.9,400.6 L83.1,399.7 L84.3,398.7Z M83.1,401.3 L81.9,402.4 L81.0,401.5 L82.2,400.4Z M86.3,397.1 L85.0,398.2 L84.4,397.3 L85.6,396.3Z M85.2,398.0 L84.0,399.1 L83.3,398.2 L84.5,397.2Z M84.2,398.9 L83.0,400.0 L82.2,399.1 L83.5,398.0Z M85.7,396.4 L84.4,397.4 L83.8,396.6 L85.1,395.6Z M84.6,397.3 L83.4,398.3 L82.7,397.4 L84.0,396.4Z M83.5,398.2 L82.3,399.2 L81.5,398.3 L82.9,397.3Z M82.5,399.1 L81.2,400.1 L80.4,399.2 L81.7,398.2Z M81.4,400.0 L80.1,401.0 L79.3,400.0 L80.6,399.0Z M84.2,396.4 L82.8,397.5 L82.2,396.6 L83.6,395.6Z M83.0,397.3 L81.7,398.4 L81.0,397.4 L82.4,396.4Z M83.8,395.5 L82.4,396.5 L81.8,395.6 L83.2,394.7Z M82.6,396.4 L81.3,397.4 L80.6,396.4 L82.0,395.5Z M80.3,398.1 L78.9,399.1 L78.2,398.1 L79.6,397.1Z M84.5,393.9 L83.2,394.9 L82.6,394.0 L84.0,393.1Z M83.4,394.7 L82.0,395.6 L81.4,394.7 L82.8,393.8Z M82.2,395.5 L80.8,396.4 L80.2,395.5 L81.6,394.6Z M81.0,396.3 L79.7,397.2 L79.0,396.2 L80.4,395.3Z M80.6,395.4 L79.2,396.2 L78.6,395.2 L80.0,394.4Z M81.3,393.8 L80.0,394.6 L79.4,393.6 L80.8,392.8Z M80.2,394.4 L78.8,395.3 L78.2,394.2 L79.6,393.5Z M79.0,395.1 L77.7,395.9 L77.1,394.9 L78.5,394.1Z M82.9,391.8 L81.6,392.5 L81.1,391.6 L82.5,390.9Z M80.7,393.0 L79.3,393.8 L78.8,392.8 L80.2,392.1Z M79.6,393.6 L78.2,394.4 L77.7,393.3 L79.0,392.6Z M78.4,394.3 L77.1,395.0 L76.5,393.9 L77.9,393.2Z M82.5,391.0 L81.1,391.7 L80.6,390.8 L82.0,390.1Z M81.3,391.6 L79.9,392.3 L79.4,391.3 L80.9,390.7Z M80.1,392.2 L78.8,392.9 L78.2,391.9 L79.7,391.2Z M79.0,392.8 L77.6,393.5 L77.1,392.4 L78.5,391.8Z M77.8,393.4 L76.4,394.1 L75.9,393.0 L77.3,392.3Z M82.3,390.1 L80.8,390.8 L80.4,389.9 L81.9,389.2Z M78.5,391.9 L77.0,392.6 L76.5,391.5 L78.0,390.9Z M77.2,392.5 L75.7,393.2 L75.2,392.1 L76.7,391.4Z M82.3,388.2 L80.5,388.9 L80.2,387.9 L81.9,387.3Z M80.8,388.8 L79.0,389.5 L78.7,388.5 L80.4,387.9Z M79.3,389.4 L77.5,390.1 L77.1,389.0 L78.9,388.4Z M80.5,388.0 L78.8,388.6 L78.4,387.6 L80.2,387.0Z M79.0,388.5 L77.2,389.1 L76.9,388.0 L78.6,387.5Z M77.5,389.0 L75.7,389.7 L75.3,388.5 L77.1,388.0Z M81.6,386.6 L79.9,387.2 L79.6,386.2 L81.3,385.7Z M80.1,387.1 L78.4,387.7 L78.1,386.6 L79.8,386.1Z M77.2,388.1 L75.5,388.6 L75.2,387.5 L76.9,387.0Z M75.8,388.6 L74.1,389.1 L73.7,387.9 L75.4,387.4Z M81.1,385.9 L79.5,386.4 L79.2,385.4 L80.8,385.0Z M79.7,386.3 L78.1,386.8 L77.8,385.7 L79.4,385.3Z M78.3,386.7 L76.7,387.2 L76.4,386.1 L78.1,385.6Z M77.0,387.1 L75.4,387.6 L75.1,386.4 L76.7,386.0Z M75.6,387.5 L74.0,388.0 L73.7,386.8 L75.3,386.3Z M80.7,385.1 L79.2,385.5 L78.9,384.5 L80.5,384.1Z M79.4,385.4 L77.9,385.8 L77.6,384.8 L79.2,384.4Z M78.1,385.8 L76.6,386.2 L76.3,385.0 L77.9,384.7Z M76.8,386.1 L75.3,386.5 L75.0,385.3 L76.6,385.0Z M75.5,386.4 L74.0,386.8 L73.7,385.6 L75.3,385.3Z M80.5,384.2 L79.0,384.6 L78.8,383.6 L80.3,383.3Z M79.3,384.5 L77.7,384.9 L77.5,383.8 L79.1,383.5Z M78.0,384.8 L76.5,385.1 L76.2,384.0 L77.8,383.7Z M76.7,385.1 L75.2,385.4 L74.9,384.3 L76.5,384.0Z M75.4,385.4 L73.9,385.7 L73.6,384.5 L75.2,384.2Z M80.6,383.3 L79.0,383.6 L78.8,382.6 L80.4,382.4Z M79.2,383.6 L77.6,383.9 L77.4,382.8 L79.0,382.6Z M77.9,383.9 L76.3,384.2 L76.1,383.0 L77.7,382.8Z M75.2,384.4 L73.6,384.7 L73.4,383.5 L75.0,383.2Z M80.6,382.5 L78.9,382.7 L78.7,381.7 L80.4,381.5Z M77.7,382.9 L76.0,383.2 L75.9,382.1 L77.6,381.8Z M74.8,383.4 L73.1,383.6 L73.0,382.4 L74.7,382.2Z M80.4,381.6 L78.7,381.8 L78.6,380.8 L80.3,380.6Z M78.9,381.8 L77.2,382.0 L77.0,380.9 L78.8,380.8Z M77.4,382.0 L75.6,382.2 L75.5,381.1 L77.3,380.9Z M75.9,382.2 L74.1,382.4 L74.0,381.2 L75.8,381.1Z M74.4,382.4 L72.6,382.6 L72.5,381.4 L74.3,381.2Z M78.6,380.9 L76.8,381.1 L76.7,380.0 L78.5,379.9Z M77.1,381.1 L75.3,381.2 L75.2,380.1 L77.0,380.0Z M75.5,381.2 L73.7,381.4 L73.6,380.2 L75.4,380.1Z M78.3,380.0 L76.5,380.1 L76.5,379.0 L78.2,379.0Z M76.8,380.1 L75.0,380.2 L74.9,379.1 L76.7,379.0Z M75.2,380.2 L73.5,380.3 L73.4,379.1 L75.2,379.1Z M73.7,380.3 L71.9,380.4 L71.9,379.2 L73.6,379.1Z M79.6,379.0 L77.9,379.1 L77.8,378.0 L79.6,378.0Z M78.1,379.1 L76.4,379.1 L76.4,378.0 L78.1,378.0Z M76.6,379.1 L74.9,379.2 L74.9,378.0 L76.6,378.0Z M75.1,379.2 L73.4,379.2 L73.4,378.0 L75.1,378.0Z M73.7,379.2 L71.9,379.3 L71.9,378.0 L73.6,378.0Z" fill="#5a4ea6" stroke="#5a4ea6" stroke-width="0.25"/>
<path d="M73.8,373.9 L72.1,373.7 L72.2,372.4 L74.0,372.7Z M73.8,372.8 L72.1,372.5 L72.3,371.3 L74.0,371.6Z M79.8,372.8 L78.1,372.5 L78.4,371.5 L80.0,371.9Z M78.8,371.7 L77.2,371.3 L77.4,370.3 L79.0,370.7Z M74.7,370.8 L73.1,370.4 L73.4,369.2 L75.0,369.6Z M75.4,369.9 L73.9,369.5 L74.2,368.3 L75.7,368.7Z M80.5,369.3 L78.9,368.8 L79.3,367.8 L80.8,368.4Z M76.6,368.1 L75.0,367.6 L75.4,366.4 L76.9,367.0Z M80.8,368.5 L79.2,367.9 L79.6,366.9 L81.2,367.5Z M94.9,351.1 L94.3,349.7 L95.3,349.3 L95.9,350.7Z M94.4,350.0 L93.7,348.6 L94.8,348.1 L95.4,349.5Z M94.3,347.2 L93.6,345.7 L94.8,345.3 L95.4,346.8Z M97.5,347.0 L97.0,345.4 L98.2,345.1 L98.6,346.7Z M99.5,346.3 L99.1,344.8 L100.3,344.5 L100.6,346.0Z M103.2,350.2 L103.0,348.7 L104.0,348.5 L104.2,350.1Z M103.0,348.9 L102.8,347.3 L103.9,347.2 L104.1,348.8Z M104.9,348.7 L104.7,347.1 L105.8,347.0 L105.9,348.6Z M105.9,349.8 L105.8,348.1 L106.8,348.1 L106.9,349.7Z M107.6,346.8 L107.6,345.2 L108.8,345.2 L108.7,346.8Z M107.6,345.5 L107.6,343.9 L108.8,343.9 L108.8,345.5Z M109.6,347.1 L109.7,345.5 L110.8,345.6 L110.7,347.2Z M111.2,350.0 L111.4,348.4 L112.4,348.6 L112.2,350.2Z M112.5,347.4 L112.7,345.8 L113.9,346.0 L113.6,347.6Z M113.0,350.0 L113.3,348.5 L114.3,348.7 L114.0,350.2Z M113.5,347.5 L113.7,346.0 L114.9,346.3 L114.5,347.7Z M113.7,346.3 L114.0,344.8 L115.2,345.0 L114.8,346.5Z M116.3,351.3 L116.8,349.8 L117.8,350.2 L117.3,351.7Z M120.9,350.0 L121.6,348.4 L122.6,348.9 L121.9,350.5Z M121.5,348.6 L122.2,347.1 L123.3,347.6 L122.5,349.2Z M122.2,353.5 L123.0,352.2 L123.9,352.7 L123.0,354.0Z M122.8,352.4 L123.6,351.0 L124.6,351.6 L123.7,352.9Z M123.8,352.6 L124.6,351.3 L125.6,351.9 L124.7,353.2Z M126.2,350.8 L127.0,349.5 L128.0,350.2 L127.2,351.4Z M126.9,349.7 L127.7,348.5 L128.8,349.2 L127.9,350.4Z M131.4,363.0 L132.7,362.2 L133.2,363.1 L131.9,363.9Z M136.1,362.4 L137.3,361.7 L137.9,362.8 L136.6,363.4Z M136.8,363.2 L138.1,362.5 L138.7,363.6 L137.4,364.2Z M137.9,362.6 L139.2,362.0 L139.8,363.1 L138.4,363.7Z M136.9,366.5 L138.6,365.8 L139.0,366.9 L137.3,367.5Z M138.4,365.9 L140.0,365.2 L140.5,366.4 L138.8,367.0Z M138.7,366.9 L140.4,366.3 L140.8,367.4 L139.1,368.0Z M134.9,369.2 L136.5,368.7 L136.8,369.7 L135.1,370.2Z M136.2,368.8 L137.8,368.2 L138.2,369.3 L136.5,369.8Z M136.6,369.6 L138.1,369.2 L138.4,370.3 L136.9,370.7Z M140.4,371.8 L141.9,371.5 L142.1,372.7 L140.6,372.9Z M138.0,373.2 L139.6,373.0 L139.7,374.1 L138.2,374.3Z M136.0,377.2 L137.5,377.1 L137.6,378.2 L136.0,378.2Z M139.9,377.0 L141.5,377.0 L141.5,378.2 L140.0,378.2Z M135.9,378.0 L137.5,378.0 L137.5,379.1 L135.9,379.0Z M138.4,379.0 L139.9,379.0 L139.9,380.2 L138.3,380.1Z M138.3,380.0 L139.9,380.1 L139.8,381.2 L138.2,381.0Z M139.6,380.0 L141.2,380.1 L141.1,381.3 L139.5,381.2Z M137.1,380.8 L138.7,381.0 L138.5,382.1 L136.9,381.9Z M138.6,381.9 L140.3,382.1 L140.1,383.3 L138.5,383.0Z M137.5,383.7 L139.1,384.0 L138.8,385.1 L137.3,384.8Z M137.3,384.6 L138.8,385.0 L138.5,386.1 L137.0,385.7Z M141.0,385.5 L142.5,385.8 L142.2,387.0 L140.8,386.7Z M135.6,385.2 L137.1,385.6 L136.8,386.6 L135.3,386.2Z M140.5,386.4 L141.9,386.8 L141.6,388.0 L140.1,387.6Z M134.2,391.5 L135.7,392.3 L135.2,393.3 L133.7,392.5Z M137.4,394.3 L138.8,395.1 L138.2,396.2 L136.8,395.4Z M132.1,392.5 L133.4,393.3 L132.9,394.2 L131.6,393.3Z M131.5,394.2 L132.7,395.0 L132.1,395.9 L131.0,395.1Z M131.4,396.4 L132.6,397.4 L131.9,398.2 L130.8,397.3Z M127.6,397.9 L128.7,399.0 L128.0,399.8 L126.9,398.6Z M128.2,401.2 L129.2,402.4 L128.3,403.2 L127.3,401.9Z M124.9,400.2 L125.9,401.5 L125.1,402.1 L124.1,400.8Z M125.8,401.3 L126.8,402.6 L125.9,403.3 L124.9,401.9Z M128.3,404.6 L129.3,405.9 L128.3,406.6 L127.4,405.3Z M123.7,403.3 L124.6,404.6 L123.7,405.2 L122.8,403.8Z M122.5,403.0 L123.3,404.3 L122.3,404.9 L121.6,403.5Z M123.2,404.1 L123.9,405.4 L123.0,406.0 L122.2,404.6Z M122.2,406.4 L122.8,407.7 L121.8,408.2 L121.2,406.9Z M122.3,409.0 L123.0,410.4 L121.8,410.9 L121.2,409.5Z M120.7,408.0 L121.4,409.5 L120.3,410.0 L119.7,408.5Z M119.2,406.9 L119.8,408.5 L118.7,408.9 L118.2,407.3Z M112.5,408.1 L112.8,409.6 L111.6,409.8 L111.4,408.2Z M112.7,409.3 L113.0,410.9 L111.8,411.0 L111.6,409.5Z M107.8,409.3 L107.8,410.9 L106.6,410.9 L106.7,409.3Z M107.8,412.0 L107.8,413.6 L106.5,413.6 L106.6,412.0Z M106.7,412.1 L106.7,413.7 L105.4,413.7 L105.5,412.1Z M105.6,412.1 L105.5,413.8 L104.3,413.7 L104.4,412.0Z M104.6,412.1 L104.4,413.8 L103.1,413.6 L103.4,412.0Z M101.1,407.7 L100.8,409.2 L99.7,408.9 L100.1,407.4Z M100.9,408.9 L100.6,410.4 L99.4,410.1 L99.8,408.6Z M100.0,408.5 L99.6,409.9 L98.5,409.6 L98.9,408.2Z M97.4,410.1 L96.9,411.6 L95.7,411.2 L96.3,409.7Z M96.4,409.8 L95.8,411.3 L94.6,410.9 L95.2,409.4Z M97.4,404.2 L96.8,405.8 L95.8,405.4 L96.5,403.8Z M96.4,406.9 L95.8,408.4 L94.7,408.0 L95.4,406.4Z M95.9,408.2 L95.2,409.7 L94.1,409.3 L94.8,407.7Z M94.1,407.2 L93.4,408.7 L92.3,408.2 L93.1,406.7Z M90.9,406.7 L90.1,408.0 L89.0,407.4 L89.9,406.1Z M90.2,404.0 L89.3,405.3 L88.4,404.6 L89.2,403.4Z M89.5,405.0 L88.6,406.3 L87.7,405.6 L88.5,404.4Z M89.2,403.7 L88.3,404.9 L87.4,404.2 L88.3,403.0Z M88.5,404.7 L87.6,405.9 L86.6,405.1 L87.6,404.0Z M86.8,399.1 L85.7,400.2 L84.9,399.4 L86.1,398.3Z M84.0,400.4 L82.9,401.5 L82.1,400.6 L83.3,399.6Z M83.2,399.8 L82.0,400.9 L81.2,399.9 L82.4,398.9Z M80.8,399.1 L79.4,400.1 L78.6,399.1 L80.0,398.1Z M81.5,397.2 L80.1,398.3 L79.4,397.3 L80.8,396.3Z M82.8,394.0 L81.4,394.8 L80.9,393.9 L82.2,393.1Z M81.7,394.7 L80.3,395.5 L79.7,394.6 L81.1,393.8Z M82.5,393.1 L81.1,393.9 L80.6,392.9 L82.0,392.2Z M81.8,392.4 L80.5,393.1 L79.9,392.2 L81.3,391.5Z M81.0,390.7 L79.5,391.4 L79.1,390.4 L80.6,389.8Z M79.8,391.3 L78.3,392.0 L77.8,391.0 L79.3,390.3Z M80.9,389.8 L79.3,390.5 L78.9,389.5 L80.5,388.8Z M79.5,390.4 L77.9,391.1 L77.4,390.0 L79.1,389.4Z M76.7,391.6 L75.0,392.3 L74.6,391.1 L76.2,390.5Z M76.3,390.6 L74.5,391.3 L74.1,390.1 L75.8,389.5Z M78.7,387.6 L77.0,388.2 L76.6,387.1 L78.3,386.6Z M76.5,384.1 L74.9,384.4 L74.7,383.3 L76.3,383.0Z M79.1,382.7 L77.5,383.0 L77.3,381.9 L79.0,381.7Z M76.3,383.1 L74.6,383.4 L74.4,382.2 L76.1,382.0Z M80.1,380.8 L78.4,380.9 L78.3,379.9 L80.1,379.8Z M79.8,379.9 L78.0,380.0 L78.0,379.0 L79.8,378.9Z" fill="#2f9a5c" stroke="#2f9a5c" stroke-width="0.25"/>
<path d="M78.1,378.2 L76.4,378.2 L76.5,377.1 L78.2,377.1Z M76.9,377.2 L75.2,377.1 L75.2,376.0 L76.9,376.1Z M80.0,370.1 L78.4,369.7 L78.8,368.6 L80.3,369.1Z M95.9,351.0 L95.3,349.5 L96.3,349.1 L96.9,350.6Z M94.8,348.5 L94.2,347.0 L95.3,346.5 L95.9,348.0Z M97.4,352.1 L96.7,350.5 L97.7,350.2 L98.3,351.8Z M96.8,350.8 L96.2,349.2 L97.2,348.8 L97.8,350.4Z M95.2,346.7 L94.6,345.2 L95.8,344.7 L96.3,346.3Z M97.6,350.3 L97.1,348.7 L98.1,348.4 L98.6,350.0Z M97.1,349.0 L96.6,347.3 L97.7,347.0 L98.2,348.6Z M96.6,347.6 L96.1,346.0 L97.2,345.6 L97.7,347.2Z M96.1,346.2 L95.6,344.6 L96.8,344.2 L97.3,345.8Z M98.9,351.1 L98.3,349.5 L99.4,349.2 L99.8,350.8Z M98.4,349.8 L97.9,348.2 L99.0,347.8 L99.4,349.4Z M98.0,348.4 L97.5,346.8 L98.6,346.5 L99.0,348.1Z M97.1,345.7 L96.6,344.1 L97.8,343.7 L98.2,345.3Z M98.1,345.3 L97.6,343.7 L98.9,343.4 L99.3,344.9Z M99.1,345.0 L98.8,343.5 L100.0,343.2 L100.3,344.7Z M101.1,348.7 L100.7,347.2 L101.8,347.0 L102.1,348.5Z M100.8,347.4 L100.4,346.0 L101.6,345.7 L101.9,347.2Z M100.2,345.0 L99.9,343.5 L101.1,343.2 L101.4,344.7Z M102.3,350.0 L102.0,348.5 L103.0,348.3 L103.3,349.9Z M102.0,348.8 L101.8,347.3 L102.9,347.1 L103.1,348.6Z M102.6,346.3 L102.3,344.7 L103.5,344.6 L103.7,346.1Z M104.1,350.2 L103.9,348.6 L105.0,348.5 L105.1,350.1Z M103.4,344.8 L103.2,343.2 L104.5,343.1 L104.6,344.7Z M105.8,348.4 L105.7,346.8 L106.8,346.7 L106.8,348.3Z M106.7,348.2 L106.6,346.6 L107.8,346.6 L107.8,348.2Z M106.6,344.1 L106.5,342.5 L107.8,342.5 L107.8,344.1Z M107.6,344.1 L107.6,342.5 L108.9,342.5 L108.8,344.1Z M108.6,348.3 L108.6,346.7 L109.7,346.8 L109.6,348.4Z M108.6,347.0 L108.7,345.3 L109.8,345.4 L109.7,347.0Z M108.7,344.2 L108.7,342.6 L110.0,342.7 L109.9,344.3Z M110.3,350.0 L110.4,348.4 L111.5,348.5 L111.3,350.1Z M110.6,347.3 L110.7,345.6 L111.9,345.8 L111.6,347.4Z M110.7,345.9 L110.8,344.3 L112.0,344.4 L111.8,346.0Z M111.5,347.3 L111.7,345.7 L112.9,345.9 L112.6,347.5Z M111.7,346.0 L111.9,344.4 L113.1,344.6 L112.8,346.1Z M112.1,350.0 L112.3,348.4 L113.4,348.6 L113.1,350.2Z M112.3,348.7 L112.5,347.1 L113.6,347.3 L113.3,348.9Z M112.7,346.1 L112.9,344.5 L114.1,344.8 L113.8,346.3Z M112.9,344.8 L113.1,343.2 L114.4,343.5 L114.1,345.0Z M113.9,345.1 L114.2,343.6 L115.4,343.8 L115.1,345.3Z M114.7,346.6 L115.0,345.2 L116.2,345.4 L115.8,346.9Z M114.9,345.4 L115.3,344.0 L116.5,344.3 L116.1,345.7Z M114.7,350.5 L115.1,349.1 L116.1,349.4 L115.7,350.8Z M115.0,349.4 L115.4,347.9 L116.4,348.2 L116.0,349.6Z M115.6,347.0 L116.0,345.6 L117.1,345.9 L116.7,347.3Z M115.5,351.0 L115.9,349.5 L117.0,349.8 L116.5,351.3Z M115.9,349.7 L116.3,348.3 L117.3,348.6 L116.9,350.1Z M116.2,348.5 L116.6,347.1 L117.7,347.4 L117.3,348.9Z M116.6,347.3 L117.0,345.9 L118.1,346.2 L117.7,347.7Z M116.7,350.1 L117.2,348.6 L118.3,348.9 L117.7,350.4Z M118.0,346.3 L118.4,344.8 L119.6,345.2 L119.1,346.7Z M118.6,347.7 L119.1,346.2 L120.2,346.6 L119.6,348.1Z M118.0,351.9 L118.6,350.3 L119.6,350.8 L118.9,352.3Z M118.5,350.6 L119.1,349.0 L120.2,349.4 L119.5,351.0Z M119.1,349.3 L119.7,347.7 L120.7,348.1 L120.1,349.7Z M119.6,347.9 L120.2,346.4 L121.3,346.8 L120.6,348.4Z M119.4,350.9 L120.1,349.3 L121.1,349.8 L120.4,351.3Z M120.0,349.5 L120.7,348.0 L121.7,348.5 L121.0,350.0Z M122.4,349.2 L123.1,347.7 L124.2,348.2 L123.4,349.7Z M123.2,349.7 L124.0,348.3 L125.1,348.9 L124.2,350.3Z M124.8,349.0 L125.6,347.6 L126.7,348.3 L125.9,349.6Z M127.9,351.9 L128.9,350.7 L129.8,351.5 L128.8,352.7Z M128.4,357.4 L129.5,356.2 L130.2,357.0 L129.1,358.1Z M131.9,359.2 L133.3,358.2 L133.9,359.1 L132.6,360.1Z M132.2,363.5 L133.5,362.8 L134.0,363.7 L132.7,364.4Z M136.3,364.6 L137.7,363.9 L138.2,365.0 L136.7,365.6Z M137.5,364.0 L138.9,363.4 L139.4,364.5 L137.9,365.1Z M136.6,365.5 L138.2,364.8 L138.6,365.9 L137.1,366.5Z M138.0,364.9 L139.5,364.3 L140.0,365.4 L138.4,366.0Z M135.3,370.0 L136.8,369.6 L137.1,370.6 L135.6,371.0Z M136.7,372.5 L138.2,372.2 L138.4,373.3 L136.9,373.5Z M137.0,379.9 L138.6,380.0 L138.5,381.1 L136.9,380.9Z M139.8,381.1 L141.4,381.2 L141.2,382.4 L139.6,382.2Z M137.5,382.8 L139.1,383.0 L138.9,384.1 L137.3,383.8Z M136.2,383.5 L137.8,383.8 L137.5,384.8 L136.0,384.5Z M138.7,387.0 L140.1,387.4 L139.8,388.6 L138.3,388.1Z M139.9,387.4 L141.3,387.8 L141.0,389.0 L139.5,388.5Z M137.1,387.6 L138.5,388.0 L138.1,389.1 L136.7,388.6Z M135.5,392.2 L137.1,393.0 L136.5,394.0 L135.0,393.2Z M133.7,392.3 L135.1,393.1 L134.6,394.1 L133.1,393.2Z M133.2,393.1 L134.6,393.9 L134.0,394.9 L132.7,394.0Z M132.9,394.0 L134.1,394.8 L133.5,395.7 L132.3,394.9Z M136.0,395.9 L137.2,396.7 L136.5,397.8 L135.3,396.9Z M132.5,394.9 L133.7,395.7 L133.0,396.6 L131.9,395.8Z M135.4,396.9 L136.6,397.7 L135.9,398.7 L134.7,397.8Z M130.7,402.5 L131.8,403.7 L130.9,404.5 L129.8,403.3Z M127.4,401.8 L128.4,403.1 L127.5,403.8 L126.6,402.5Z M124.2,400.7 L125.2,402.0 L124.3,402.6 L123.4,401.3Z M124.3,402.5 L125.3,403.8 L124.4,404.5 L123.5,403.0Z M118.3,407.3 L118.8,408.9 L117.8,409.3 L117.2,407.6Z M118.8,408.6 L119.4,410.3 L118.2,410.7 L117.7,409.0Z M115.7,405.5 L116.2,407.0 L115.1,407.3 L114.7,405.8Z M114.9,405.8 L115.3,407.3 L114.2,407.6 L113.9,406.1Z M115.2,407.1 L115.6,408.5 L114.5,408.8 L114.2,407.3Z M114.2,407.1 L114.6,408.5 L113.5,408.8 L113.2,407.3Z M113.0,405.7 L113.3,407.2 L112.3,407.3 L112.0,405.9Z M114.0,410.6 L114.3,412.1 L113.0,412.3 L112.8,410.8Z M111.6,408.2 L111.8,409.7 L110.6,409.9 L110.5,408.3Z M110.6,408.4 L110.8,410.0 L109.7,410.1 L109.6,408.5Z M106.7,410.7 L106.7,412.4 L105.5,412.3 L105.6,410.7Z M103.5,412.1 L103.3,413.7 L102.0,413.6 L102.3,411.9Z M94.4,402.5 L93.6,403.9 L92.7,403.4 L93.5,402.0Z M92.4,406.0 L91.7,407.4 L90.6,406.8 L91.4,405.5Z M82.2,400.7 L81.0,401.8 L80.1,400.8 L81.4,399.8Z M81.9,398.2 L80.6,399.2 L79.8,398.3 L81.2,397.3Z M78.1,391.0 L76.5,391.7 L76.0,390.6 L77.7,389.9Z M76.0,389.6 L74.2,390.2 L73.8,389.0 L75.6,388.5Z" fill="#4aab4c" stroke="#4aab4c" stroke-width="0.25"/>
<path d="M95.4,349.7 L94.7,348.3 L95.8,347.8 L96.4,349.3Z M96.3,349.4 L95.7,347.8 L96.7,347.4 L97.3,349.0Z M95.7,348.1 L95.1,346.5 L96.2,346.1 L96.8,347.7Z M98.1,351.7 L97.6,350.1 L98.6,349.8 L99.1,351.4Z M99.6,350.5 L99.2,348.9 L100.2,348.6 L100.6,350.2Z M99.2,349.2 L98.8,347.6 L99.9,347.3 L100.3,348.9Z M100.4,350.0 L100.0,348.5 L101.1,348.3 L101.4,349.8Z M100.1,348.8 L99.7,347.3 L100.8,347.0 L101.2,348.5Z M101.3,349.9 L101.0,348.4 L102.1,348.2 L102.3,349.7Z M100.5,346.2 L100.2,344.7 L101.4,344.5 L101.6,346.0Z M101.6,346.3 L101.3,344.7 L102.5,344.5 L102.7,346.1Z M101.3,345.0 L101.0,343.5 L102.3,343.3 L102.5,344.8Z M102.8,347.6 L102.6,346.0 L103.7,345.9 L103.9,347.4Z M102.4,345.0 L102.1,343.4 L103.4,343.2 L103.6,344.8Z M103.8,347.5 L103.6,345.9 L104.7,345.8 L104.9,347.4Z M103.6,346.2 L103.4,344.6 L104.6,344.4 L104.7,346.1Z M104.7,347.3 L104.6,345.7 L105.7,345.6 L105.8,347.2Z M104.6,345.9 L104.4,344.3 L105.6,344.2 L105.7,345.9Z M105.7,347.0 L105.6,345.4 L106.7,345.4 L106.8,347.0Z M105.6,345.7 L105.5,344.1 L106.7,344.0 L106.7,345.6Z M106.7,349.5 L106.7,347.9 L107.8,347.9 L107.8,349.5Z M106.7,346.8 L106.6,345.2 L107.8,345.2 L107.8,346.8Z M107.6,348.2 L107.6,346.6 L108.8,346.6 L108.7,348.2Z M108.5,349.7 L108.6,348.1 L109.6,348.1 L109.5,349.7Z M109.5,348.5 L109.6,346.9 L110.7,347.0 L110.5,348.6Z M109.8,344.4 L109.9,342.7 L111.1,342.8 L110.9,344.5Z M110.4,348.7 L110.6,347.0 L111.7,347.1 L111.5,348.8Z M110.8,344.5 L111.0,342.9 L112.2,343.0 L112.0,344.6Z M111.4,348.7 L111.6,347.1 L112.7,347.2 L112.4,348.8Z M111.9,344.6 L112.1,343.0 L113.3,343.2 L113.0,344.8Z M113.9,350.2 L114.2,348.7 L115.2,349.0 L114.9,350.4Z M116.9,346.1 L117.3,344.7 L118.5,345.0 L118.0,346.5Z M117.1,348.8 L117.6,347.3 L118.7,347.7 L118.2,349.2Z M117.5,347.6 L118.0,346.1 L119.2,346.5 L118.6,347.9Z M117.6,350.3 L118.2,348.8 L119.2,349.2 L118.6,350.7Z M118.1,349.0 L118.6,347.5 L119.7,347.9 L119.1,349.4Z M119.6,352.6 L120.4,351.1 L121.3,351.5 L120.5,353.1Z M120.2,351.3 L121.0,349.7 L122.0,350.2 L121.2,351.8Z M121.1,351.7 L121.8,350.2 L122.8,350.8 L122.0,352.2Z M121.3,353.3 L122.0,351.9 L123.0,352.4 L122.1,353.8Z M121.9,352.1 L122.7,350.7 L123.7,351.2 L122.8,352.6Z M123.9,348.5 L124.7,347.1 L125.8,347.7 L124.9,349.1Z M125.9,349.4 L126.7,348.1 L127.7,348.8 L126.9,350.0Z M139.5,374.0 L141.2,373.8 L141.3,375.0 L139.7,375.1Z M139.5,388.4 L140.9,388.8 L140.5,390.0 L139.1,389.5Z M119.7,408.3 L120.4,409.9 L119.2,410.3 L118.6,408.7Z M113.3,406.9 L113.5,408.4 L112.5,408.6 L112.2,407.1Z M77.8,390.0 L76.0,390.7 L75.6,389.6 L77.4,389.0Z" fill="#b4d44a" stroke="#b4d44a" stroke-width="0.25"/>
<circle cx="114.9" cy="343.6" r="0.52" fill="#7468bb" opacity="0.75"/>
<circle cx="81.4" cy="381.5" r="0.54" fill="#7468bb" opacity="0.75"/>
<circle cx="124.8" cy="347.1" r="0.41" fill="#7468bb" opacity="0.75"/>
<circle cx="83.8" cy="389.8" r="0.43" fill="#7468bb" opacity="0.75"/>
<circle cx="125.5" cy="398.3" r="0.43" fill="#7468bb" opacity="0.75"/>
<circle cx="78.4" cy="356.4" r="0.36" fill="#7468bb" opacity="0.75"/>
<circle cx="112.4" cy="350.8" r="0.35" fill="#7468bb" opacity="0.75"/>
<circle cx="92.8" cy="410.5" r="0.53" fill="#7468bb" opacity="0.75"/>
<circle cx="130.0" cy="364.5" r="0.30" fill="#7468bb" opacity="0.75"/>
<circle cx="102.5" cy="351.4" r="0.40" fill="#7468bb" opacity="0.75"/>
<circle cx="73.6" cy="392.9" r="0.46" fill="#7468bb" opacity="0.75"/>
<circle cx="132.9" cy="404.4" r="0.51" fill="#7468bb" opacity="0.75"/>
<circle cx="135.5" cy="356.3" r="0.32" fill="#7468bb" opacity="0.75"/>
<circle cx="131.7" cy="363.9" r="0.40" fill="#7468bb" opacity="0.75"/>
<circle cx="137.1" cy="357.0" r="0.43" fill="#7468bb" opacity="0.75"/>
<circle cx="100.1" cy="352.5" r="0.39" fill="#7468bb" opacity="0.75"/>
<circle cx="80.8" cy="384.3" r="0.54" fill="#7468bb" opacity="0.75"/>
<circle cx="139.0" cy="394.9" r="0.32" fill="#7468bb" opacity="0.75"/>
<circle cx="106.3" cy="342.4" r="0.55" fill="#7468bb" opacity="0.75"/>
<circle cx="137.6" cy="397.8" r="0.41" fill="#7468bb" opacity="0.75"/>
<circle cx="76.4" cy="360.1" r="0.53" fill="#7468bb" opacity="0.75"/>
<circle cx="131.7" cy="367.4" r="0.34" fill="#7468bb" opacity="0.75"/>
<circle cx="140.0" cy="392.6" r="0.31" fill="#7468bb" opacity="0.75"/>
<circle cx="70.8" cy="379.1" r="0.39" fill="#7468bb" opacity="0.75"/>
<circle cx="84.7" cy="365.2" r="0.40" fill="#7468bb" opacity="0.75"/>
<circle cx="93.5" cy="401.0" r="0.48" fill="#7468bb" opacity="0.75"/>
<circle cx="110.5" cy="414.6" r="0.53" fill="#7468bb" opacity="0.75"/>
<circle cx="117.4" cy="401.7" r="0.50" fill="#7468bb" opacity="0.75"/>
<circle cx="133.3" cy="373.2" r="0.46" fill="#7468bb" opacity="0.75"/>
<circle cx="75.6" cy="362.8" r="0.50" fill="#7468bb" opacity="0.75"/>
<circle cx="101.2" cy="341.9" r="0.33" fill="#7468bb" opacity="0.75"/>
<circle cx="114.2" cy="343.6" r="0.49" fill="#7468bb" opacity="0.75"/>
<circle cx="123.0" cy="345.8" r="0.32" fill="#7468bb" opacity="0.75"/>
<circle cx="87.7" cy="407.6" r="0.48" fill="#7468bb" opacity="0.75"/>
<circle cx="123.4" cy="356.0" r="0.44" fill="#7468bb" opacity="0.75"/>
<circle cx="122.1" cy="346.2" r="0.30" fill="#7468bb" opacity="0.75"/>
<circle cx="133.2" cy="379.2" r="0.50" fill="#7468bb" opacity="0.75"/>
<circle cx="133.7" cy="382.1" r="0.48" fill="#7468bb" opacity="0.75"/>
<circle cx="71.8" cy="379.9" r="0.49" fill="#7468bb" opacity="0.75"/>
<circle cx="99.9" cy="342.0" r="0.30" fill="#7468bb" opacity="0.75"/>
<circle cx="86.0" cy="395.2" r="0.49" fill="#7468bb" opacity="0.75"/>
<circle cx="116.7" cy="342.0" r="0.52" fill="#7468bb" opacity="0.75"/>
<circle cx="104.4" cy="415.1" r="0.44" fill="#7468bb" opacity="0.75"/>
<circle cx="80.0" cy="381.6" r="0.50" fill="#7468bb" opacity="0.75"/>
<circle cx="93.8" cy="400.6" r="0.31" fill="#7468bb" opacity="0.75"/>
<circle cx="83.9" cy="404.3" r="0.35" fill="#7468bb" opacity="0.75"/>
<circle cx="99.4" cy="351.6" r="0.53" fill="#7468bb" opacity="0.75"/>
<circle cx="80.4" cy="375.2" r="0.43" fill="#7468bb" opacity="0.75"/>
<circle cx="95.5" cy="353.3" r="0.42" fill="#7468bb" opacity="0.75"/>
<circle cx="135.2" cy="400.5" r="0.37" fill="#7468bb" opacity="0.75"/>
<circle cx="75.6" cy="392.1" r="0.53" fill="#7468bb" opacity="0.75"/>
<circle cx="87.4" cy="395.7" r="0.54" fill="#7468bb" opacity="0.75"/>
<circle cx="138.4" cy="359.4" r="0.43" fill="#7468bb" opacity="0.75"/>
<circle cx="134.3" cy="386.4" r="0.51" fill="#7468bb" opacity="0.75"/>
<circle cx="134.4" cy="381.9" r="0.37" fill="#7468bb" opacity="0.75"/>
<circle cx="126.2" cy="347.2" r="0.45" fill="#7468bb" opacity="0.75"/>
<circle cx="90.2" cy="409.5" r="0.43" fill="#7468bb" opacity="0.75"/>
<circle cx="96.7" cy="402.2" r="0.47" fill="#7468bb" opacity="0.75"/>
<circle cx="132.2" cy="369.8" r="0.44" fill="#7468bb" opacity="0.75"/>
<circle cx="81.3" cy="354.2" r="0.35" fill="#7468bb" opacity="0.75"/>
<circle cx="115.5" cy="352.1" r="0.41" fill="#7468bb" opacity="0.75"/>
<circle cx="134.6" cy="353.7" r="0.40" fill="#7468bb" opacity="0.75"/>
<circle cx="84.1" cy="388.0" r="0.51" fill="#7468bb" opacity="0.75"/>
<circle cx="143.1" cy="376.0" r="0.33" fill="#7468bb" opacity="0.75"/>
<circle cx="110.5" cy="414.4" r="0.38" fill="#7468bb" opacity="0.75"/>
<circle cx="134.8" cy="374.8" r="0.34" fill="#7468bb" opacity="0.75"/>
<circle cx="114.0" cy="352.2" r="0.37" fill="#7468bb" opacity="0.75"/>
<circle cx="85.9" cy="349.8" r="0.45" fill="#7468bb" opacity="0.75"/>
<circle cx="132.3" cy="371.3" r="0.44" fill="#7468bb" opacity="0.75"/>
<circle cx="123.3" cy="355.1" r="0.49" fill="#7468bb" opacity="0.75"/>
<circle cx="87.3" cy="396.9" r="0.45" fill="#7468bb" opacity="0.75"/>
<circle cx="95.8" cy="413.0" r="0.34" fill="#7468bb" opacity="0.75"/>
<circle cx="133.3" cy="382.8" r="0.40" fill="#7468bb" opacity="0.75"/>
<circle cx="109.1" cy="350.4" r="0.39" fill="#7468bb" opacity="0.75"/>
<circle cx="134.1" cy="372.7" r="0.44" fill="#7468bb" opacity="0.75"/>
<circle cx="118.8" cy="401.1" r="0.42" fill="#7468bb" opacity="0.75"/>
<circle cx="139.6" cy="393.5" r="0.36" fill="#7468bb" opacity="0.75"/>
<circle cx="101.1" cy="351.4" r="0.44" fill="#7468bb" opacity="0.75"/>
<circle cx="91.4" cy="409.7" r="0.42" fill="#7468bb" opacity="0.75"/>
<circle cx="72.9" cy="367.7" r="0.40" fill="#7468bb" opacity="0.75"/>
<circle cx="86.2" cy="392.9" r="0.39" fill="#7468bb" opacity="0.75"/>
<circle cx="126.7" cy="359.6" r="0.53" fill="#7468bb" opacity="0.75"/>
<circle cx="108.3" cy="341.6" r="0.33" fill="#7468bb" opacity="0.75"/>
<circle cx="75.3" cy="361.3" r="0.39" fill="#7468bb" opacity="0.75"/>
<circle cx="107.0" cy="413.7" r="0.43" fill="#7468bb" opacity="0.75"/>
<circle cx="136.5" cy="400.3" r="0.34" fill="#7468bb" opacity="0.75"/>
<circle cx="80.8" cy="383.6" r="0.31" fill="#7468bb" opacity="0.75"/>
<circle cx="99.7" cy="342.7" r="0.47" fill="#7468bb" opacity="0.75"/>
<circle cx="116.4" cy="413.4" r="0.44" fill="#7468bb" opacity="0.75"/>
<circle cx="118.0" cy="343.7" r="0.47" fill="#7468bb" opacity="0.75"/>
<circle cx="89.2" cy="357.2" r="0.35" fill="#7468bb" opacity="0.75"/>
<circle cx="120.3" cy="400.9" r="0.47" fill="#7468bb" opacity="0.75"/>
<circle cx="108.4" cy="351.6" r="0.53" fill="#7468bb" opacity="0.75"/>
<circle cx="73.5" cy="392.5" r="0.32" fill="#7468bb" opacity="0.75"/>
<circle cx="130.6" cy="404.9" r="0.44" fill="#7468bb" opacity="0.75"/>
<circle cx="101.4" cy="352.0" r="0.37" fill="#7468bb" opacity="0.75"/>
<circle cx="81.4" cy="376.1" r="0.50" fill="#7468bb" opacity="0.75"/>
<circle cx="128.4" cy="359.4" r="0.53" fill="#7468bb" opacity="0.75"/>
<circle cx="104.3" cy="415.1" r="0.32" fill="#7468bb" opacity="0.75"/>
<circle cx="107.5" cy="414.6" r="0.51" fill="#7468bb" opacity="0.75"/>
<circle cx="80.4" cy="353.1" r="0.42" fill="#7468bb" opacity="0.75"/>
<circle cx="87.5" cy="349.2" r="0.33" fill="#7468bb" opacity="0.75"/>
<circle cx="124.4" cy="357.1" r="0.32" fill="#7468bb" opacity="0.75"/>
<circle cx="129.3" cy="349.3" r="0.46" fill="#7468bb" opacity="0.75"/>
<circle cx="119.0" cy="402.3" r="0.31" fill="#7468bb" opacity="0.75"/>
<circle cx="104.5" cy="404.1" r="0.41" fill="#7468bb" opacity="0.75"/>
<circle cx="79.9" cy="402.0" r="0.45" fill="#7468bb" opacity="0.75"/>
<circle cx="119.1" cy="413.4" r="0.31" fill="#7468bb" opacity="0.75"/>
<circle cx="95.9" cy="354.3" r="0.34" fill="#7468bb" opacity="0.75"/>
<circle cx="114.0" cy="351.7" r="0.41" fill="#7468bb" opacity="0.75"/>
<circle cx="87.6" cy="361.2" r="0.49" fill="#7468bb" opacity="0.75"/>
<circle cx="103.7" cy="341.9" r="0.54" fill="#7468bb" opacity="0.75"/>
<circle cx="103.3" cy="413.0" r="0.38" fill="#7468bb" opacity="0.75"/>
<circle cx="143.8" cy="384.8" r="0.36" fill="#7468bb" opacity="0.75"/>
<circle cx="89.1" cy="359.8" r="0.35" fill="#7468bb" opacity="0.75"/>
<circle cx="125.3" cy="347.8" r="0.47" fill="#7468bb" opacity="0.75"/>
<circle cx="82.6" cy="369.8" r="0.43" fill="#7468bb" opacity="0.75"/>
<circle cx="72.8" cy="368.6" r="0.42" fill="#7468bb" opacity="0.75"/>
<circle cx="71.2" cy="374.5" r="0.38" fill="#7468bb" opacity="0.75"/>
<circle cx="115.0" cy="412.9" r="0.52" fill="#7468bb" opacity="0.75"/>
<circle cx="96.1" cy="343.9" r="0.48" fill="#7468bb" opacity="0.75"/>
<circle cx="119.5" cy="353.3" r="0.47" fill="#7468bb" opacity="0.75"/>
<circle cx="72.9" cy="373.4" r="0.33" fill="#7468bb" opacity="0.75"/>
<circle cx="108.1" cy="414.8" r="0.54" fill="#7468bb" opacity="0.75"/>
<circle cx="97.7" cy="354.6" r="0.38" fill="#7468bb" opacity="0.75"/>
<circle cx="75.7" cy="361.2" r="0.47" fill="#7468bb" opacity="0.75"/>
<circle cx="139.6" cy="393.3" r="0.39" fill="#7468bb" opacity="0.75"/>
<circle cx="142.7" cy="371.2" r="0.52" fill="#7468bb" opacity="0.75"/>
<circle cx="140.0" cy="361.2" r="0.39" fill="#7468bb" opacity="0.75"/>
<circle cx="142.8" cy="381.4" r="0.48" fill="#7468bb" opacity="0.75"/>
<circle cx="133.1" cy="389.8" r="0.44" fill="#7468bb" opacity="0.75"/>
<circle cx="140.4" cy="361.6" r="0.36" fill="#7468bb" opacity="0.75"/>
<circle cx="137.0" cy="356.8" r="0.41" fill="#7468bb" opacity="0.75"/>
<circle cx="73.1" cy="368.6" r="0.43" fill="#7468bb" opacity="0.75"/>
<circle cx="86.0" cy="363.8" r="0.38" fill="#7468bb" opacity="0.75"/>
<circle cx="74.2" cy="363.2" r="0.43" fill="#7468bb" opacity="0.75"/>
<circle cx="83.5" cy="350.3" r="0.47" fill="#7468bb" opacity="0.75"/>
<circle cx="120.2" cy="413.1" r="0.36" fill="#7468bb" opacity="0.75"/>
<circle cx="130.2" cy="348.7" r="0.46" fill="#7468bb" opacity="0.75"/>
<circle cx="142.2" cy="390.1" r="0.42" fill="#7468bb" opacity="0.75"/>
<circle cx="143.4" cy="369.3" r="0.32" fill="#7468bb" opacity="0.75"/>
<circle cx="85.4" cy="392.8" r="0.34" fill="#7468bb" opacity="0.75"/>
<circle cx="100.4" cy="342.3" r="0.39" fill="#7468bb" opacity="0.75"/>
<circle cx="72.2" cy="382.1" r="0.47" fill="#7468bb" opacity="0.75"/>
<circle cx="87.7" cy="397.3" r="0.34" fill="#7468bb" opacity="0.75"/>
<circle cx="113.3" cy="403.0" r="0.44" fill="#7468bb" opacity="0.75"/>
<circle cx="102.4" cy="404.2" r="0.50" fill="#7468bb" opacity="0.75"/>
<circle cx="97.5" cy="343.9" r="0.40" fill="#7468bb" opacity="0.75"/>
<circle cx="82.9" cy="386.3" r="0.52" fill="#7468bb" opacity="0.75"/>
<circle cx="126.8" cy="360.9" r="0.35" fill="#7468bb" opacity="0.75"/>
<circle cx="133.2" cy="353.5" r="0.53" fill="#7468bb" opacity="0.75"/>
<circle cx="128.2" cy="361.3" r="0.31" fill="#7468bb" opacity="0.75"/>
<circle cx="132.6" cy="367.1" r="0.37" fill="#7468bb" opacity="0.75"/>
<circle cx="76.8" cy="357.5" r="0.30" fill="#7468bb" opacity="0.75"/>
<circle cx="87.0" cy="395.9" r="0.52" fill="#7468bb" opacity="0.75"/>
<circle cx="83.6" cy="389.9" r="0.40" fill="#7468bb" opacity="0.75"/>
<circle cx="121.6" cy="401.4" r="0.38" fill="#7468bb" opacity="0.75"/>
<circle cx="138.6" cy="358.1" r="0.41" fill="#7468bb" opacity="0.75"/>
<circle cx="133.1" cy="372.7" r="0.48" fill="#7468bb" opacity="0.75"/>
<circle cx="125.6" cy="347.2" r="0.43" fill="#7468bb" opacity="0.75"/>
<circle cx="94.2" cy="411.8" r="0.51" fill="#7468bb" opacity="0.75"/>
<circle cx="141.1" cy="391.7" r="0.43" fill="#7468bb" opacity="0.75"/>
<circle cx="133.3" cy="404.4" r="0.44" fill="#7468bb" opacity="0.75"/>
<circle cx="112.3" cy="351.5" r="0.49" fill="#7468bb" opacity="0.75"/>
<circle cx="115.8" cy="351.8" r="0.37" fill="#7468bb" opacity="0.75"/>
<circle cx="125.2" cy="345.9" r="0.41" fill="#7468bb" opacity="0.75"/>
<circle cx="123.4" cy="355.6" r="0.41" fill="#7468bb" opacity="0.75"/>
<circle cx="132.2" cy="389.2" r="0.49" fill="#7468bb" opacity="0.75"/>
<circle cx="89.9" cy="397.8" r="0.54" fill="#7468bb" opacity="0.75"/>
<circle cx="82.1" cy="388.5" r="0.46" fill="#7468bb" opacity="0.75"/>
<circle cx="134.5" cy="383.4" r="0.55" fill="#7468bb" opacity="0.75"/>
<circle cx="123.2" cy="355.6" r="0.42" fill="#7468bb" opacity="0.75"/>
<circle cx="122.7" cy="410.7" r="0.47" fill="#7468bb" opacity="0.75"/>
<circle cx="107.2" cy="404.7" r="0.54" fill="#7468bb" opacity="0.75"/>
<circle cx="112.9" cy="352.5" r="0.32" fill="#7468bb" opacity="0.75"/>
<circle cx="101.6" cy="404.0" r="0.53" fill="#7468bb" opacity="0.75"/>
<circle cx="119.2" cy="413.0" r="0.43" fill="#7468bb" opacity="0.75"/>
<circle cx="118.4" cy="402.1" r="0.49" fill="#7468bb" opacity="0.75"/>
<circle cx="93.5" cy="410.2" r="0.32" fill="#7468bb" opacity="0.75"/>
<circle cx="133.9" cy="372.2" r="0.53" fill="#7468bb" opacity="0.75"/>
<circle cx="117.3" cy="343.5" r="0.51" fill="#7468bb" opacity="0.75"/>
<circle cx="81.2" cy="383.6" r="0.50" fill="#7468bb" opacity="0.75"/>
<circle cx="140.4" cy="361.5" r="0.32" fill="#7468bb" opacity="0.75"/>
<circle cx="103.1" cy="405.5" r="0.50" fill="#7468bb" opacity="0.75"/>
<circle cx="72.4" cy="372.9" r="0.55" fill="#7468bb" opacity="0.75"/>
<circle cx="73.7" cy="366.3" r="0.34" fill="#7468bb" opacity="0.75"/>
<circle cx="71.1" cy="383.2" r="0.44" fill="#7468bb" opacity="0.75"/>
<circle cx="113.8" cy="403.7" r="0.50" fill="#7468bb" opacity="0.75"/>
<circle cx="81.9" cy="402.0" r="0.41" fill="#7468bb" opacity="0.75"/>
<circle cx="87.7" cy="362.0" r="0.43" fill="#7468bb" opacity="0.75"/>
<circle cx="89.9" cy="346.6" r="0.49" fill="#7468bb" opacity="0.75"/>
<circle cx="98.4" cy="403.3" r="0.52" fill="#7468bb" opacity="0.75"/>
<circle cx="134.8" cy="385.2" r="0.42" fill="#7468bb" opacity="0.75"/>
<circle cx="77.2" cy="359.6" r="0.44" fill="#7468bb" opacity="0.75"/>
<circle cx="83.8" cy="365.6" r="0.35" fill="#7468bb" opacity="0.75"/>
<circle cx="81.6" cy="385.6" r="0.33" fill="#7468bb" opacity="0.75"/>
<circle cx="134.4" cy="376.4" r="0.38" fill="#7468bb" opacity="0.75"/>
<circle cx="79.8" cy="354.2" r="0.34" fill="#7468bb" opacity="0.75"/>
<circle cx="80.9" cy="381.3" r="0.35" fill="#7468bb" opacity="0.75"/>
<circle cx="134.8" cy="372.1" r="0.36" fill="#7468bb" opacity="0.75"/>
<circle cx="74" cy="403" r="0.9" fill="#5a4ea6"/>
<circle cx="80.4" cy="366.8" r="0.56" fill="#6a5eb2"/>
<circle cx="76.3" cy="363.9" r="0.47" fill="#6a5eb2"/>
<circle cx="82.3" cy="365.7" r="0.54" fill="#6a5eb2"/>
<circle cx="79.5" cy="364.3" r="0.43" fill="#6a5eb2"/>
<circle cx="76.6" cy="362.9" r="0.65" fill="#6a5eb2"/>
<circle cx="81.3" cy="364.1" r="0.56" fill="#6a5eb2"/>
<circle cx="79.9" cy="363.4" r="0.62" fill="#6a5eb2"/>
<circle cx="77.1" cy="361.9" r="0.67" fill="#4aa550"/>
<circle cx="83.3" cy="361.0" r="0.71" fill="#4aa550"/>
<circle cx="83.3" cy="358.6" r="0.55" fill="#4aa550"/>
<circle cx="80.3" cy="356.2" r="0.57" fill="#6a5eb2"/>
<circle cx="83.0" cy="357.0" r="0.58" fill="#6a5eb2"/>
<circle cx="82.0" cy="356.1" r="0.61" fill="#4aa550"/>
<circle cx="86.7" cy="357.7" r="0.54" fill="#6a5eb2"/>
<circle cx="85.6" cy="356.7" r="0.49" fill="#6a5eb2"/>
<circle cx="83.6" cy="354.7" r="0.58" fill="#6a5eb2"/>
<circle cx="88.0" cy="356.5" r="0.75" fill="#4aa550"/>
<circle cx="88.7" cy="354.4" r="0.56" fill="#6a5eb2"/>
<circle cx="88.0" cy="351.8" r="0.69" fill="#6a5eb2"/>
<circle cx="91.3" cy="354.8" r="0.64" fill="#6a5eb2"/>
<circle cx="88.9" cy="351.3" r="0.49" fill="#6a5eb2"/>
<circle cx="88.1" cy="350.2" r="0.53" fill="#6a5eb2"/>
<circle cx="91.3" cy="353.1" r="0.40" fill="#6a5eb2"/>
<circle cx="89.7" cy="350.8" r="0.65" fill="#6a5eb2"/>
<circle cx="92.6" cy="353.5" r="0.70" fill="#4aa550"/>
<circle cx="91.2" cy="351.2" r="0.48" fill="#6a5eb2"/>
<circle cx="93.2" cy="352.7" r="0.42" fill="#6a5eb2"/>
<circle cx="91.6" cy="347.8" r="0.41" fill="#6a5eb2"/>
<text x="163.2" y="222.4" font-size="24.5" fill="#222">d</text>
<text x="490.0" y="222.3" font-size="24.5" fill="#222">e</text>
<text x="430.8" y="458.0" font-size="24.5" fill="#222">g</text>
<line x1="230.20" y1="220.90" x2="230.20" y2="388.20" stroke="#1a1a1a" stroke-width="1.4" />
<line x1="223.20" y1="383.50" x2="230.20" y2="383.50" stroke="#1a1a1a" stroke-width="1.3" />
<line x1="223.20" y1="359.50" x2="230.20" y2="359.50" stroke="#1a1a1a" stroke-width="1.3" />
<line x1="223.20" y1="335.50" x2="230.20" y2="335.50" stroke="#1a1a1a" stroke-width="1.3" />
<line x1="223.20" y1="311.50" x2="230.20" y2="311.50" stroke="#1a1a1a" stroke-width="1.3" />
<line x1="223.20" y1="287.50" x2="230.20" y2="287.50" stroke="#1a1a1a" stroke-width="1.3" />
<line x1="223.20" y1="263.50" x2="230.20" y2="263.50" stroke="#1a1a1a" stroke-width="1.3" />
<line x1="223.20" y1="239.50" x2="230.20" y2="239.50" stroke="#1a1a1a" stroke-width="1.3" />
<line x1="229.50" y1="387.50" x2="473.40" y2="387.50" stroke="#1a1a1a" stroke-width="1.4" />
<text x="217.60" y="244.00" font-size="12.8" fill="#2b2b2b" text-anchor="end" >0.3</text>
<text x="217.60" y="292.00" font-size="12.8" fill="#2b2b2b" text-anchor="end" >0.2</text>
<text x="217.60" y="340.00" font-size="12.8" fill="#2b2b2b" text-anchor="end" >0.1</text>
<text x="217.60" y="388.00" font-size="12.8" fill="#2b2b2b" text-anchor="end" >0</text>
<text x="0" y="0" font-size="13.35" fill="#2b2b2b" text-anchor="start" transform="translate(191.60,387.40) rotate(-90)">FLIM-FRET Efficiency</text>
<text x="276.40" y="233.00" font-size="14.2" fill="#2b2b2b" text-anchor="start" >CTxB-488/CTxB-647 FRET</text>
<circle cx="247.50" cy="235.00" r="3.60" fill="#555759" stroke="none" stroke-width="1" />
<circle cx="238.20" cy="254.30" r="3.60" fill="#555759" stroke="none" stroke-width="1" />
<circle cx="244.50" cy="259.00" r="3.60" fill="#555759" stroke="none" stroke-width="1" />
<circle cx="250.70" cy="259.00" r="3.60" fill="#555759" stroke="none" stroke-width="1" />
<circle cx="256.50" cy="259.00" r="3.60" fill="#555759" stroke="none" stroke-width="1" />
<circle cx="247.50" cy="273.20" r="3.60" fill="#555759" stroke="none" stroke-width="1" />
<circle cx="244.50" cy="288.00" r="3.60" fill="#555759" stroke="none" stroke-width="1" />
<circle cx="250.70" cy="288.00" r="3.60" fill="#555759" stroke="none" stroke-width="1" />
<circle cx="247.50" cy="291.80" r="3.60" fill="#555759" stroke="none" stroke-width="1" />
<circle cx="241.40" cy="297.30" r="3.60" fill="#555759" stroke="none" stroke-width="1" />
<circle cx="253.50" cy="297.30" r="3.60" fill="#555759" stroke="none" stroke-width="1" />
<line x1="237.30" y1="273.20" x2="257.70" y2="273.20" stroke="#000" stroke-width="1.6" />
<line x1="247.50" y1="266.40" x2="247.50" y2="279.60" stroke="#000" stroke-width="1.3" />
<line x1="244.30" y1="266.40" x2="250.70" y2="266.40" stroke="#000" stroke-width="1.3" />
<line x1="244.30" y1="279.60" x2="250.70" y2="279.60" stroke="#000" stroke-width="1.3" />
<circle cx="247.50" cy="273.40" r="2.30" fill="#111" stroke="none" stroke-width="1" />
<circle cx="290.20" cy="316.60" r="3.60" fill="#8a973c" stroke="none" stroke-width="1" />
<circle cx="290.20" cy="345.00" r="3.60" fill="#8a973c" stroke="none" stroke-width="1" />
<circle cx="283.80" cy="350.00" r="3.60" fill="#8a973c" stroke="none" stroke-width="1" />
<circle cx="296.60" cy="354.80" r="3.60" fill="#8a973c" stroke="none" stroke-width="1" />
<circle cx="290.20" cy="359.80" r="3.60" fill="#8a973c" stroke="none" stroke-width="1" />
<circle cx="290.20" cy="374.10" r="3.60" fill="#8a973c" stroke="none" stroke-width="1" />
<line x1="283.60" y1="350.00" x2="296.80" y2="350.00" stroke="#000" stroke-width="1.6" />
<line x1="290.20" y1="341.80" x2="290.20" y2="358.20" stroke="#000" stroke-width="1.3" />
<line x1="287.70" y1="341.80" x2="292.70" y2="341.80" stroke="#000" stroke-width="1.3" />
<line x1="287.70" y1="358.20" x2="292.70" y2="358.20" stroke="#000" stroke-width="1.3" />
<circle cx="335.80" cy="335.70" r="3.60" fill="#0b6233" stroke="none" stroke-width="1" />
<circle cx="329.50" cy="340.40" r="3.60" fill="#0b6233" stroke="none" stroke-width="1" />
<circle cx="329.50" cy="350.00" r="3.60" fill="#0b6233" stroke="none" stroke-width="1" />
<circle cx="335.80" cy="354.80" r="3.60" fill="#0b6233" stroke="none" stroke-width="1" />
<line x1="328.00" y1="345.00" x2="337.20" y2="345.00" stroke="#000" stroke-width="1.6" />
<line x1="332.60" y1="340.40" x2="332.60" y2="350.00" stroke="#000" stroke-width="1.3" />
<line x1="330.10" y1="340.40" x2="335.10" y2="340.40" stroke="#000" stroke-width="1.3" />
<line x1="330.10" y1="350.00" x2="335.10" y2="350.00" stroke="#000" stroke-width="1.3" />
<circle cx="375.40" cy="311.70" r="3.60" fill="#555759" stroke="none" stroke-width="1" />
<circle cx="372.30" cy="330.80" r="3.60" fill="#555759" stroke="none" stroke-width="1" />
<circle cx="378.60" cy="330.80" r="3.60" fill="#555759" stroke="none" stroke-width="1" />
<circle cx="375.40" cy="336.10" r="3.60" fill="#555759" stroke="none" stroke-width="1" />
<circle cx="372.30" cy="350.10" r="3.60" fill="#555759" stroke="none" stroke-width="1" />
<circle cx="378.60" cy="354.90" r="3.60" fill="#555759" stroke="none" stroke-width="1" />
<line x1="371.00" y1="336.00" x2="379.80" y2="336.00" stroke="#000" stroke-width="1.6" />
<line x1="375.40" y1="329.40" x2="375.40" y2="342.30" stroke="#000" stroke-width="1.3" />
<line x1="373.10" y1="329.40" x2="377.70" y2="329.40" stroke="#000" stroke-width="1.3" />
<line x1="373.10" y1="342.30" x2="377.70" y2="342.30" stroke="#000" stroke-width="1.3" />
<circle cx="418.10" cy="321.30" r="3.60" fill="#8a973c" stroke="none" stroke-width="1" />
<circle cx="418.10" cy="345.30" r="3.60" fill="#8a973c" stroke="none" stroke-width="1" />
<circle cx="414.70" cy="354.90" r="3.60" fill="#8a973c" stroke="none" stroke-width="1" />
<circle cx="421.10" cy="359.70" r="3.60" fill="#8a973c" stroke="none" stroke-width="1" />
<circle cx="418.10" cy="369.30" r="3.60" fill="#8a973c" stroke="none" stroke-width="1" />
<line x1="413.60" y1="350.10" x2="422.60" y2="350.10" stroke="#000" stroke-width="1.6" />
<line x1="418.10" y1="341.70" x2="418.10" y2="358.10" stroke="#000" stroke-width="1.3" />
<line x1="415.30" y1="341.70" x2="420.90" y2="341.70" stroke="#000" stroke-width="1.3" />
<line x1="415.30" y1="358.10" x2="420.90" y2="358.10" stroke="#000" stroke-width="1.3" />
<circle cx="457.40" cy="321.40" r="3.60" fill="#0b6233" stroke="none" stroke-width="1" />
<circle cx="463.80" cy="326.20" r="3.60" fill="#0b6233" stroke="none" stroke-width="1" />
<circle cx="457.40" cy="335.90" r="3.60" fill="#0b6233" stroke="none" stroke-width="1" />
<circle cx="463.80" cy="345.00" r="3.60" fill="#0b6233" stroke="none" stroke-width="1" />
<circle cx="460.60" cy="350.10" r="3.60" fill="#0b6233" stroke="none" stroke-width="1" />
<line x1="456.40" y1="335.90" x2="464.80" y2="335.90" stroke="#000" stroke-width="1.6" />
<line x1="460.60" y1="330.60" x2="460.60" y2="341.00" stroke="#000" stroke-width="1.3" />
<line x1="458.10" y1="330.60" x2="463.10" y2="330.60" stroke="#000" stroke-width="1.3" />
<line x1="458.10" y1="341.00" x2="463.10" y2="341.00" stroke="#000" stroke-width="1.3" />
<text x="288.60" y="291.20" font-size="12.8" fill="#6b8a3a" text-anchor="middle" >10 nM</text>
<text x="290.30" y="313.30" font-size="19.5" fill="#222" text-anchor="middle" stroke="#222" stroke-width="0.45" letter-spacing="0.9">**</text>
<text x="333.20" y="308.20" font-size="13.2" fill="#1b6b3a" text-anchor="middle" >1 μM</text>
<text x="334.80" y="332.50" font-size="19.5" fill="#222" text-anchor="middle" stroke="#222" stroke-width="0.45" letter-spacing="0.9">**</text>
<text x="416.80" y="306.50" font-size="12.8" fill="#6b8a3a" text-anchor="middle" >10 nM</text>
<text x="459.30" y="307.80" font-size="13.2" fill="#1b6b3a" text-anchor="middle" >1 μM</text>
<text x="253.30" y="401.30" font-size="13" fill="#444" text-anchor="middle" >control</text>
<text x="313.20" y="401.30" font-size="13" fill="#444" text-anchor="middle" >paclitaxel</text>
<text x="379.60" y="401.30" font-size="13" fill="#444" text-anchor="middle" >control</text>
<text x="439.70" y="401.30" font-size="13" fill="#444" text-anchor="middle" >paclitaxel</text>
<line x1="237.80" y1="406.10" x2="344.50" y2="406.10" stroke="#222" stroke-width="1.4" />
<line x1="356.00" y1="406.10" x2="472.80" y2="406.10" stroke="#222" stroke-width="1.4" />
<text x="292.70" y="425.50" font-size="14.2" fill="#2b2b2b" text-anchor="middle" >small DRG</text>
<text x="409.40" y="425.50" font-size="14.2" fill="#2b2b2b" text-anchor="middle" >large DRG</text>
<line x1="558.60" y1="254.00" x2="558.60" y2="387.00" stroke="#1a1a1a" stroke-width="1.4" />
<line x1="551.40" y1="381.50" x2="558.60" y2="381.50" stroke="#1a1a1a" stroke-width="1.3" />
<line x1="551.40" y1="356.00" x2="558.60" y2="356.00" stroke="#1a1a1a" stroke-width="1.3" />
<line x1="551.40" y1="330.50" x2="558.60" y2="330.50" stroke="#1a1a1a" stroke-width="1.3" />
<line x1="551.40" y1="305.00" x2="558.60" y2="305.00" stroke="#1a1a1a" stroke-width="1.3" />
<line x1="551.40" y1="279.50" x2="558.60" y2="279.50" stroke="#1a1a1a" stroke-width="1.3" />
<line x1="551.40" y1="254.00" x2="558.60" y2="254.00" stroke="#1a1a1a" stroke-width="1.3" />
<line x1="557.90" y1="386.30" x2="669.80" y2="386.30" stroke="#1a1a1a" stroke-width="1.4" />
<text x="547.60" y="284.10" font-size="12.8" fill="#2b2b2b" text-anchor="end" >0.08</text>
<text x="547.60" y="335.10" font-size="12.8" fill="#2b2b2b" text-anchor="end" >0.04</text>
<text x="547.60" y="386.10" font-size="12.8" fill="#2b2b2b" text-anchor="end" >0</text>
<text x="0" y="0" font-size="13.2" fill="#2b2b2b" text-anchor="start" transform="translate(515.40,385.60) rotate(-90)">FLIM-FRET Efficiency</text>
<text x="522.00" y="233.20" font-size="14.2" fill="#2b2b2b" text-anchor="start" >L10-CFP/L10-YFP FRET</text>
<circle cx="587.20" cy="318.10" r="3.60" fill="#555759" stroke="none" stroke-width="1" />
<circle cx="587.20" cy="330.10" r="3.60" fill="#555759" stroke="none" stroke-width="1" />
<circle cx="587.20" cy="343.00" r="3.60" fill="#555759" stroke="none" stroke-width="1" />
<circle cx="581.90" cy="355.80" r="3.60" fill="#555759" stroke="none" stroke-width="1" />
<circle cx="592.60" cy="355.80" r="3.60" fill="#555759" stroke="none" stroke-width="1" />
<line x1="579.20" y1="341.00" x2="595.20" y2="341.00" stroke="#000" stroke-width="1.6" />
<line x1="587.20" y1="333.30" x2="587.20" y2="348.10" stroke="#000" stroke-width="1.3" />
<line x1="584.30" y1="333.30" x2="590.10" y2="333.30" stroke="#000" stroke-width="1.3" />
<line x1="584.30" y1="348.10" x2="590.10" y2="348.10" stroke="#000" stroke-width="1.3" />
<circle cx="642.00" cy="279.70" r="3.60" fill="#8a973c" stroke="none" stroke-width="1" />
<circle cx="652.70" cy="279.70" r="3.60" fill="#8a973c" stroke="none" stroke-width="1" />
<circle cx="642.00" cy="292.50" r="3.60" fill="#8a973c" stroke="none" stroke-width="1" />
<circle cx="652.70" cy="292.50" r="3.60" fill="#8a973c" stroke="none" stroke-width="1" />
<circle cx="647.30" cy="305.10" r="3.60" fill="#8a973c" stroke="none" stroke-width="1" />
<circle cx="647.30" cy="317.90" r="3.60" fill="#8a973c" stroke="none" stroke-width="1" />
<line x1="639.10" y1="294.10" x2="655.50" y2="294.10" stroke="#000" stroke-width="1.6" />
<line x1="647.30" y1="288.50" x2="647.30" y2="300.60" stroke="#000" stroke-width="1.3" />
<line x1="643.70" y1="288.50" x2="650.90" y2="288.50" stroke="#000" stroke-width="1.3" />
<line x1="643.70" y1="300.60" x2="650.90" y2="300.60" stroke="#000" stroke-width="1.3" />
<text x="647.40" y="272.10" font-size="19.5" fill="#222" text-anchor="middle" stroke="#222" stroke-width="0.45" letter-spacing="0.9">**</text>
<text x="647.80" y="343.90" font-size="12.8" fill="#6b8a3a" text-anchor="middle" >10 nM</text>
<text x="586.50" y="401.20" font-size="13" fill="#444" text-anchor="middle" >control</text>
<text x="647.00" y="401.20" font-size="13" fill="#444" text-anchor="middle" >paclitaxel</text>
<line x1="566.80" y1="406.00" x2="673.60" y2="406.00" stroke="#222" stroke-width="1.4" />
<text x="618.10" y="425.30" font-size="14.2" fill="#2b2b2b" text-anchor="middle" >small DRG</text>
<path d="M52.80,591.40 L55.50,589.40 L57.60,586.60 L58.60,583.00 L58.90,578.00 L59.40,482.70 L60.00,490.70 L60.60,605.40 L61.90,603.00 L64.53,599.60 L66.24,598.20 L70.42,595.00 L74.60,591.20 L76.50,588.40 L77.45,585.00 L77.90,578.00 L78.40,481.20 L79.00,489.20 L79.60,605.40 L80.90,603.00 L83.53,599.60 L85.24,598.20 L89.42,595.00 L93.60,591.20 L95.50,588.40 L96.45,585.00 L96.90,578.00 L97.40,482.00 L98.00,490.00 L98.60,605.40 L99.90,603.00 L102.53,599.60 L104.24,598.20 L108.42,595.00 L112.60,591.20 L114.50,588.40 L115.45,585.00 L115.90,578.00 L116.40,482.10 L117.00,490.10 L117.60,605.40 L118.90,603.00 L120.91,599.60 L122.41,598.20 L126.09,595.00 L129.76,591.20 L131.43,588.40 L132.26,585.00 L132.60,578.00 L133.10,481.20 L133.70,489.20 L134.30,605.40 L135.60,603.00 L138.12,599.60 L139.80,598.20 L143.89,595.00 L147.98,591.20 L149.84,588.40 L150.77,585.00 L151.20,578.00 L151.70,481.30 L152.30,489.30 L152.90,605.40 L154.20,603.00 L157.02,599.60 L158.79,598.20 L163.13,595.00 L167.46,591.20 L169.43,588.40 L170.41,585.00 L170.90,578.00 L171.40,481.80 L172.00,489.80 L172.60,605.40 L173.90,603.00 L176.40,599.60 L178.06,598.20 L182.13,595.00 L186.20,591.20 L188.05,588.40 L188.97,585.00 L189.40,578.00 L189.90,482.00 L190.50,490.00 L191.10,605.40 L192.40,603.00 L194.95,599.60 L196.63,598.20 L200.75,595.00 L204.86,591.20 L206.73,588.40 L207.66,585.00 L208.10,578.00 L208.60,482.20 L209.20,490.20 L209.80,605.40 L211.10,603.20 L214.10,599.80 L217.60,596.50 L221.50,592.40" fill="none" stroke="#111" stroke-width="1.25" stroke-linejoin="round" />
<text x="37.70" y="470.50" font-size="14" fill="#2b2b2b" text-anchor="start" >Control</text>
<text x="-0.6" y="457.8" font-size="25.5" fill="#222">f</text>
<path d="M17.5,571 L17.5,595.5 L41.9,595.5" fill="none" stroke="#1a1a1a" stroke-width="1.5"/>
<text x="0" y="0" font-size="11.8" fill="#2b2b2b" text-anchor="start" transform="translate(11.70,599.90) rotate(-90)">20 mV</text>
<text x="18.00" y="608.70" font-size="11.8" fill="#2b2b2b" text-anchor="start" >0.2 s</text>
<path d="M251.10,586.60 L251.80,584.00 L252.10,576.00 L252.40,482.40 L252.85,490.40 L253.40,606.00 L254.77,600.50 L256.75,594.50 L258.72,589.50 L259.67,585.00 L260.00,576.00 L260.30,484.90 L260.75,492.90 L261.30,606.00 L262.73,600.50 L264.75,594.50 L266.78,589.50 L267.75,585.00 L268.10,576.00 L268.40,482.40 L268.85,490.40 L269.40,606.00 L270.83,600.50 L272.86,594.50 L274.88,589.50 L275.85,585.00 L276.20,576.00 L276.50,484.00 L276.95,492.00 L277.50,606.00 L278.87,600.50 L280.84,594.50 L282.82,589.50 L283.77,585.00 L284.10,576.00 L284.40,482.40 L284.85,490.40 L285.40,606.00 L287.04,600.50 L289.24,594.50 L291.44,589.50 L292.50,585.00 L292.90,576.00 L293.20,483.00 L293.65,491.00 L294.20,606.00 L295.63,600.50 L297.65,594.50 L299.68,589.50 L300.65,585.00 L301.00,576.00 L301.30,483.00 L301.75,491.00 L302.30,606.00 L303.85,600.50 L305.98,594.50 L308.10,589.50 L309.12,585.00 L309.50,576.00 L309.80,483.50 L310.25,491.50 L310.80,606.00 L311.96,600.50 L313.76,594.50 L315.56,589.50 L316.42,585.00 L316.70,576.00 L317.00,481.70 L317.45,489.70 L318.00,606.00 L319.49,600.50 L321.56,594.50 L323.64,589.50 L324.64,585.00 L325.00,576.00 L325.30,481.90 L325.75,489.90 L326.30,606.00 L327.76,600.50 L329.81,594.50 L331.86,589.50 L332.84,585.00 L333.20,576.00 L333.50,483.00 L333.95,491.00 L334.50,606.00 L335.90,600.50 L337.90,594.50 L339.90,589.50 L340.86,585.00 L341.20,576.00 L341.50,483.50 L341.95,491.50 L342.50,606.00 L343.33,600.50 L344.86,594.50 L346.38,589.50 L347.11,585.00 L347.30,576.00 L347.60,488.50 L348.05,496.50 L348.60,606.00 L349.76,600.50 L351.56,594.50 L353.36,589.50 L354.22,585.00 L354.50,576.00 L354.80,488.00 L355.25,496.00 L355.80,606.00 L357.50,600.50 L359.75,594.50 L362.00,589.50 L363.08,585.00 L363.50,576.00 L363.80,483.00 L364.25,491.00 L364.80,606.00 L366.50,600.50 L368.75,594.50 L371.00,589.50 L372.08,585.00 L372.50,576.00 L372.80,485.30 L373.25,493.30 L373.80,606.00 L375.41,600.50 L377.58,594.50 L379.76,589.50 L380.80,585.00 L381.20,576.00 L381.50,486.20 L381.95,494.20 L382.50,606.00 L384.47,600.50 L386.94,594.50 L389.42,589.50 L390.61,585.00 L391.10,576.00 L391.40,484.00 L391.85,492.00 L392.40,606.00 L394.25,600.50 L396.62,594.50 L399.00,589.50 L400.14,585.00 L400.60,576.00 L400.90,484.60 L401.35,492.60 L401.90,606.00 L403.99,600.50 L406.56,594.50 L409.14,589.50 L410.38,585.00 L410.90,576.00 L411.20,484.00 L411.65,492.00 L412.20,606.00 L413.40,601.50 L415.70,594.00 L417.70,589.00 L419.20,585.90" fill="none" stroke="#8a963a" stroke-width="1.05" stroke-linejoin="round" />
<text x="243.10" y="468.90" font-size="14.2" fill="#2b2b2b" text-anchor="start" >10 nM paclitaxel</text>
<line x1="499.80" y1="452.20" x2="499.80" y2="584.20" stroke="#1a1a1a" stroke-width="1.5" />
<line x1="494.00" y1="579.10" x2="499.80" y2="579.10" stroke="#1a1a1a" stroke-width="1.3" />
<line x1="494.00" y1="558.00" x2="499.80" y2="558.00" stroke="#1a1a1a" stroke-width="1.3" />
<line x1="494.00" y1="536.90" x2="499.80" y2="536.90" stroke="#1a1a1a" stroke-width="1.3" />
<line x1="494.00" y1="515.80" x2="499.80" y2="515.80" stroke="#1a1a1a" stroke-width="1.3" />
<line x1="494.00" y1="494.70" x2="499.80" y2="494.70" stroke="#1a1a1a" stroke-width="1.3" />
<line x1="494.00" y1="473.60" x2="499.80" y2="473.60" stroke="#1a1a1a" stroke-width="1.3" />
<line x1="494.00" y1="452.50" x2="499.80" y2="452.50" stroke="#1a1a1a" stroke-width="1.3" />
<line x1="499.10" y1="583.60" x2="667.60" y2="583.60" stroke="#1a1a1a" stroke-width="1.5" />
<line x1="504.85" y1="583.60" x2="504.85" y2="589.60" stroke="#1a1a1a" stroke-width="1.3" />
<line x1="535.60" y1="583.60" x2="535.60" y2="589.60" stroke="#1a1a1a" stroke-width="1.3" />
<line x1="566.35" y1="583.60" x2="566.35" y2="589.60" stroke="#1a1a1a" stroke-width="1.3" />
<line x1="597.10" y1="583.60" x2="597.10" y2="589.60" stroke="#1a1a1a" stroke-width="1.3" />
<line x1="627.85" y1="583.60" x2="627.85" y2="589.60" stroke="#1a1a1a" stroke-width="1.3" />
<line x1="658.60" y1="583.60" x2="658.60" y2="589.60" stroke="#1a1a1a" stroke-width="1.3" />
<text x="489.80" y="457.60" font-size="13.5" fill="#2b2b2b" text-anchor="end" >30</text>
<text x="489.80" y="499.80" font-size="13.5" fill="#2b2b2b" text-anchor="end" >20</text>
<text x="489.80" y="542.00" font-size="13.5" fill="#2b2b2b" text-anchor="end" >10</text>
<text x="489.80" y="584.20" font-size="13.5" fill="#2b2b2b" text-anchor="end" >0</text>
<text x="535.60" y="603.20" font-size="13" fill="#2b2b2b" text-anchor="middle" >0</text>
<text x="597.10" y="603.20" font-size="13" fill="#2b2b2b" text-anchor="middle" >20</text>
<text x="658.60" y="603.20" font-size="13" fill="#2b2b2b" text-anchor="middle" >40</text>
<text x="0" y="0" font-size="12.9" fill="#2b2b2b" text-anchor="start" transform="translate(465.20,584.30) rotate(-90)">Number of APs (1 s)</text>
<text x="487.00" y="619.80" font-size="13.05" fill="#2b2b2b" text-anchor="start" >Amplitude of current injection (pA)</text>
<line x1="535.60" y1="494.20" x2="535.60" y2="524.30" stroke="#8a973c" stroke-width="1.4" />
<line x1="530.80" y1="494.20" x2="540.40" y2="494.20" stroke="#8a973c" stroke-width="1.4" />
<line x1="530.80" y1="524.30" x2="540.40" y2="524.30" stroke="#8a973c" stroke-width="1.4" />
<line x1="597.10" y1="468.40" x2="597.10" y2="491.30" stroke="#8a973c" stroke-width="1.4" />
<line x1="592.30" y1="468.40" x2="601.90" y2="468.40" stroke="#8a973c" stroke-width="1.4" />
<line x1="592.30" y1="491.30" x2="601.90" y2="491.30" stroke="#8a973c" stroke-width="1.4" />
<line x1="658.60" y1="464.80" x2="658.60" y2="511.50" stroke="#8a973c" stroke-width="1.4" />
<line x1="653.80" y1="464.80" x2="663.40" y2="464.80" stroke="#8a973c" stroke-width="1.4" />
<line x1="653.80" y1="511.50" x2="663.40" y2="511.50" stroke="#8a973c" stroke-width="1.4" />
<line x1="535.60" y1="551.10" x2="535.60" y2="563.30" stroke="#000" stroke-width="1.4" />
<line x1="531.00" y1="551.10" x2="540.20" y2="551.10" stroke="#000" stroke-width="1.4" />
<line x1="531.00" y1="563.30" x2="540.20" y2="563.30" stroke="#000" stroke-width="1.4" />
<circle cx="535.60" cy="557.40" r="4.20" fill="#000" stroke="none" stroke-width="1" />
<line x1="597.10" y1="503.10" x2="597.10" y2="516.30" stroke="#000" stroke-width="1.4" />
<line x1="592.50" y1="503.10" x2="601.70" y2="503.10" stroke="#000" stroke-width="1.4" />
<line x1="592.50" y1="516.30" x2="601.70" y2="516.30" stroke="#000" stroke-width="1.4" />
<circle cx="597.10" cy="509.80" r="4.20" fill="#000" stroke="none" stroke-width="1" />
<line x1="658.60" y1="471.30" x2="658.60" y2="495.40" stroke="#000" stroke-width="1.4" />
<line x1="654.00" y1="471.30" x2="663.20" y2="471.30" stroke="#000" stroke-width="1.4" />
<line x1="654.00" y1="495.40" x2="663.20" y2="495.40" stroke="#000" stroke-width="1.4" />
<circle cx="658.60" cy="483.40" r="4.20" fill="#000" stroke="none" stroke-width="1" />
<rect x="531.30" y="505.10" width="8.6" height="8.6" fill="#8a973c"/>
<rect x="592.80" y="475.40" width="8.6" height="8.6" fill="#8a973c"/>
<rect x="654.30" y="483.40" width="8.6" height="8.6" fill="#8a973c"/>
</svg>
</body></html>
